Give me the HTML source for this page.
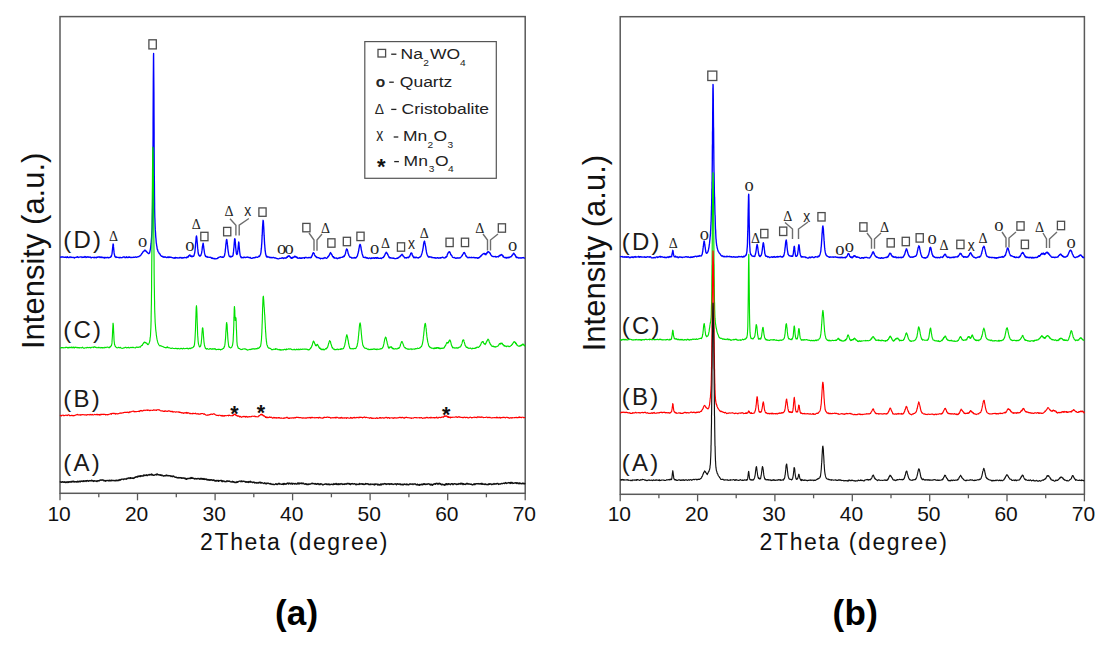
<!DOCTYPE html>
<html><head><meta charset="utf-8"><style>
html,body{margin:0;padding:0;background:#fff;}
body{width:1109px;height:649px;overflow:hidden;}
svg{display:block;}
text{font-family:"Liberation Sans",sans-serif;fill:#111;}
.tl{font-size:21px;}
.lg{font-size:15.5px;fill:#222;}
.sub{font-size:9px;fill:#222;}
.mk{font-family:"Liberation Serif",serif;fill:#262626;text-anchor:middle;}
.mks{font-family:"Liberation Sans",sans-serif;fill:#262626;text-anchor:middle;}
.cl{font-size:24px;fill:#1a1a1a;letter-spacing:2.2px;}
.ax{font-size:23px;fill:#111;letter-spacing:1.6px;}
.yl{font-size:31px;fill:#111;}
.pl{font-size:35px;font-weight:bold;fill:#000;letter-spacing:0.3px;}
</style></head><body>
<svg width="1109" height="649" viewBox="0 0 1109 649">
<rect x="60.0" y="16.6" width="465.2" height="476.7" fill="none" stroke="#595959" stroke-width="1.5"/><line x1="60.0" y1="493.3" x2="60.0" y2="500.3" stroke="#595959" stroke-width="1.3"/><line x1="98.8" y1="493.3" x2="98.8" y2="497.3" stroke="#595959" stroke-width="1.3"/><line x1="137.5" y1="493.3" x2="137.5" y2="500.3" stroke="#595959" stroke-width="1.3"/><line x1="176.3" y1="493.3" x2="176.3" y2="497.3" stroke="#595959" stroke-width="1.3"/><line x1="215.1" y1="493.3" x2="215.1" y2="500.3" stroke="#595959" stroke-width="1.3"/><line x1="253.8" y1="493.3" x2="253.8" y2="497.3" stroke="#595959" stroke-width="1.3"/><line x1="292.6" y1="493.3" x2="292.6" y2="500.3" stroke="#595959" stroke-width="1.3"/><line x1="331.4" y1="493.3" x2="331.4" y2="497.3" stroke="#595959" stroke-width="1.3"/><line x1="370.1" y1="493.3" x2="370.1" y2="500.3" stroke="#595959" stroke-width="1.3"/><line x1="408.9" y1="493.3" x2="408.9" y2="497.3" stroke="#595959" stroke-width="1.3"/><line x1="447.7" y1="493.3" x2="447.7" y2="500.3" stroke="#595959" stroke-width="1.3"/><line x1="486.4" y1="493.3" x2="486.4" y2="497.3" stroke="#595959" stroke-width="1.3"/><line x1="525.2" y1="493.3" x2="525.2" y2="500.3" stroke="#595959" stroke-width="1.3"/><rect x="620.2" y="16.7" width="464.2" height="477.6" fill="none" stroke="#595959" stroke-width="1.5"/><line x1="620.2" y1="494.3" x2="620.2" y2="501.3" stroke="#595959" stroke-width="1.3"/><line x1="658.9" y1="494.3" x2="658.9" y2="498.3" stroke="#595959" stroke-width="1.3"/><line x1="697.6" y1="494.3" x2="697.6" y2="501.3" stroke="#595959" stroke-width="1.3"/><line x1="736.2" y1="494.3" x2="736.2" y2="498.3" stroke="#595959" stroke-width="1.3"/><line x1="774.9" y1="494.3" x2="774.9" y2="501.3" stroke="#595959" stroke-width="1.3"/><line x1="813.6" y1="494.3" x2="813.6" y2="498.3" stroke="#595959" stroke-width="1.3"/><line x1="852.3" y1="494.3" x2="852.3" y2="501.3" stroke="#595959" stroke-width="1.3"/><line x1="891.0" y1="494.3" x2="891.0" y2="498.3" stroke="#595959" stroke-width="1.3"/><line x1="929.7" y1="494.3" x2="929.7" y2="501.3" stroke="#595959" stroke-width="1.3"/><line x1="968.4" y1="494.3" x2="968.4" y2="498.3" stroke="#595959" stroke-width="1.3"/><line x1="1007.0" y1="494.3" x2="1007.0" y2="501.3" stroke="#595959" stroke-width="1.3"/><line x1="1045.7" y1="494.3" x2="1045.7" y2="498.3" stroke="#595959" stroke-width="1.3"/><line x1="1084.4" y1="494.3" x2="1084.4" y2="501.3" stroke="#595959" stroke-width="1.3"/><text x="0" y="521.2" class="tl" text-anchor="middle" transform="translate(59.1,0) scale(1.0,1)">10</text><text x="0" y="521.2" class="tl" text-anchor="middle" transform="translate(136.6,0) scale(1.0,1)">20</text><text x="0" y="521.2" class="tl" text-anchor="middle" transform="translate(214.2,0) scale(1.0,1)">30</text><text x="0" y="521.2" class="tl" text-anchor="middle" transform="translate(291.7,0) scale(1.0,1)">40</text><text x="0" y="521.2" class="tl" text-anchor="middle" transform="translate(369.2,0) scale(1.0,1)">50</text><text x="0" y="521.2" class="tl" text-anchor="middle" transform="translate(446.8,0) scale(1.0,1)">60</text><text x="0" y="521.2" class="tl" text-anchor="middle" transform="translate(524.3,0) scale(1.0,1)">70</text><text x="0" y="521.2" class="tl" text-anchor="middle" transform="translate(619.3,0) scale(1.0,1)">10</text><text x="0" y="521.2" class="tl" text-anchor="middle" transform="translate(696.7,0) scale(1.0,1)">20</text><text x="0" y="521.2" class="tl" text-anchor="middle" transform="translate(774.0,0) scale(1.0,1)">30</text><text x="0" y="521.2" class="tl" text-anchor="middle" transform="translate(851.4,0) scale(1.0,1)">40</text><text x="0" y="521.2" class="tl" text-anchor="middle" transform="translate(928.8,0) scale(1.0,1)">50</text><text x="0" y="521.2" class="tl" text-anchor="middle" transform="translate(1006.1,0) scale(1.0,1)">60</text><text x="0" y="521.2" class="tl" text-anchor="middle" transform="translate(1083.5,0) scale(1.0,1)">70</text><polyline fill="none" stroke="#0000ff" stroke-width="1.35" stroke-linejoin="round" points="60.0,257.1 60.5,257.1 61.0,257.3 61.5,256.9 62.0,256.9 62.5,257.1 63.0,256.8 63.5,257.2 64.0,257.3 64.5,257.3 65.0,257.0 65.5,257.3 66.0,257.0 66.5,257.6 67.0,257.3 67.5,256.7 68.0,257.4 68.5,257.6 69.0,257.5 69.5,257.3 70.0,256.9 70.5,257.0 71.0,257.5 71.5,257.2 72.0,257.5 72.5,257.4 73.0,257.3 73.5,257.5 74.0,257.5 74.5,258.0 75.0,257.5 75.5,257.4 76.0,257.4 76.5,257.3 77.0,256.9 77.5,256.7 78.0,257.4 78.5,257.5 79.0,257.2 79.5,257.1 80.0,257.0 80.5,256.8 81.0,256.8 81.5,256.9 82.0,257.5 82.5,257.1 83.0,257.3 83.5,257.0 84.0,257.4 84.5,257.2 85.0,256.5 85.5,256.9 86.0,257.5 86.5,257.0 87.0,257.4 87.5,256.8 88.0,256.7 88.5,257.2 89.0,257.4 89.5,257.1 90.0,257.0 90.5,257.2 91.0,257.7 91.5,257.7 92.0,257.3 92.5,257.3 93.0,257.3 93.5,257.3 94.0,257.9 94.5,257.2 95.0,257.6 95.5,257.6 96.0,257.3 96.5,257.7 97.0,257.1 97.5,257.4 98.0,256.9 98.5,257.0 99.0,256.9 99.5,256.8 100.0,257.5 100.5,257.3 101.0,256.9 101.5,257.5 102.0,257.1 102.5,257.4 103.0,257.8 103.5,257.6 104.0,257.3 104.5,258.1 105.0,257.4 105.5,257.5 106.0,257.9 106.5,257.7 107.0,257.5 107.5,257.3 108.0,257.4 108.5,257.9 109.0,257.5 109.5,257.6 110.0,257.3 110.1,257.2 110.4,257.4 110.5,257.0 110.6,257.1 110.9,257.0 111.0,256.1 111.1,256.0 111.4,256.3 111.5,256.0 111.6,255.2 111.9,254.2 112.0,253.8 112.1,253.1 112.4,250.3 112.5,249.3 112.6,248.2 112.9,245.5 113.0,244.6 113.1,244.0 113.4,244.8 113.5,246.9 113.6,247.5 113.9,250.7 114.0,251.6 114.1,252.9 114.4,254.5 114.5,254.8 114.6,255.2 114.9,256.5 115.0,256.2 115.1,256.5 115.4,256.9 115.5,257.1 115.6,257.1 115.9,256.9 116.0,257.5 116.1,257.1 116.5,257.0 117.0,257.3 117.5,257.4 118.0,257.3 118.5,257.6 119.0,257.7 119.5,257.8 120.0,257.3 120.5,257.4 121.0,257.8 121.5,257.7 122.0,257.6 122.5,257.5 123.0,257.2 123.5,256.9 124.0,257.0 124.5,257.0 125.0,257.7 125.5,257.4 126.0,257.6 126.5,256.8 127.0,257.3 127.5,257.3 128.0,257.7 128.5,257.0 129.0,257.4 129.5,256.9 130.0,257.3 130.5,257.4 131.0,257.7 131.5,257.4 132.0,257.3 132.5,257.3 133.0,257.5 133.5,257.1 134.0,257.1 134.5,257.3 135.0,257.3 135.5,256.9 136.0,257.2 136.5,257.3 137.0,257.0 137.5,256.8 138.0,256.7 138.5,256.7 139.0,256.6 139.5,255.8 140.0,255.8 140.5,255.6 141.0,254.9 141.5,254.2 141.9,253.4 142.0,253.5 142.2,253.1 142.4,252.6 142.5,252.8 142.7,252.2 142.9,252.2 143.0,251.6 143.2,251.8 143.4,251.5 143.5,251.2 143.7,251.4 143.9,251.0 144.0,251.0 144.2,250.9 144.4,250.4 144.5,250.1 144.7,250.2 144.9,250.5 145.0,250.1 145.2,250.2 145.4,250.8 145.5,250.8 145.7,250.8 145.9,251.4 146.0,251.1 146.2,251.5 146.4,251.3 146.5,251.5 146.7,251.7 146.9,252.2 147.0,252.2 147.2,252.1 147.4,252.5 147.5,252.6 147.7,252.4 147.9,253.0 148.0,253.2 148.5,253.6 149.0,253.5 149.5,253.0 150.0,251.1 150.5,248.4 150.6,248.0 150.8,245.9 151.0,244.2 151.1,243.7 151.3,241.0 151.5,238.5 151.6,237.2 151.8,233.4 152.0,230.1 152.1,227.6 152.3,219.4 152.5,210.6 152.6,205.6 152.8,178.0 153.0,150.4 153.1,134.5 153.1,121.7 153.3,81.8 153.4,70.3 153.5,56.4 153.6,53.4 153.6,54.5 153.8,80.1 153.9,91.6 154.0,114.9 154.1,131.5 154.1,143.9 154.3,175.9 154.4,183.9 154.5,195.9 154.6,203.0 154.6,207.5 154.8,217.2 154.9,219.1 155.0,222.8 155.1,224.7 155.1,225.8 155.3,229.9 155.4,231.0 155.5,232.4 155.6,233.6 155.6,234.6 155.8,237.3 155.9,238.0 156.0,239.3 156.1,240.3 156.1,240.7 156.3,243.0 156.4,243.7 156.5,243.9 156.6,245.0 156.6,245.3 156.9,246.5 157.0,247.4 157.1,248.3 157.4,249.6 157.5,249.3 157.6,250.0 157.9,250.9 158.0,251.4 158.1,251.7 158.4,251.8 158.5,252.0 158.6,251.9 158.9,252.7 159.0,253.0 159.1,253.2 159.5,253.9 160.0,254.0 160.5,255.3 161.0,255.7 161.5,256.2 162.0,256.2 162.5,256.7 163.0,256.5 163.5,257.1 164.0,257.3 164.5,257.0 165.0,256.7 165.5,257.2 166.0,257.4 166.5,257.5 167.0,257.3 167.5,257.0 168.0,257.6 168.5,256.9 169.0,257.5 169.5,256.9 170.0,257.1 170.5,257.4 171.0,257.2 171.5,257.3 172.0,257.6 172.5,257.7 173.0,258.0 173.5,257.9 174.0,258.1 174.5,257.7 175.0,258.3 175.5,257.4 176.0,257.6 176.5,257.9 177.0,257.7 177.5,258.0 178.0,257.9 178.5,257.9 179.0,258.1 179.5,257.7 180.0,257.5 180.5,257.5 181.0,257.9 181.5,258.1 182.0,257.5 182.5,258.0 183.0,258.0 183.5,257.6 184.0,257.7 184.5,257.5 185.0,257.7 185.5,257.6 186.0,257.7 186.5,257.1 186.5,257.8 186.7,257.5 187.0,257.4 187.0,257.6 187.2,257.4 187.5,257.1 187.5,257.3 187.7,256.7 188.0,256.8 188.0,256.8 188.2,257.1 188.5,256.7 188.5,256.1 188.7,255.9 189.0,255.4 189.0,255.5 189.2,255.6 189.5,255.6 189.5,255.1 189.7,254.9 190.0,255.0 190.0,255.4 190.2,255.9 190.5,255.7 190.5,256.2 190.7,255.8 191.0,256.0 191.0,256.0 191.2,256.5 191.5,256.4 191.5,256.2 191.7,256.5 192.0,256.0 192.0,256.7 192.2,256.2 192.5,256.6 192.5,256.5 193.0,256.2 193.5,256.1 193.5,256.2 193.7,256.0 194.0,255.6 194.0,255.5 194.2,254.6 194.5,253.6 194.5,253.7 194.7,252.8 195.0,250.9 195.0,250.7 195.2,248.5 195.5,245.9 195.5,245.0 195.7,242.9 196.0,239.9 196.0,239.6 196.2,236.9 196.5,236.0 196.5,236.5 196.7,236.7 197.0,239.7 197.0,240.1 197.2,242.3 197.5,245.5 197.5,246.3 197.7,248.4 198.0,250.7 198.0,251.7 198.2,253.0 198.5,254.4 198.5,253.9 198.7,254.8 199.0,255.6 199.0,255.2 199.2,255.4 199.5,256.0 199.5,256.1 200.0,256.1 200.1,255.7 200.3,256.0 200.5,255.9 200.6,255.6 200.8,255.5 201.0,254.8 201.1,254.5 201.3,253.9 201.5,253.1 201.6,253.1 201.8,251.7 202.0,250.4 202.1,249.6 202.3,247.6 202.5,246.0 202.6,246.0 202.8,244.6 203.0,243.8 203.1,243.1 203.3,243.7 203.5,245.8 203.6,245.8 203.8,248.1 204.0,249.3 204.1,249.8 204.3,251.5 204.5,252.9 204.6,253.4 204.8,254.0 205.0,255.1 205.1,255.3 205.3,255.5 205.5,256.2 205.6,256.5 205.8,256.6 206.0,256.5 206.1,256.4 206.5,257.0 207.0,256.5 207.5,257.2 208.0,257.2 208.5,257.1 209.0,257.3 209.5,257.3 210.0,257.2 210.5,257.5 211.0,257.4 211.5,258.2 212.0,258.2 212.5,257.9 213.0,258.5 213.5,258.5 214.0,258.7 214.5,258.7 215.0,258.4 215.5,258.9 216.0,258.8 216.5,258.6 217.0,258.6 217.5,258.3 218.0,257.7 218.5,257.7 219.0,257.1 219.5,257.1 220.0,257.0 220.5,256.6 221.0,256.9 221.5,257.1 222.0,257.3 222.5,256.9 223.0,257.4 223.5,257.1 223.7,256.8 223.9,256.7 224.0,256.6 224.2,256.2 224.4,255.5 224.5,255.5 224.7,254.5 224.9,253.2 225.0,252.9 225.2,251.6 225.4,249.0 225.5,248.9 225.7,246.8 225.9,244.0 226.0,243.8 226.2,241.8 226.4,240.1 226.5,240.0 226.7,239.4 226.9,240.0 227.0,240.9 227.2,242.3 227.4,244.4 227.5,245.1 227.7,246.6 227.9,249.4 228.0,249.6 228.2,251.3 228.4,252.4 228.5,253.2 228.7,254.4 228.9,254.9 229.0,255.8 229.2,255.9 229.4,256.5 229.5,256.3 229.7,256.6 230.0,256.8 230.5,256.3 231.0,257.0 231.5,256.5 231.8,256.6 232.0,256.5 232.1,256.4 232.3,256.1 232.5,256.3 232.6,256.2 232.8,255.6 233.0,255.4 233.1,254.8 233.3,253.1 233.5,251.9 233.6,250.8 233.8,248.3 234.0,247.0 234.1,245.4 234.3,242.5 234.5,240.5 234.6,239.0 234.8,238.8 235.0,239.4 235.1,239.2 235.3,242.7 235.5,244.3 235.6,245.6 235.7,247.5 235.8,248.3 236.0,249.8 236.0,250.5 236.1,251.1 236.2,251.9 236.3,253.2 236.5,253.7 236.5,253.6 236.6,253.7 236.7,254.4 236.8,254.4 237.0,254.3 237.0,254.1 237.1,254.5 237.2,253.9 237.3,253.7 237.5,253.5 237.5,253.0 237.6,252.4 237.7,251.7 237.8,250.6 238.0,249.6 238.0,248.9 238.2,246.9 238.5,244.1 238.5,243.5 238.7,242.0 239.0,243.2 239.0,244.3 239.2,246.6 239.5,249.8 239.5,250.0 239.7,252.0 240.0,254.2 240.0,254.3 240.2,255.4 240.5,256.1 240.5,256.5 240.7,256.5 241.0,256.8 241.0,257.4 241.2,257.8 241.5,257.7 241.5,257.2 241.7,257.3 242.0,257.6 242.5,257.7 243.0,257.8 243.5,257.2 244.0,257.6 244.5,257.1 245.0,257.3 245.5,257.5 246.0,257.4 246.5,257.3 247.0,257.0 247.5,257.2 248.0,257.2 248.5,257.4 249.0,257.7 249.5,257.8 250.0,257.4 250.5,257.5 251.0,258.3 251.5,258.3 252.0,258.4 252.5,257.9 253.0,257.9 253.5,257.7 254.0,258.0 254.5,257.6 255.0,257.5 255.5,257.6 256.0,257.0 256.5,257.2 257.0,257.3 257.5,257.4 258.0,256.9 258.5,256.6 259.0,256.1 259.5,256.6 260.0,255.3 260.1,255.1 260.4,254.8 260.5,254.5 260.6,254.2 260.9,252.6 261.0,252.3 261.1,250.6 261.4,248.2 261.5,247.2 261.6,244.9 261.7,244.3 261.9,241.2 261.9,240.2 262.0,238.7 262.1,236.0 262.2,235.2 262.4,231.3 262.4,230.0 262.5,228.3 262.6,226.1 262.7,225.0 262.9,222.4 262.9,221.8 263.0,221.3 263.1,220.3 263.2,220.6 263.4,221.5 263.4,222.1 263.5,223.0 263.6,225.6 263.7,226.6 263.9,230.1 263.9,231.3 264.0,232.6 264.1,235.4 264.2,236.3 264.4,240.2 264.4,240.8 264.5,242.1 264.6,244.3 264.7,244.8 264.9,247.5 264.9,248.0 265.0,248.4 265.1,250.5 265.2,251.0 265.4,251.9 265.4,252.1 265.5,253.0 265.6,253.8 265.7,254.1 265.9,255.1 265.9,255.1 266.0,255.2 266.1,255.0 266.2,255.8 266.4,256.6 266.5,256.0 266.7,256.3 266.9,257.1 267.0,257.1 267.2,256.4 267.4,257.0 267.5,256.7 267.7,257.1 268.0,257.0 268.5,256.9 269.0,257.0 269.5,257.5 270.0,257.4 270.5,257.7 271.0,257.5 271.5,257.4 272.0,257.9 272.5,257.7 273.0,257.5 273.5,257.4 274.0,257.6 274.5,257.8 275.0,258.1 275.5,257.9 276.0,258.2 276.5,258.3 277.0,258.5 277.5,258.6 278.0,258.8 278.5,258.9 279.0,258.7 279.5,258.4 280.0,258.3 280.5,258.4 281.0,258.3 281.5,258.0 282.0,258.1 282.5,257.7 283.0,258.2 283.5,258.5 284.0,258.0 284.5,257.9 285.0,258.0 285.5,257.9 285.7,257.9 286.0,258.2 286.0,257.6 286.2,257.6 286.5,257.3 286.5,257.6 286.7,257.5 287.0,256.9 287.0,256.9 287.2,257.0 287.5,257.0 287.5,257.2 287.7,256.3 288.0,256.1 288.0,256.3 288.2,256.0 288.5,255.9 288.5,256.2 288.7,256.0 289.0,255.7 289.0,255.6 289.2,255.9 289.5,256.1 289.5,256.6 289.7,256.5 290.0,256.8 290.0,257.1 290.2,256.9 290.5,257.1 290.5,257.6 290.7,257.9 291.0,257.5 291.0,257.9 291.2,258.3 291.5,258.0 291.5,257.7 291.7,257.8 291.9,258.3 292.0,258.4 292.2,257.9 292.4,257.8 292.5,257.6 292.7,257.3 292.9,257.8 293.0,257.7 293.2,257.3 293.4,257.1 293.5,257.4 293.7,257.3 293.9,257.4 294.0,257.2 294.2,257.0 294.4,256.5 294.5,256.4 294.7,256.3 294.9,256.1 295.0,256.6 295.2,256.3 295.4,256.8 295.5,257.1 295.7,256.6 295.9,257.1 296.0,256.7 296.2,257.2 296.4,256.9 296.5,257.5 296.7,257.6 296.9,257.7 297.0,257.2 297.2,257.4 297.4,257.8 297.5,257.4 297.7,257.7 297.9,257.8 298.0,258.3 298.5,258.1 299.0,258.2 299.5,257.8 300.0,258.2 300.5,257.9 301.0,258.4 301.5,257.9 302.0,258.3 302.5,257.8 303.0,257.9 303.5,257.9 304.0,257.6 304.5,258.2 305.0,257.5 305.5,257.5 306.0,257.3 306.5,257.7 307.0,257.8 307.5,257.9 308.0,257.6 308.5,257.8 309.0,257.4 309.5,257.7 310.0,257.6 310.5,257.8 310.5,257.7 310.8,257.4 311.0,256.9 311.0,257.4 311.3,257.5 311.5,256.6 311.5,256.9 311.8,256.3 312.0,255.4 312.0,255.9 312.3,255.2 312.5,254.3 312.5,254.3 312.8,253.4 313.0,252.9 313.0,253.1 313.3,252.7 313.5,252.7 313.5,253.0 313.8,253.4 314.0,253.2 314.0,253.3 314.3,254.3 314.5,254.6 314.5,255.1 314.8,255.3 315.0,255.8 315.0,255.4 315.3,256.3 315.5,256.0 315.5,256.0 315.8,256.2 316.0,256.8 316.0,256.9 316.3,256.7 316.5,257.1 316.5,257.5 317.0,257.5 317.5,257.4 318.0,257.7 318.5,257.7 319.0,257.8 319.5,258.2 320.0,258.1 320.5,258.9 321.0,258.3 321.5,258.3 322.0,258.4 322.5,258.5 323.0,258.6 323.5,258.2 324.0,258.0 324.5,258.0 325.0,257.5 325.5,257.8 326.0,258.1 326.5,258.3 327.0,258.0 327.5,257.7 327.6,257.5 327.8,256.7 328.0,256.8 328.1,256.7 328.3,256.7 328.5,256.0 328.6,256.1 328.8,255.8 329.0,255.7 329.1,255.7 329.3,255.0 329.5,254.1 329.6,254.5 329.8,253.9 330.0,253.4 330.1,253.2 330.3,252.9 330.5,252.5 330.6,252.9 330.8,253.2 331.0,253.1 331.1,253.3 331.3,254.1 331.5,254.0 331.6,254.5 331.8,254.9 332.0,254.8 332.1,255.0 332.3,255.6 332.5,256.3 332.6,256.5 332.8,256.5 333.0,257.0 333.1,256.7 333.3,257.0 333.5,256.8 333.6,257.7 334.0,257.2 334.5,258.1 335.0,258.0 335.5,258.1 336.0,258.2 336.5,258.0 337.0,258.5 337.5,258.7 338.0,258.4 338.5,258.1 339.0,257.7 339.5,258.1 340.0,257.5 340.5,257.8 341.0,257.3 341.5,257.3 342.0,257.4 342.5,256.9 343.0,257.1 343.5,256.3 343.9,255.8 344.0,255.8 344.1,256.5 344.4,256.2 344.5,255.8 344.6,255.4 344.9,255.2 345.0,254.9 345.1,254.3 345.4,253.9 345.5,253.6 345.6,252.4 345.9,251.4 346.0,251.1 346.1,250.3 346.4,249.6 346.5,249.5 346.6,248.9 346.9,249.1 347.0,249.1 347.1,249.4 347.4,249.9 347.5,250.7 347.6,250.7 347.9,252.2 348.0,252.2 348.1,253.4 348.4,253.8 348.5,254.0 348.6,254.6 348.9,255.4 349.0,255.5 349.1,255.8 349.4,256.2 349.5,256.2 349.6,256.8 349.9,257.1 350.0,257.3 350.5,257.1 351.0,257.3 351.5,257.6 352.0,258.2 352.5,257.9 353.0,257.9 353.5,257.8 354.0,258.1 354.5,257.7 355.0,257.5 355.5,258.0 356.0,257.9 356.5,257.2 357.0,256.4 357.1,256.6 357.3,255.8 357.5,255.6 357.6,254.9 357.8,254.0 358.0,253.4 358.1,253.3 358.3,252.3 358.5,251.1 358.6,251.3 358.8,249.7 359.0,248.3 359.1,248.2 359.3,246.8 359.5,245.6 359.6,245.2 359.8,244.9 360.0,244.7 360.1,244.3 360.3,244.8 360.5,245.0 360.6,245.5 360.8,246.2 361.0,248.0 361.1,248.4 361.3,249.9 361.5,250.3 361.6,251.1 361.8,251.8 362.0,253.1 362.1,253.7 362.3,254.1 362.5,254.9 362.6,255.0 362.8,255.8 363.0,256.0 363.1,256.8 363.5,257.4 364.0,257.3 364.5,257.4 365.0,257.7 365.5,257.2 366.0,257.3 366.5,258.1 367.0,257.7 367.5,257.9 368.0,258.4 368.5,258.5 369.0,258.1 369.5,257.9 370.0,258.1 370.5,258.6 371.0,258.6 371.5,257.9 372.0,258.4 372.5,258.0 373.0,258.1 373.5,257.8 374.0,258.3 374.5,258.4 375.0,257.7 375.5,258.0 376.0,257.7 376.5,258.3 377.0,257.5 377.5,257.6 378.0,258.3 378.5,258.0 379.0,258.4 379.5,258.4 380.0,258.4 380.5,258.0 381.0,258.3 381.5,258.5 382.0,257.9 382.5,257.6 383.0,257.5 383.4,257.3 383.5,257.5 383.7,256.7 383.9,256.3 384.0,256.3 384.2,256.3 384.4,256.2 384.5,255.4 384.7,255.3 384.9,254.9 385.0,254.6 385.2,254.0 385.4,253.5 385.5,253.9 385.7,253.3 385.9,252.6 386.0,252.9 386.2,252.1 386.4,252.8 386.5,252.5 386.7,252.8 386.9,253.3 387.0,252.8 387.2,253.6 387.4,253.7 387.5,253.7 387.7,254.7 387.9,254.6 388.0,254.8 388.2,255.6 388.4,255.6 388.5,255.9 388.7,256.4 388.9,256.5 389.0,257.5 389.2,257.6 389.4,257.2 389.5,257.6 390.0,258.0 390.5,257.6 391.0,258.1 391.5,258.1 392.0,258.0 392.5,258.1 393.0,258.3 393.5,258.0 394.0,258.4 394.5,258.5 395.0,258.6 395.5,258.7 396.0,258.6 396.5,258.4 397.0,258.1 397.5,258.3 398.0,257.7 398.5,257.8 398.9,257.1 399.0,257.4 399.2,256.8 399.4,256.8 399.5,257.0 399.7,256.9 399.9,256.8 400.0,256.3 400.2,256.4 400.4,255.8 400.5,256.1 400.7,255.9 400.9,255.2 401.0,255.5 401.2,255.3 401.4,254.9 401.5,255.0 401.7,254.4 401.9,254.4 402.0,254.1 402.2,254.7 402.4,254.8 402.5,254.8 402.7,255.0 402.9,255.7 403.0,255.3 403.2,256.1 403.4,256.1 403.5,256.3 403.7,256.6 403.9,256.6 404.0,256.8 404.2,257.1 404.4,257.0 404.5,257.4 404.7,257.9 404.9,258.0 405.0,257.7 405.5,257.9 406.0,257.6 406.5,258.1 407.0,257.5 407.5,257.6 408.0,257.2 408.2,257.6 408.5,257.5 408.5,257.7 408.7,257.1 409.0,257.0 409.0,256.9 409.2,256.8 409.5,256.9 409.5,256.1 409.7,256.0 410.0,255.8 410.0,255.8 410.2,254.7 410.5,254.5 410.5,254.5 410.7,253.3 411.0,253.1 411.0,253.5 411.2,252.9 411.5,253.1 411.5,253.1 411.7,253.2 412.0,253.4 412.0,253.6 412.2,254.9 412.5,255.5 412.5,255.7 412.7,255.5 413.0,256.1 413.0,256.4 413.2,256.7 413.5,257.2 413.5,257.6 413.7,257.3 414.0,257.2 414.0,257.7 414.2,257.5 414.5,257.1 415.0,257.5 415.5,257.7 416.0,257.1 416.5,257.4 417.0,257.7 417.5,257.9 418.0,257.7 418.5,258.0 419.0,257.5 419.5,257.2 420.0,257.2 420.5,256.5 421.0,256.1 421.4,254.9 421.5,254.7 421.7,254.0 421.9,253.4 422.0,253.0 422.2,252.4 422.4,251.4 422.5,251.1 422.7,250.3 422.9,248.9 423.0,248.7 423.2,247.3 423.4,245.8 423.5,244.6 423.7,243.8 423.9,242.3 424.0,242.5 424.2,241.6 424.4,241.2 424.5,241.1 424.7,241.7 424.9,242.7 425.0,243.1 425.2,244.5 425.4,245.7 425.5,245.8 425.7,246.8 425.9,248.3 426.0,249.6 426.2,250.1 426.4,251.7 426.5,252.2 426.7,253.3 426.9,253.7 427.0,254.2 427.2,254.8 427.4,255.0 427.5,255.7 428.0,256.1 428.5,257.1 429.0,257.1 429.5,256.7 430.0,257.0 430.5,256.9 431.0,256.9 431.5,257.3 432.0,257.7 432.5,257.4 433.0,257.6 433.5,257.6 434.0,257.9 434.5,257.6 435.0,258.1 435.5,257.8 436.0,258.2 436.5,258.1 437.0,257.7 437.5,257.7 438.0,258.0 438.5,258.2 439.0,257.8 439.5,257.8 440.0,258.2 440.5,257.6 441.0,257.9 441.5,257.6 442.0,257.5 442.5,257.2 443.0,257.3 443.5,257.9 444.0,257.8 444.5,257.8 445.0,258.0 445.5,257.0 446.0,257.2 446.2,257.2 446.5,256.4 446.5,256.8 446.7,256.4 447.0,256.3 447.0,255.9 447.2,254.9 447.5,254.7 447.5,254.1 447.7,253.7 448.0,253.3 448.0,252.9 448.2,252.9 448.5,252.4 448.5,252.8 448.7,252.2 449.0,251.8 449.0,252.0 449.2,252.0 449.5,251.7 449.5,252.2 449.7,252.0 450.0,252.3 450.0,252.6 450.2,253.1 450.5,253.4 450.5,253.9 450.7,254.5 451.0,254.8 451.0,255.0 451.2,254.8 451.5,255.5 451.5,255.5 451.7,255.5 452.0,256.3 452.0,255.8 452.2,256.5 452.5,257.1 453.0,257.4 453.5,257.6 454.0,257.7 454.5,257.5 455.0,257.9 455.5,258.3 456.0,258.2 456.5,258.0 457.0,258.4 457.5,257.8 458.0,257.9 458.5,258.0 459.0,258.2 459.5,257.8 460.0,257.7 460.5,257.7 460.9,257.2 461.0,256.9 461.2,256.7 461.4,256.4 461.5,256.2 461.7,255.9 461.9,256.0 462.0,256.0 462.2,255.4 462.4,255.4 462.5,254.6 462.7,254.4 462.9,254.2 463.0,254.1 463.2,253.7 463.4,253.7 463.5,252.9 463.7,252.8 463.9,252.7 464.0,253.1 464.2,252.5 464.4,252.5 464.5,252.9 464.7,253.1 464.9,253.4 465.0,253.8 465.2,254.3 465.4,254.7 465.5,254.7 465.7,255.2 465.9,256.0 466.0,256.2 466.2,255.9 466.4,256.3 466.5,256.6 466.7,256.4 466.9,256.9 467.0,257.1 467.5,257.5 468.0,257.8 468.5,257.7 469.0,257.2 469.5,257.6 470.0,257.5 470.5,257.6 471.0,257.5 471.5,257.3 472.0,257.7 472.5,257.6 473.0,257.5 473.5,257.5 474.0,257.5 474.5,257.7 475.0,258.0 475.5,257.6 476.0,257.8 476.5,257.7 477.0,257.8 477.5,258.3 478.0,257.6 478.5,258.0 479.0,257.8 479.5,257.2 480.0,256.6 480.3,256.8 480.5,256.7 480.6,255.9 480.8,255.9 481.0,256.1 481.1,256.1 481.3,255.5 481.5,255.7 481.6,255.4 481.8,255.4 482.0,254.8 482.1,254.7 482.3,254.6 482.5,254.3 482.6,254.3 482.8,254.1 483.0,253.8 483.1,253.8 483.3,253.7 483.5,253.9 483.6,253.8 483.8,253.5 484.0,253.9 484.1,253.9 484.3,253.6 484.5,253.6 484.6,253.4 484.8,254.1 485.0,254.5 485.1,254.5 485.3,253.8 485.5,254.3 485.6,254.2 485.8,254.3 485.8,254.1 486.0,254.7 486.0,254.5 486.1,253.7 486.3,254.1 486.3,253.6 486.5,253.2 486.5,253.4 486.8,253.6 487.0,253.5 487.0,252.6 487.3,252.4 487.5,251.9 487.5,252.4 487.8,252.0 488.0,251.8 488.0,251.7 488.3,252.0 488.5,252.1 488.5,251.7 488.8,251.9 489.0,252.1 489.0,252.2 489.3,252.6 489.5,252.4 489.5,252.7 489.8,252.9 490.0,253.4 490.0,253.0 490.3,253.4 490.5,253.9 490.5,254.4 490.8,254.4 491.0,255.1 491.0,255.0 491.3,255.5 491.5,255.5 491.5,255.7 491.8,255.7 492.0,256.2 492.5,256.4 493.0,256.5 493.5,256.7 494.0,256.6 494.5,256.6 495.0,256.5 495.5,256.5 496.0,257.2 496.5,256.8 497.0,256.6 497.5,256.6 498.0,256.6 498.2,257.0 498.4,256.3 498.5,256.7 498.7,256.4 498.9,256.1 499.0,256.3 499.2,255.9 499.4,255.4 499.5,255.9 499.7,255.8 499.9,255.3 500.0,255.1 500.2,255.5 500.4,255.4 500.5,255.5 500.7,255.0 500.9,255.1 501.0,255.0 501.2,254.5 501.4,254.6 501.5,254.7 501.7,254.7 501.9,254.7 502.0,254.9 502.2,255.5 502.4,255.4 502.5,255.7 502.7,255.3 502.9,255.8 503.0,256.7 503.2,256.0 503.4,256.7 503.5,257.0 503.7,257.1 503.9,257.2 504.0,257.1 504.2,257.6 504.5,257.6 505.0,257.7 505.5,257.9 506.0,257.3 506.5,258.1 507.0,257.7 507.5,257.8 508.0,257.3 508.5,257.8 509.0,257.1 509.5,257.6 510.0,257.1 510.5,256.9 510.6,256.8 510.8,256.9 511.0,256.9 511.1,256.4 511.3,256.2 511.5,255.9 511.6,255.7 511.8,256.1 512.0,255.6 512.1,255.2 512.3,254.9 512.5,255.2 512.6,254.7 512.8,254.7 513.0,254.2 513.1,254.3 513.3,253.4 513.5,253.2 513.6,253.4 513.8,253.7 514.0,253.8 514.1,253.5 514.3,254.1 514.5,254.1 514.6,254.1 514.8,254.7 515.0,255.2 515.1,254.7 515.3,255.7 515.5,255.5 515.6,256.1 515.8,256.0 516.0,257.1 516.1,256.7 516.3,257.4 516.5,256.9 516.6,257.3 517.0,257.7 517.5,257.5 518.0,257.5 518.5,258.0 519.0,258.1 519.5,257.8 520.0,257.7 520.5,257.8 521.0,258.2 521.5,257.8 522.0,257.9 522.5,257.7 523.0,257.8 523.5,257.5 524.0,257.9 524.5,258.1 525.0,258.1"/><polyline fill="none" stroke="#00e000" stroke-width="1.15" stroke-linejoin="round" points="60.0,347.7 60.5,347.9 61.0,347.9 61.5,347.6 62.0,347.5 62.5,347.8 63.0,347.6 63.5,347.8 64.0,347.8 64.5,347.7 65.0,347.6 65.5,347.7 66.0,347.2 66.5,347.5 67.0,347.3 67.5,347.9 68.0,347.4 68.5,348.0 69.0,347.3 69.5,347.7 70.0,347.3 70.5,347.4 71.0,347.8 71.5,347.1 72.0,347.0 72.5,347.8 73.0,347.4 73.5,347.1 74.0,347.9 74.5,347.9 75.0,347.2 75.5,347.4 76.0,347.1 76.5,347.6 77.0,347.7 77.5,347.4 78.0,348.0 78.5,347.6 79.0,347.5 79.5,348.0 80.0,347.6 80.5,347.7 81.0,347.8 81.5,347.8 82.0,347.6 82.5,347.2 83.0,347.7 83.5,348.1 84.0,348.2 84.5,348.1 85.0,347.9 85.5,347.8 86.0,347.7 86.5,347.9 87.0,347.4 87.5,347.4 88.0,347.7 88.5,347.6 89.0,347.7 89.5,347.5 90.0,347.3 90.5,348.0 91.0,347.7 91.5,347.5 92.0,347.1 92.5,347.2 93.0,347.2 93.5,347.6 94.0,346.9 94.5,347.1 95.0,346.8 95.5,347.4 96.0,347.3 96.5,347.7 97.0,347.7 97.5,347.7 98.0,347.4 98.5,347.6 99.0,347.4 99.5,347.6 100.0,347.7 100.5,347.9 101.0,347.4 101.5,347.8 102.0,347.5 102.5,348.0 103.0,347.7 103.5,347.6 104.0,348.0 104.5,347.8 105.0,347.2 105.5,347.5 106.0,347.7 106.5,347.2 107.0,347.2 107.5,347.1 108.0,347.1 108.5,347.5 109.0,347.8 109.5,347.6 110.0,346.9 110.1,346.4 110.4,346.6 110.5,346.8 110.6,346.8 110.9,346.3 111.0,345.8 111.1,346.0 111.4,345.6 111.5,345.5 111.6,344.8 111.9,343.7 112.0,342.4 112.1,340.2 112.4,336.3 112.5,333.6 112.6,330.7 112.9,325.8 113.0,323.5 113.1,323.2 113.4,325.6 113.5,328.1 113.6,330.7 113.9,336.0 114.0,339.2 114.1,340.7 114.4,343.0 114.5,344.5 114.6,344.6 114.9,345.1 115.0,345.5 115.1,346.2 115.4,346.3 115.5,346.3 115.6,346.9 115.9,347.0 116.0,347.0 116.1,347.0 116.5,347.5 117.0,347.9 117.5,347.7 118.0,347.6 118.5,347.4 119.0,347.4 119.5,347.8 120.0,347.7 120.5,347.3 121.0,347.9 121.5,348.2 122.0,348.3 122.5,348.3 123.0,348.2 123.5,347.9 124.0,348.0 124.5,347.7 125.0,347.4 125.5,347.4 126.0,347.3 126.5,347.9 127.0,347.8 127.5,347.6 128.0,347.7 128.5,347.3 129.0,347.7 129.5,347.9 130.0,347.7 130.5,347.4 131.0,347.5 131.5,347.4 132.0,347.7 132.5,347.3 133.0,347.3 133.5,347.4 134.0,347.7 134.5,347.7 135.0,347.7 135.5,347.9 136.0,347.3 136.5,347.0 137.0,347.4 137.5,347.4 138.0,347.0 138.5,347.4 139.0,347.2 139.5,346.9 140.0,346.8 140.5,347.1 141.0,346.0 141.5,345.8 141.5,345.6 141.8,345.4 142.0,345.4 142.0,345.1 142.3,345.4 142.5,344.9 142.5,344.8 142.8,344.0 143.0,343.9 143.0,344.0 143.3,343.6 143.5,342.8 143.5,343.1 143.8,343.1 144.0,342.8 144.0,342.3 144.3,342.3 144.5,342.2 144.5,342.0 144.8,342.2 145.0,342.2 145.0,342.5 145.3,342.6 145.5,342.6 145.5,342.4 145.8,342.9 146.0,342.8 146.0,342.9 146.3,343.2 146.5,343.3 146.5,343.0 146.8,343.1 147.0,343.7 147.0,343.6 147.3,343.8 147.5,344.5 147.5,344.1 148.0,344.7 148.5,344.1 149.0,343.2 149.5,342.2 149.9,340.5 150.0,339.5 150.1,338.2 150.4,336.4 150.5,335.2 150.6,332.9 150.8,329.2 150.9,327.2 151.0,323.6 151.1,320.8 151.1,318.2 151.3,307.6 151.4,303.4 151.5,293.8 151.6,287.8 151.6,281.3 151.8,259.9 151.9,252.4 152.0,236.9 152.1,226.7 152.1,218.2 152.3,192.8 152.4,185.2 152.5,171.1 152.6,163.8 152.6,158.8 152.8,148.2 152.9,147.2 153.0,149.4 153.1,151.9 153.1,154.9 153.3,171.8 153.4,177.7 153.5,192.3 153.6,201.0 153.6,209.0 153.8,233.5 153.9,241.4 154.0,255.1 154.1,262.8 154.1,268.9 154.3,286.0 154.4,290.9 154.5,298.7 154.6,302.1 154.6,305.6 154.8,312.8 154.9,314.8 155.0,318.0 155.1,319.7 155.1,321.1 155.3,324.0 155.4,324.9 155.5,326.6 155.6,327.6 155.6,328.3 155.8,330.1 155.9,330.8 156.0,332.0 156.1,332.3 156.3,334.8 156.5,335.9 156.6,336.6 156.8,338.0 157.0,339.2 157.5,341.4 158.0,343.0 158.5,344.1 159.0,345.0 159.5,345.6 160.0,346.0 160.5,345.6 161.0,345.8 161.5,346.2 162.0,346.3 162.5,346.5 163.0,346.7 163.5,346.9 164.0,347.1 164.5,347.5 165.0,347.5 165.5,347.8 166.0,347.6 166.5,347.4 167.0,347.6 167.5,346.8 168.0,347.3 168.5,347.8 169.0,347.7 169.5,347.7 170.0,348.2 170.5,348.2 171.0,348.4 171.5,348.4 172.0,348.3 172.5,348.0 173.0,348.3 173.5,348.5 174.0,348.5 174.5,348.5 175.0,348.6 175.5,348.2 176.0,348.2 176.5,348.6 177.0,348.5 177.5,348.8 178.0,348.3 178.5,348.5 179.0,348.8 179.5,348.9 180.0,348.8 180.5,348.6 181.0,348.4 181.5,348.4 182.0,348.8 182.5,349.0 183.0,348.5 183.5,348.2 184.0,348.5 184.5,348.7 185.0,348.6 185.5,348.5 186.0,348.5 186.5,348.5 187.0,348.1 187.5,348.4 188.0,348.8 188.5,348.8 189.0,348.3 189.5,348.6 190.0,348.2 190.5,348.6 191.0,348.4 191.5,347.8 192.0,347.9 192.5,347.8 193.0,347.4 193.5,347.0 193.5,346.5 193.7,346.4 194.0,346.4 194.0,345.8 194.2,345.6 194.5,344.5 194.5,343.9 194.7,342.3 195.0,339.0 195.0,338.6 195.2,334.8 195.5,329.0 195.5,328.5 195.7,321.8 196.0,314.0 196.0,313.1 196.2,307.9 196.5,305.7 196.5,306.0 196.7,308.1 197.0,314.9 197.0,315.6 197.2,322.2 197.5,329.8 197.5,331.0 197.7,335.4 198.0,339.1 198.0,339.8 198.2,341.9 198.5,344.1 198.5,343.9 198.7,344.7 199.0,345.7 199.0,345.7 199.2,346.2 199.5,346.3 199.5,346.8 199.7,346.4 199.9,346.9 200.0,346.5 200.2,346.4 200.4,346.1 200.5,346.3 200.7,345.8 200.9,344.5 201.0,344.1 201.2,343.3 201.4,340.9 201.5,340.0 201.7,338.2 201.9,335.0 202.0,333.3 202.2,331.1 202.4,328.2 202.5,328.3 202.7,327.8 202.9,328.5 203.0,329.8 203.2,331.5 203.4,334.5 203.5,336.3 203.7,338.1 203.9,341.0 204.0,342.0 204.2,343.4 204.4,344.9 204.5,345.3 204.7,346.0 204.9,346.9 205.0,347.0 205.2,347.4 205.4,348.3 205.5,348.1 205.7,348.5 206.0,348.7 206.5,349.2 207.0,348.5 207.5,348.6 208.0,349.1 208.5,349.2 209.0,349.2 209.5,348.9 210.0,348.6 210.5,348.5 211.0,349.1 211.5,349.1 212.0,348.9 212.5,349.2 213.0,348.7 213.5,348.9 214.0,349.1 214.5,348.7 215.0,349.2 215.5,348.9 216.0,349.6 216.5,349.6 217.0,349.5 217.5,349.5 218.0,349.2 218.5,349.6 219.0,349.3 219.5,349.5 220.0,349.3 220.5,350.0 221.0,349.5 221.5,349.4 222.0,349.3 222.5,349.1 223.0,348.5 223.5,348.3 223.7,348.3 223.9,347.5 224.0,347.7 224.2,346.6 224.4,346.8 224.5,346.5 224.7,345.7 224.9,344.6 225.0,343.7 225.2,341.9 225.4,339.4 225.5,338.8 225.7,335.7 225.9,331.5 226.0,330.5 226.2,327.5 226.4,324.0 226.5,323.3 226.7,322.5 226.9,323.7 227.0,324.0 227.2,326.9 227.4,331.9 227.5,332.1 227.7,335.7 227.9,338.9 228.0,340.2 228.2,342.0 228.4,343.8 228.5,344.7 228.7,345.8 228.9,346.8 229.0,346.3 229.2,346.8 229.4,347.4 229.5,347.2 229.7,347.4 230.0,347.6 230.5,347.9 231.0,347.7 231.4,347.4 231.5,347.0 231.7,347.2 231.9,346.7 232.0,346.3 232.2,345.9 232.4,345.9 232.5,345.2 232.7,344.1 232.9,342.6 233.0,342.1 233.2,339.6 233.2,338.8 233.4,334.5 233.5,333.3 233.7,327.7 233.8,326.1 233.9,318.8 234.0,317.4 234.2,310.7 234.2,309.9 234.4,306.5 234.5,306.9 234.7,309.6 234.8,310.4 234.9,315.1 235.0,315.8 235.2,319.2 235.2,320.4 235.4,320.3 235.5,320.2 235.7,318.5 235.8,318.6 235.9,317.7 236.0,318.2 236.2,321.7 236.2,322.7 236.4,329.2 236.5,330.1 236.7,335.7 236.8,337.8 236.9,341.6 237.0,342.3 237.2,344.6 237.2,344.7 237.4,345.9 237.5,345.9 237.8,346.6 238.0,347.3 238.2,348.2 238.5,348.3 238.8,348.2 239.0,348.5 239.5,348.5 240.0,349.0 240.5,349.2 241.0,349.6 241.5,349.5 242.0,349.3 242.5,349.3 243.0,348.9 243.5,349.0 244.0,349.0 244.5,348.8 245.0,348.9 245.5,349.1 246.0,349.1 246.5,349.7 247.0,349.6 247.5,350.1 248.0,350.0 248.5,349.8 249.0,349.7 249.5,349.5 250.0,349.3 250.5,349.6 251.0,349.5 251.5,349.0 252.0,349.2 252.5,348.8 253.0,349.0 253.5,348.7 254.0,348.9 254.5,349.1 255.0,348.8 255.5,348.7 256.0,349.0 256.5,348.6 257.0,348.8 257.5,348.1 258.0,348.0 258.5,348.4 259.0,347.8 259.5,347.6 260.0,346.8 260.1,346.4 260.4,346.5 260.5,346.0 260.6,345.9 260.9,344.1 261.0,343.6 261.1,342.7 261.4,340.0 261.5,339.1 261.6,336.4 261.7,335.3 261.9,331.0 261.9,329.7 262.0,328.9 262.1,324.8 262.2,323.3 262.4,316.5 262.4,314.6 262.5,313.3 262.6,308.1 262.7,306.6 262.9,301.3 262.9,300.4 263.0,298.9 263.1,296.8 263.2,297.0 263.4,296.2 263.4,297.1 263.5,297.3 263.6,299.1 263.7,299.6 263.9,302.8 263.9,303.8 264.0,304.6 264.1,306.7 264.2,307.1 264.4,310.0 264.4,310.8 264.5,312.1 264.6,314.4 264.7,314.3 264.9,317.9 264.9,319.4 265.0,319.8 265.1,322.3 265.2,323.4 265.4,327.5 265.4,327.9 265.5,329.3 265.6,331.4 265.7,332.4 265.9,335.0 265.9,335.9 266.0,336.7 266.1,338.5 266.2,338.6 266.4,341.4 266.5,341.4 266.7,343.2 266.9,344.7 267.0,345.1 267.2,345.1 267.4,346.0 267.5,346.4 267.7,347.0 268.0,347.1 268.5,348.0 269.0,348.2 269.5,348.1 270.0,348.4 270.5,348.5 271.0,348.9 271.5,349.7 272.0,349.5 272.5,349.6 273.0,349.7 273.5,349.2 274.0,349.3 274.5,349.2 275.0,349.4 275.5,348.7 276.0,349.3 276.5,348.9 277.0,349.0 277.5,349.4 278.0,349.6 278.5,349.7 279.0,349.4 279.5,349.5 280.0,350.2 280.5,349.5 281.0,350.2 281.5,349.8 282.0,349.8 282.5,349.7 283.0,350.1 283.5,349.6 284.0,349.6 284.5,349.3 285.0,349.4 285.5,349.6 286.0,349.9 286.5,348.9 287.0,349.4 287.5,349.2 288.0,349.1 288.5,348.9 289.0,348.8 289.5,349.1 290.0,349.1 290.5,348.8 291.0,349.0 291.5,349.5 292.0,349.6 292.5,349.8 293.0,349.7 293.5,349.6 294.0,349.4 294.5,349.2 295.0,350.0 295.5,349.7 296.0,349.7 296.5,349.2 297.0,349.7 297.5,349.7 298.0,349.2 298.5,349.1 299.0,349.8 299.5,349.6 300.0,349.1 300.5,349.1 301.0,349.6 301.5,349.3 302.0,349.4 302.5,349.1 303.0,349.1 303.5,349.2 304.0,349.1 304.5,349.0 305.0,349.1 305.5,349.3 306.0,349.1 306.5,349.1 307.0,349.5 307.5,349.4 308.0,350.0 308.5,349.9 309.0,349.6 309.5,349.6 310.0,348.8 310.5,348.5 310.5,348.3 310.8,347.7 311.0,347.9 311.0,347.2 311.3,347.4 311.5,346.7 311.5,347.0 311.8,345.6 312.0,345.8 312.0,345.8 312.3,344.8 312.5,343.9 312.5,343.8 312.8,342.8 313.0,342.4 313.0,342.1 313.3,341.4 313.5,341.0 313.5,341.1 313.8,341.2 314.0,341.8 314.0,341.8 314.3,342.2 314.4,343.0 314.5,342.8 314.5,343.0 314.7,343.4 314.8,343.9 314.9,343.8 315.0,344.1 315.0,344.3 315.2,344.8 315.3,344.6 315.4,345.1 315.5,345.6 315.5,345.2 315.7,345.2 315.8,345.6 315.9,345.5 316.0,345.2 316.0,345.1 316.2,345.5 316.3,345.2 316.4,345.8 316.5,345.3 316.5,345.5 316.7,345.4 316.9,345.2 317.0,344.5 317.2,344.9 317.4,344.4 317.5,345.0 317.7,344.8 317.9,344.9 318.0,345.4 318.2,345.7 318.4,346.1 318.5,346.5 318.7,346.9 318.9,347.2 319.0,347.4 319.2,347.2 319.4,348.0 319.5,348.1 319.7,348.5 319.9,348.3 320.0,348.5 320.2,348.0 320.4,348.4 320.5,349.1 321.0,348.8 321.5,349.7 322.0,349.1 322.5,349.3 323.0,349.8 323.5,349.1 324.0,349.6 324.5,349.8 325.0,349.3 325.5,348.7 326.0,348.4 326.5,348.8 326.8,347.8 327.0,348.0 327.1,348.0 327.3,347.4 327.5,347.4 327.6,347.4 327.8,346.3 328.0,345.8 328.1,346.0 328.3,344.6 328.5,344.1 328.6,343.8 328.8,343.1 329.0,342.6 329.1,342.1 329.3,341.4 329.5,340.9 329.6,340.5 329.8,340.8 330.0,340.9 330.1,341.2 330.3,341.3 330.5,341.6 330.6,342.2 330.8,343.6 331.0,344.0 331.1,344.5 331.3,344.9 331.5,345.5 331.6,345.8 331.8,346.6 332.0,346.7 332.1,347.6 332.3,347.5 332.5,347.4 332.6,347.7 332.8,348.3 333.0,348.7 333.5,349.2 334.0,348.9 334.5,349.7 335.0,349.7 335.5,349.5 336.0,349.7 336.5,349.4 337.0,349.2 337.5,349.0 338.0,349.7 338.5,349.6 339.0,349.2 339.5,349.3 340.0,349.2 340.5,349.4 341.0,348.7 341.5,349.2 342.0,348.7 342.5,348.9 343.0,348.7 343.5,348.4 343.9,347.6 344.0,347.0 344.1,347.1 344.4,346.2 344.5,345.9 344.6,345.7 344.9,344.6 345.0,343.4 345.1,343.1 345.4,341.8 345.5,341.4 345.6,340.3 345.9,339.1 346.0,338.3 346.1,337.3 346.4,336.5 346.5,335.7 346.6,335.0 346.9,334.8 347.0,335.0 347.1,335.8 347.4,336.4 347.5,336.8 347.6,337.6 347.9,339.4 348.0,339.5 348.1,340.5 348.4,341.7 348.5,342.7 348.6,343.5 348.9,344.6 349.0,345.2 349.1,345.4 349.4,346.8 349.5,346.7 349.6,347.5 349.9,348.3 350.0,348.1 350.5,348.6 351.0,348.9 351.5,348.8 352.0,348.6 352.5,348.6 353.0,349.0 353.5,348.9 354.0,348.4 354.5,348.5 355.0,348.7 355.5,348.4 356.0,348.2 356.5,347.1 357.0,346.0 357.1,346.2 357.3,344.6 357.5,343.4 357.6,343.4 357.8,342.4 358.0,340.8 358.1,340.2 358.3,338.2 358.5,335.9 358.6,335.8 358.8,332.7 359.0,331.0 359.1,330.3 359.3,327.3 359.5,325.5 359.6,324.7 359.8,323.6 360.0,323.3 360.1,322.8 360.3,323.6 360.5,324.6 360.6,325.3 360.8,327.5 361.0,329.4 361.1,330.3 361.3,333.0 361.5,335.0 361.6,335.9 361.8,338.1 362.0,340.0 362.1,340.0 362.3,342.0 362.5,343.0 362.6,343.9 362.8,344.8 363.0,345.5 363.1,345.4 363.5,346.6 364.0,347.1 364.5,348.0 365.0,348.1 365.5,348.2 366.0,348.5 366.5,348.3 367.0,348.9 367.5,349.3 368.0,349.0 368.5,349.0 369.0,349.8 369.5,349.5 370.0,349.4 370.5,349.3 371.0,349.7 371.5,349.2 372.0,349.5 372.5,349.4 373.0,349.1 373.5,349.1 374.0,348.9 374.5,348.9 375.0,349.2 375.5,349.4 376.0,349.1 376.5,349.6 377.0,349.0 377.5,349.0 378.0,349.6 378.5,349.3 379.0,349.2 379.5,349.1 380.0,349.2 380.5,348.8 381.0,348.6 381.5,348.8 382.0,348.5 382.5,347.8 382.6,347.3 382.9,347.4 383.0,346.9 383.1,346.7 383.4,346.1 383.5,345.1 383.6,344.9 383.9,343.8 384.0,343.4 384.1,342.4 384.4,341.1 384.5,340.5 384.6,339.9 384.9,338.6 385.0,338.6 385.1,338.0 385.4,337.4 385.5,337.0 385.6,337.3 385.9,337.3 386.0,337.6 386.1,338.3 386.4,338.8 386.5,339.8 386.6,340.6 386.9,341.2 387.0,341.7 387.1,342.3 387.4,344.0 387.5,344.1 387.6,344.4 387.9,345.1 388.0,345.9 388.1,346.3 388.1,346.9 388.3,347.0 388.4,346.8 388.5,347.7 388.6,347.6 388.6,347.8 388.8,348.1 389.0,348.1 389.1,348.0 389.3,347.8 389.5,347.2 389.6,347.9 389.8,347.0 390.0,347.2 390.1,347.3 390.3,347.2 390.5,346.9 390.6,346.8 390.8,346.9 391.0,347.2 391.1,346.6 391.3,347.1 391.5,347.5 391.6,347.3 391.8,347.2 392.0,347.8 392.1,348.3 392.3,348.1 392.5,348.4 392.6,348.1 392.8,348.7 393.0,348.5 393.1,348.8 393.3,348.6 393.5,348.8 393.6,348.4 393.8,349.0 394.0,349.0 394.1,348.9 394.5,349.1 395.0,348.7 395.5,348.6 396.0,349.0 396.5,348.9 397.0,348.9 397.5,348.8 398.0,348.2 398.5,348.5 398.9,347.7 399.0,348.1 399.2,347.8 399.4,347.7 399.5,347.4 399.7,347.1 399.9,346.8 400.0,346.5 400.2,345.7 400.4,345.5 400.5,344.3 400.7,344.0 400.9,343.6 401.0,343.1 401.2,342.7 401.4,342.4 401.5,341.6 401.7,341.6 401.9,341.5 402.0,341.8 402.2,341.7 402.4,342.4 402.5,342.7 402.7,342.9 402.9,343.5 403.0,343.7 403.2,344.1 403.4,345.2 403.5,345.1 403.7,345.7 403.9,346.4 404.0,346.6 404.2,346.9 404.4,347.0 404.5,347.2 404.7,347.2 404.9,347.8 405.0,347.8 405.5,347.7 406.0,348.6 406.5,348.7 407.0,348.6 407.5,349.1 408.0,349.1 408.5,349.3 409.0,348.9 409.5,349.2 410.0,349.3 410.5,348.9 411.0,349.0 411.5,348.9 412.0,349.6 412.5,349.0 413.0,349.0 413.5,349.0 414.0,349.2 414.5,348.9 415.0,349.2 415.5,348.5 416.0,348.5 416.5,348.7 417.0,348.7 417.5,348.0 418.0,348.3 418.5,348.5 419.0,348.5 419.5,347.9 420.0,347.9 420.5,347.3 421.0,346.7 421.5,346.6 422.0,344.9 422.2,344.8 422.4,343.5 422.5,343.4 422.7,342.1 422.9,341.1 423.0,340.6 423.2,338.9 423.4,336.7 423.5,336.2 423.7,335.0 423.9,332.2 424.0,331.5 424.2,329.8 424.4,327.1 424.5,326.7 424.7,325.5 424.9,324.0 425.0,324.2 425.2,323.3 425.4,323.6 425.5,323.9 425.7,325.4 425.9,326.8 426.0,327.9 426.2,328.9 426.4,331.9 426.5,332.2 426.7,334.2 426.9,336.4 427.0,337.0 427.2,338.3 427.4,339.8 427.5,340.1 427.7,341.7 427.9,342.4 428.0,342.7 428.2,343.4 428.5,345.0 429.0,346.2 429.5,346.5 430.0,347.6 430.5,347.3 431.0,347.9 431.5,348.1 432.0,348.1 432.5,348.2 433.0,348.3 433.5,348.7 434.0,348.1 434.5,348.0 434.6,348.7 434.8,348.1 435.0,347.9 435.1,348.4 435.3,348.3 435.5,347.9 435.6,348.1 435.8,348.4 436.0,348.0 436.1,347.9 436.3,347.6 436.5,347.9 436.6,348.3 436.8,348.1 437.0,348.2 437.1,347.9 437.3,347.7 437.5,347.9 437.6,347.7 437.8,347.8 438.0,347.8 438.1,347.5 438.3,347.9 438.5,348.3 438.6,348.3 438.8,348.1 439.0,348.1 439.1,347.7 439.3,348.0 439.5,348.7 439.6,348.6 439.8,348.6 440.0,348.4 440.1,348.2 440.3,348.6 440.5,348.4 440.6,348.7 441.0,348.5 441.5,348.1 442.0,348.5 442.5,348.1 443.0,348.3 443.5,348.2 443.9,348.1 444.0,347.8 444.1,347.4 444.4,347.1 444.5,347.5 444.6,346.8 444.9,346.2 445.0,346.5 445.1,345.9 445.4,345.8 445.5,345.2 445.6,345.2 445.9,345.0 446.0,344.0 446.1,344.0 446.4,343.4 446.5,342.8 446.6,342.8 446.9,342.7 447.0,342.8 447.0,342.3 447.1,342.7 447.2,342.6 447.4,342.6 447.5,343.2 447.5,343.2 447.6,342.9 447.7,342.5 447.9,342.8 448.0,342.9 448.0,343.0 448.1,342.9 448.2,342.4 448.4,342.3 448.5,342.6 448.5,342.1 448.6,342.0 448.7,341.4 448.9,341.8 449.0,341.7 449.0,341.2 449.1,340.8 449.2,340.5 449.4,340.6 449.5,340.6 449.5,340.6 449.6,340.1 449.7,340.0 449.9,339.9 450.0,340.3 450.0,340.5 450.2,340.6 450.5,341.0 450.5,340.9 450.7,342.1 451.0,342.9 451.0,343.0 451.2,344.1 451.5,345.3 451.5,344.9 451.7,345.4 452.0,346.4 452.0,346.6 452.2,346.6 452.5,347.3 452.5,347.5 452.7,347.8 453.0,347.3 453.0,347.9 453.5,347.7 454.0,347.8 454.5,347.8 455.0,348.2 455.5,348.0 456.0,347.8 456.5,348.1 457.0,347.6 457.5,348.2 458.0,348.2 458.5,347.7 459.0,347.3 459.5,347.1 460.0,347.1 460.2,346.8 460.4,346.8 460.5,346.6 460.7,346.2 460.9,345.6 461.0,346.1 461.2,345.6 461.4,345.0 461.5,344.4 461.7,344.0 461.9,343.5 462.0,343.2 462.2,342.4 462.4,341.5 462.5,341.4 462.7,340.2 462.9,340.1 463.0,340.0 463.2,339.9 463.4,340.0 463.5,340.2 463.7,339.9 463.9,341.0 464.0,341.4 464.2,341.9 464.4,342.3 464.5,343.2 464.7,343.5 464.9,344.1 465.0,345.1 465.2,345.2 465.4,345.9 465.5,345.8 465.7,346.0 465.9,346.5 466.0,347.0 466.2,347.1 466.5,347.5 467.0,347.2 467.5,347.4 468.0,348.1 468.5,348.1 469.0,348.4 469.5,348.2 470.0,348.1 470.5,348.0 471.0,348.5 471.5,348.8 472.0,348.8 472.5,348.2 473.0,348.5 473.5,348.5 474.0,348.2 474.5,348.2 475.0,348.5 475.5,347.9 476.0,348.1 476.5,347.4 477.0,347.2 477.5,347.1 478.0,347.4 478.5,347.5 479.0,346.9 479.5,346.5 479.6,346.3 479.8,346.2 480.0,345.5 480.1,345.5 480.3,345.4 480.5,344.8 480.6,345.2 480.8,344.4 481.0,343.9 481.1,343.4 481.3,343.1 481.5,342.6 481.6,342.6 481.8,342.5 482.0,342.0 482.1,341.6 482.3,341.7 482.5,341.9 482.6,341.9 482.8,341.8 483.0,341.6 483.1,341.5 483.3,342.1 483.5,342.9 483.6,343.0 483.8,343.3 484.0,343.6 484.1,343.4 484.3,343.8 484.5,343.7 484.6,343.9 484.8,344.3 485.0,344.0 485.0,344.4 485.1,344.3 485.2,344.6 485.3,344.0 485.5,343.8 485.5,343.9 485.6,343.4 485.7,343.8 486.0,343.2 486.0,343.3 486.2,342.5 486.5,341.7 486.5,341.9 486.7,341.8 487.0,340.9 487.0,341.1 487.2,340.2 487.5,340.1 487.5,340.3 487.7,339.5 488.0,339.7 488.0,339.1 488.2,339.5 488.5,339.5 488.5,339.7 488.7,339.9 489.0,340.5 489.0,340.8 489.2,341.7 489.5,342.5 489.5,342.4 489.7,342.5 490.0,343.7 490.0,343.2 490.2,344.0 490.5,344.5 490.5,344.0 490.7,344.4 491.0,344.9 491.0,345.0 491.5,345.9 492.0,346.3 492.5,346.4 493.0,345.9 493.5,346.6 494.0,346.8 494.5,347.0 495.0,346.5 495.5,347.1 496.0,346.7 496.5,346.7 497.0,346.4 497.5,346.2 498.0,346.0 498.2,345.9 498.4,345.3 498.5,345.4 498.7,344.9 498.9,344.4 499.0,344.7 499.2,344.1 499.4,343.7 499.5,343.9 499.7,344.0 499.9,344.0 500.0,343.5 500.2,344.1 500.4,343.3 500.5,344.0 500.7,343.4 500.9,343.5 501.0,343.3 501.2,343.6 501.4,343.1 501.5,343.1 501.7,343.6 501.9,343.6 502.0,343.1 502.2,343.3 502.4,343.7 502.5,344.1 502.7,344.4 502.9,344.8 503.0,344.7 503.2,344.6 503.4,344.9 503.5,344.8 503.7,344.9 503.9,345.8 504.0,345.7 504.2,345.5 504.5,345.6 505.0,346.3 505.5,346.0 506.0,346.3 506.5,346.7 507.0,346.0 507.5,346.2 508.0,346.0 508.5,346.3 509.0,346.7 509.5,346.6 510.0,346.3 510.5,346.1 511.0,345.5 511.4,345.5 511.5,345.2 511.6,345.3 511.9,344.4 512.0,344.6 512.1,344.2 512.4,344.3 512.5,344.3 512.6,343.8 512.9,343.4 513.0,342.8 513.1,342.8 513.4,342.7 513.5,342.7 513.6,342.1 513.9,341.9 514.0,342.0 514.1,342.1 514.4,341.7 514.5,341.6 514.6,341.9 514.9,341.9 515.0,342.3 515.1,342.4 515.4,342.3 515.5,343.4 515.6,343.4 515.9,343.0 516.0,343.3 516.1,344.0 516.4,343.5 516.5,343.9 516.6,344.3 516.9,345.1 517.0,344.5 517.1,345.1 517.4,345.6 517.5,345.7 518.0,345.8 518.5,346.1 519.0,346.3 519.5,346.0 519.9,345.6 520.0,346.1 520.1,346.2 520.4,345.6 520.5,345.9 520.6,345.6 520.9,345.4 521.0,345.4 521.1,345.0 521.4,345.7 521.5,345.2 521.6,345.0 521.9,345.2 522.0,344.9 522.1,344.7 522.4,344.3 522.5,344.6 522.6,344.3 522.9,344.5 523.0,343.9 523.1,344.8 523.4,344.8 523.5,344.5 523.6,344.9 523.9,344.5 524.0,344.7 524.1,345.3 524.4,345.3 524.5,345.6 524.6,345.5 524.9,346.1 525.0,346.2 525.1,346.4"/><polyline fill="none" stroke="#ff0000" stroke-width="1.15" stroke-linejoin="round" points="60.0,415.1 60.5,415.6 61.0,415.6 61.5,415.9 62.0,415.2 62.5,415.2 63.0,415.1 63.5,415.3 64.0,415.8 64.5,415.5 65.0,415.4 65.5,415.2 66.0,415.1 66.5,415.3 67.0,415.6 67.5,415.5 68.0,414.8 68.5,414.9 69.0,414.8 69.5,415.6 70.0,415.6 70.5,415.6 71.0,415.5 71.5,415.3 72.0,415.7 72.5,415.7 73.0,415.3 73.5,415.8 74.0,415.5 74.5,415.6 75.0,415.3 75.5,415.1 76.0,415.1 76.5,414.8 77.0,414.6 77.5,414.4 78.0,414.9 78.5,414.8 79.0,415.0 79.5,414.8 80.0,414.9 80.5,415.2 81.0,414.6 81.5,414.9 82.0,414.7 82.5,414.6 83.0,414.6 83.5,414.8 84.0,414.7 84.5,414.9 85.0,414.9 85.5,414.9 86.0,414.9 86.5,415.1 87.0,414.9 87.5,414.6 88.0,414.7 88.5,414.7 89.0,414.4 89.5,414.9 90.0,415.0 90.5,414.4 91.0,414.8 91.5,415.0 92.0,414.4 92.5,414.5 93.0,415.0 93.5,415.0 94.0,414.8 94.5,414.4 95.0,414.5 95.5,414.7 96.0,414.6 96.5,414.6 97.0,414.1 97.5,414.8 98.0,414.5 98.5,414.8 99.0,414.4 99.5,415.1 100.0,414.7 100.5,414.9 101.0,414.2 101.5,414.6 102.0,414.4 102.5,414.5 103.0,414.2 103.5,414.6 104.0,414.3 104.5,414.3 105.0,414.4 105.5,415.0 106.0,414.6 106.5,414.7 107.0,414.5 107.5,414.9 108.0,414.6 108.5,414.6 109.0,414.2 109.5,414.2 110.0,414.1 110.5,413.7 111.0,413.5 111.5,414.3 112.0,413.3 112.5,413.5 113.0,413.4 113.5,413.6 114.0,413.2 114.5,413.7 115.0,413.6 115.5,414.1 116.0,413.4 116.5,413.8 117.0,413.7 117.5,414.0 118.0,413.7 118.5,413.6 119.0,413.6 119.5,413.3 120.0,412.9 120.5,413.1 121.0,413.3 121.5,413.2 122.0,412.8 122.5,413.0 123.0,413.0 123.5,412.5 124.0,412.5 124.5,412.3 125.0,412.4 125.5,412.4 126.0,412.4 126.5,412.5 127.0,412.2 127.5,412.4 128.0,412.0 128.5,412.7 129.0,412.6 129.5,411.8 130.0,412.2 130.5,411.8 131.0,411.8 131.5,411.7 132.0,411.4 132.5,411.2 133.0,411.2 133.5,411.0 134.0,411.8 134.5,411.3 135.0,411.9 135.5,411.5 136.0,411.6 136.5,411.7 137.0,411.5 137.5,411.5 138.0,411.4 138.5,411.2 139.0,411.5 139.5,411.6 140.0,410.6 140.5,410.9 141.0,410.4 141.5,411.0 142.0,410.7 142.5,411.1 143.0,410.7 143.5,410.4 144.0,410.1 144.5,410.2 145.0,410.6 145.5,410.2 146.0,410.3 146.5,410.1 147.0,410.0 147.5,410.5 148.0,409.8 148.5,410.3 149.0,410.4 149.5,410.7 150.0,410.2 150.5,410.6 151.0,410.3 151.5,410.2 152.0,410.2 152.5,410.4 153.0,410.5 153.5,409.8 154.0,409.8 154.5,410.2 155.0,410.3 155.5,410.0 156.0,410.0 156.5,410.5 157.0,409.9 157.5,409.7 158.0,409.8 158.5,409.7 159.0,410.1 159.5,409.8 160.0,410.4 160.5,410.7 161.0,410.9 161.5,411.0 162.0,410.7 162.5,410.8 163.0,411.3 163.5,411.4 164.0,411.0 164.5,411.5 165.0,410.9 165.5,410.9 166.0,411.5 166.5,411.2 167.0,411.1 167.5,411.4 168.0,411.2 168.5,410.8 169.0,410.7 169.5,411.1 170.0,411.2 170.5,411.6 171.0,411.1 171.5,411.6 172.0,411.6 172.5,411.3 173.0,412.1 173.5,411.9 174.0,411.8 174.5,411.7 175.0,411.9 175.5,412.2 176.0,412.0 176.5,411.8 177.0,411.9 177.5,412.0 178.0,412.0 178.5,412.2 179.0,411.8 179.5,412.5 180.0,412.2 180.5,412.3 181.0,412.7 181.5,412.6 182.0,413.1 182.5,412.7 183.0,412.8 183.5,413.3 184.0,412.8 184.5,413.1 185.0,412.8 185.5,412.7 186.0,413.1 186.5,412.4 187.0,413.3 187.5,412.6 188.0,413.1 188.5,412.8 189.0,413.0 189.5,413.5 190.0,413.8 190.5,413.3 191.0,413.6 191.5,413.7 192.0,413.5 192.5,413.8 193.0,413.2 193.5,413.4 194.0,413.7 194.5,413.5 195.0,413.4 195.5,413.2 196.0,413.8 196.5,413.8 197.0,414.0 197.5,414.0 198.0,413.5 198.5,414.1 199.0,414.1 199.5,414.0 200.0,414.1 200.5,413.9 201.0,413.6 201.5,413.6 202.0,413.6 202.5,413.5 203.0,413.5 203.5,414.1 204.0,414.1 204.5,413.8 205.0,414.5 205.5,414.9 206.0,415.0 206.5,415.2 207.0,415.3 207.5,414.9 208.0,415.2 208.5,414.9 209.0,415.0 209.5,414.6 210.0,414.7 210.5,414.2 211.0,414.4 211.5,414.0 212.0,414.2 212.5,414.4 213.0,414.1 213.5,413.8 214.0,413.7 214.5,414.3 215.0,414.4 215.5,415.0 216.0,415.0 216.5,415.3 217.0,415.3 217.5,415.4 218.0,415.5 218.5,415.7 219.0,415.1 219.5,415.2 220.0,415.2 220.5,415.7 221.0,415.6 221.5,415.9 222.0,415.3 222.5,416.1 223.0,415.6 223.5,415.7 224.0,416.3 224.5,415.6 225.0,415.5 225.5,415.6 226.0,415.7 226.5,415.7 227.0,415.5 227.5,415.5 228.0,415.4 228.5,415.9 229.0,415.1 229.5,415.2 230.0,415.5 230.5,415.7 231.0,415.6 231.5,415.7 232.0,415.7 232.2,415.7 232.5,415.8 232.5,415.3 232.7,415.2 233.0,415.6 233.0,415.4 233.2,415.3 233.5,415.3 233.5,414.7 233.7,414.9 234.0,414.4 234.0,414.6 234.2,414.4 234.5,414.3 234.5,414.4 234.7,414.4 235.0,414.7 235.0,414.3 235.2,414.7 235.5,414.3 235.5,414.8 235.7,414.4 236.0,415.2 236.0,415.5 236.2,415.0 236.5,415.6 236.5,415.2 236.7,415.5 237.0,415.7 237.0,415.8 237.2,415.7 237.5,416.2 237.5,416.1 237.7,416.1 238.0,416.2 238.0,415.8 238.2,416.1 238.5,416.1 239.0,415.9 239.5,416.9 240.0,416.5 240.5,416.4 241.0,417.0 241.5,417.3 242.0,417.0 242.5,416.7 243.0,416.4 243.5,416.4 244.0,416.7 244.5,416.4 245.0,416.5 245.5,417.1 246.0,416.3 246.5,416.5 247.0,417.0 247.5,417.2 248.0,416.6 248.5,417.0 249.0,416.8 249.5,416.6 250.0,416.9 250.5,416.8 251.0,416.6 251.5,416.6 252.0,416.1 252.5,416.2 253.0,416.3 253.5,416.3 254.0,416.2 254.5,416.0 255.0,416.7 255.5,416.4 256.0,416.6 256.5,416.8 257.0,416.7 257.5,416.7 258.0,416.9 258.5,416.3 258.6,416.1 258.8,415.9 259.0,415.7 259.1,415.8 259.3,415.8 259.5,415.6 259.6,415.5 259.8,415.5 260.0,415.2 260.1,415.1 260.3,414.7 260.5,414.6 260.6,414.6 260.8,414.4 261.0,414.7 261.1,414.1 261.3,414.3 261.5,414.6 261.6,414.5 261.8,415.0 262.0,414.3 262.1,415.0 262.3,414.7 262.5,415.0 262.6,414.7 262.8,415.2 263.0,415.6 263.1,415.7 263.3,415.6 263.5,415.5 263.6,415.4 263.8,416.1 264.0,415.7 264.1,415.9 264.3,415.8 264.5,415.9 264.6,416.4 265.0,416.3 265.5,417.5 266.0,416.8 266.5,417.6 267.0,417.4 267.5,417.2 268.0,417.8 268.5,417.4 269.0,417.4 269.5,416.9 270.0,417.4 270.5,417.4 271.0,417.1 271.5,417.3 272.0,417.7 272.5,418.1 273.0,418.2 273.5,417.7 274.0,417.3 274.5,418.0 275.0,417.5 275.5,417.9 276.0,417.7 276.5,418.2 277.0,417.6 277.5,418.0 278.0,418.0 278.5,417.5 279.0,417.9 279.5,417.6 280.0,418.1 280.5,418.2 281.0,417.9 281.5,418.0 282.0,418.2 282.5,418.2 283.0,418.3 283.5,418.0 284.0,418.5 284.5,417.8 285.0,418.0 285.5,417.9 286.0,418.0 286.5,417.3 287.0,417.2 287.5,417.8 288.0,417.8 288.5,418.4 289.0,418.1 289.5,418.5 290.0,417.7 290.5,418.0 291.0,418.2 291.5,417.9 292.0,417.9 292.5,418.0 293.0,417.7 293.5,418.1 294.0,417.9 294.5,417.9 295.0,417.4 295.5,417.9 296.0,417.6 296.5,417.2 297.0,417.5 297.5,417.4 298.0,417.4 298.5,417.4 299.0,417.8 299.5,417.5 300.0,417.7 300.5,417.5 301.0,417.8 301.5,418.0 302.0,417.6 302.5,418.1 303.0,418.1 303.5,417.9 304.0,417.8 304.5,418.0 305.0,418.2 305.5,418.2 306.0,417.6 306.5,418.2 307.0,418.0 307.5,417.7 308.0,417.4 308.5,417.7 309.0,417.9 309.5,417.5 310.0,417.4 310.5,418.1 311.0,417.6 311.5,417.3 312.0,418.0 312.5,417.3 313.0,417.5 313.5,417.7 314.0,417.7 314.5,417.9 315.0,417.4 315.5,417.7 316.0,417.9 316.5,417.5 317.0,417.6 317.5,417.5 318.0,417.7 318.5,418.1 319.0,417.4 319.5,417.6 320.0,417.4 320.5,417.9 321.0,417.9 321.5,418.0 322.0,418.1 322.5,418.0 323.0,418.2 323.5,417.4 324.0,417.7 324.5,417.2 325.0,417.5 325.5,417.5 326.0,417.3 326.5,417.5 327.0,417.1 327.5,417.0 328.0,417.1 328.5,417.5 329.0,417.3 329.5,417.3 330.0,417.5 330.5,418.1 331.0,417.7 331.5,417.9 332.0,417.7 332.5,417.6 333.0,418.0 333.5,417.7 334.0,417.4 334.5,417.8 335.0,417.7 335.5,417.3 336.0,418.1 336.5,417.2 337.0,417.3 337.5,417.4 338.0,417.7 338.5,417.9 339.0,418.1 339.5,417.8 340.0,418.2 340.5,417.5 341.0,418.2 341.5,417.3 342.0,417.5 342.5,418.2 343.0,418.1 343.5,418.0 344.0,417.7 344.5,418.1 345.0,417.9 345.5,417.8 346.0,417.8 346.5,418.5 347.0,417.6 347.5,417.8 348.0,417.7 348.5,418.0 349.0,418.2 349.5,418.2 350.0,417.9 350.5,417.4 351.0,418.2 351.5,417.6 352.0,418.2 352.5,418.3 353.0,417.5 353.5,417.8 354.0,417.4 354.5,417.3 355.0,418.1 355.5,417.7 356.0,417.5 356.5,417.7 357.0,417.3 357.5,417.5 358.0,417.7 358.5,417.8 359.0,417.2 359.5,417.7 360.0,417.1 360.5,417.4 361.0,417.4 361.5,417.4 362.0,417.4 362.5,417.9 363.0,417.6 363.5,417.3 364.0,417.4 364.5,416.9 365.0,417.2 365.5,417.7 366.0,417.4 366.5,417.3 367.0,417.5 367.5,417.7 368.0,417.8 368.5,417.7 369.0,417.9 369.5,418.3 370.0,418.1 370.5,417.5 371.0,417.7 371.5,418.3 372.0,417.8 372.5,418.4 373.0,418.3 373.5,418.3 374.0,418.1 374.5,418.2 375.0,418.3 375.5,418.4 376.0,418.4 376.5,417.7 377.0,417.7 377.5,418.3 378.0,418.3 378.5,418.2 379.0,418.2 379.5,417.5 380.0,418.0 380.5,417.5 381.0,418.2 381.5,417.9 382.0,417.8 382.5,417.8 383.0,417.6 383.5,418.1 384.0,418.2 384.5,417.8 385.0,417.8 385.5,417.7 386.0,417.3 386.5,417.4 387.0,417.9 387.5,418.1 388.0,417.6 388.5,417.5 389.0,417.6 389.5,418.3 390.0,417.8 390.5,418.0 391.0,418.0 391.5,417.8 392.0,417.7 392.5,417.8 393.0,418.3 393.5,418.3 394.0,417.5 394.5,417.7 395.0,418.1 395.5,417.8 396.0,417.8 396.5,418.1 397.0,418.0 397.5,417.8 398.0,418.0 398.5,417.6 399.0,417.6 399.5,417.4 400.0,417.3 400.5,417.3 401.0,418.0 401.5,417.4 402.0,417.7 402.5,417.3 403.0,417.5 403.5,417.9 404.0,418.1 404.5,418.1 405.0,417.4 405.5,417.6 406.0,417.5 406.5,417.2 407.0,417.6 407.5,417.7 408.0,417.6 408.5,417.8 409.0,417.7 409.5,417.7 410.0,418.2 410.5,418.0 411.0,417.9 411.5,418.5 412.0,418.1 412.5,418.0 413.0,418.0 413.5,418.1 414.0,417.8 414.5,417.5 415.0,417.5 415.5,417.6 416.0,417.7 416.5,417.6 417.0,417.9 417.5,417.7 418.0,417.7 418.5,417.7 419.0,417.8 419.5,417.5 420.0,418.1 420.5,417.8 421.0,417.6 421.5,417.6 422.0,417.9 422.5,418.4 423.0,418.3 423.5,418.1 424.0,417.8 424.5,417.9 425.0,418.2 425.5,417.7 426.0,417.9 426.5,417.4 427.0,417.4 427.5,417.6 428.0,417.9 428.5,417.9 429.0,417.9 429.5,417.5 430.0,417.9 430.5,417.9 431.0,417.2 431.5,417.7 432.0,417.9 432.5,417.8 433.0,417.6 433.5,417.8 434.0,417.5 434.5,418.0 435.0,417.5 435.5,417.8 436.0,417.9 436.5,417.1 437.0,417.3 437.5,418.0 438.0,418.1 438.5,417.7 439.0,417.3 439.5,417.3 440.0,417.5 440.5,417.6 441.0,417.4 441.5,417.4 442.0,416.8 442.5,417.0 443.0,417.3 443.1,417.3 443.4,417.0 443.5,417.2 443.6,417.1 443.9,416.7 444.0,416.3 444.1,416.1 444.4,416.4 444.5,416.0 444.6,416.1 444.9,415.7 445.0,416.4 445.1,415.9 445.4,416.3 445.5,416.2 445.6,416.1 445.9,416.0 446.0,416.2 446.1,416.1 446.4,415.8 446.5,416.1 446.6,416.0 446.9,416.5 447.0,416.1 447.1,416.8 447.4,416.8 447.5,417.2 447.6,416.8 447.9,416.8 448.0,416.5 448.1,417.0 448.4,417.3 448.5,417.3 448.6,417.4 448.9,416.7 449.0,417.3 449.1,417.3 449.5,417.6 450.0,417.2 450.5,417.8 451.0,417.1 451.5,417.5 452.0,417.3 452.5,417.3 453.0,417.1 453.5,417.2 454.0,417.2 454.5,417.2 455.0,417.1 455.5,417.0 456.0,416.7 456.5,416.9 457.0,417.5 457.5,417.4 458.0,416.8 458.5,417.1 459.0,416.7 459.5,416.9 460.0,417.5 460.5,417.3 461.0,417.1 461.5,417.5 462.0,417.5 462.5,417.4 463.0,417.9 463.5,417.3 464.0,417.3 464.5,417.1 465.0,417.5 465.5,417.7 466.0,417.3 466.5,417.5 467.0,417.3 467.5,417.6 468.0,418.0 468.5,417.8 469.0,417.8 469.5,417.4 470.0,417.3 470.5,417.1 471.0,417.5 471.5,417.9 472.0,417.6 472.5,417.5 473.0,417.6 473.5,417.3 474.0,417.2 474.5,417.1 475.0,417.6 475.5,417.3 476.0,417.2 476.5,417.6 477.0,417.6 477.5,416.9 478.0,416.8 478.5,417.1 479.0,417.4 479.5,416.9 480.0,417.3 480.5,417.4 481.0,416.9 481.5,417.3 482.0,416.9 482.5,417.3 483.0,417.4 483.5,417.6 484.0,417.5 484.5,417.5 485.0,417.5 485.5,417.5 486.0,417.2 486.5,417.1 487.0,417.0 487.5,417.6 488.0,417.5 488.5,417.4 489.0,417.6 489.5,417.4 490.0,417.4 490.5,417.6 491.0,417.7 491.5,417.9 492.0,418.0 492.5,417.7 493.0,417.5 493.5,417.7 494.0,417.7 494.5,417.5 495.0,417.6 495.5,417.8 496.0,417.7 496.5,417.2 497.0,418.0 497.5,417.3 498.0,417.7 498.5,417.7 499.0,418.0 499.5,417.3 500.0,417.4 500.5,418.1 501.0,417.6 501.5,417.6 502.0,417.6 502.5,417.6 503.0,417.2 503.5,417.6 504.0,417.3 504.5,417.4 505.0,417.8 505.5,417.9 506.0,417.3 506.5,417.3 507.0,417.2 507.5,417.6 508.0,417.5 508.5,417.6 509.0,418.2 509.5,418.0 510.0,418.2 510.5,417.7 511.0,417.6 511.5,417.9 512.0,418.1 512.5,417.5 513.0,417.7 513.5,417.7 514.0,417.7 514.5,417.5 515.0,417.8 515.5,417.5 516.0,417.4 516.5,417.3 517.0,417.9 517.5,417.5 518.0,417.7 518.5,417.2 519.0,417.7 519.5,416.9 520.0,417.5 520.5,417.3 521.0,417.6 521.5,417.7 522.0,417.1 522.5,417.2 523.0,417.3 523.5,417.3 524.0,417.9 524.5,417.5 525.0,417.8"/><polyline fill="none" stroke="#111111" stroke-width="1.45" stroke-linejoin="round" points="60.0,481.4 60.5,482.0 61.0,482.1 61.5,482.2 62.0,481.6 62.5,481.6 63.0,482.2 63.5,482.2 64.0,481.8 64.5,482.2 65.0,481.9 65.5,482.4 66.0,481.9 66.5,482.0 67.0,482.6 67.5,481.9 68.0,481.8 68.5,482.4 69.0,482.2 69.5,481.7 70.0,482.0 70.5,482.0 71.0,481.4 71.5,482.1 72.0,481.5 72.5,481.7 73.0,481.2 73.5,481.3 74.0,482.1 74.5,481.6 75.0,481.9 75.5,481.6 76.0,481.6 76.5,482.0 77.0,481.8 77.5,481.3 78.0,482.0 78.5,481.9 79.0,481.3 79.5,481.3 80.0,481.9 80.5,481.4 81.0,481.0 81.5,481.3 82.0,481.0 82.5,481.5 83.0,481.2 83.5,480.8 84.0,481.5 84.5,480.9 85.0,481.1 85.5,480.8 86.0,481.4 86.5,480.7 87.0,480.9 87.5,480.5 88.0,480.9 88.5,481.3 89.0,480.9 89.5,480.6 90.0,480.7 90.5,480.7 91.0,480.9 91.5,480.3 92.0,480.8 92.5,480.6 93.0,481.1 93.5,481.4 94.0,480.7 94.5,480.8 95.0,481.1 95.5,481.1 96.0,480.8 96.5,481.4 97.0,481.5 97.5,480.9 98.0,480.6 98.5,480.6 99.0,481.1 99.5,480.4 100.0,480.2 100.5,480.0 101.0,480.3 101.5,480.0 102.0,479.9 102.5,480.2 103.0,480.0 103.5,480.1 104.0,480.9 104.5,480.7 105.0,480.5 105.5,481.2 106.0,480.8 106.5,480.7 107.0,480.5 107.5,480.6 108.0,480.5 108.5,480.4 109.0,481.0 109.5,480.3 110.0,480.3 110.5,480.8 111.0,480.9 111.5,480.2 112.0,480.6 112.5,480.4 113.0,480.6 113.5,480.5 114.0,480.7 114.5,480.7 115.0,480.5 115.5,480.8 116.0,480.3 116.5,480.2 117.0,480.8 117.5,480.4 118.0,480.6 118.5,480.0 119.0,480.4 119.5,480.0 120.0,479.5 120.5,480.1 121.0,479.6 121.5,479.2 122.0,479.1 122.5,479.1 123.0,479.2 123.5,479.6 124.0,478.9 124.5,479.0 125.0,479.0 125.5,479.0 126.0,479.0 126.5,479.2 127.0,478.3 127.5,478.4 128.0,478.5 128.5,478.0 129.0,477.9 129.5,477.9 130.0,478.4 130.5,477.7 131.0,478.2 131.5,478.0 132.0,478.3 132.5,478.2 133.0,477.8 133.5,478.4 134.0,478.1 134.5,477.8 135.0,477.2 135.5,477.2 136.0,476.7 136.5,476.8 137.0,477.2 137.5,477.0 138.0,476.0 138.5,476.4 139.0,476.6 139.5,476.1 140.0,475.8 140.5,476.5 141.0,475.7 141.5,476.1 142.0,476.0 142.5,475.9 143.0,476.1 143.5,475.1 144.0,475.7 144.5,475.1 145.0,475.0 145.5,475.3 146.0,475.5 146.5,474.8 147.0,475.3 147.5,475.5 148.0,475.0 148.5,475.0 149.0,474.6 149.5,475.1 150.0,474.4 150.5,474.8 151.0,474.8 151.5,474.1 152.0,475.1 152.5,474.5 153.0,475.1 153.5,475.2 154.0,475.2 154.5,475.1 155.0,474.7 155.5,474.7 156.0,474.5 156.5,474.9 157.0,473.9 157.5,474.1 158.0,474.8 158.5,474.8 159.0,474.8 159.5,475.1 160.0,474.8 160.5,475.3 161.0,474.9 161.5,475.6 162.0,475.1 162.5,475.5 163.0,475.8 163.5,476.1 164.0,475.7 164.5,475.7 165.0,476.0 165.5,475.6 166.0,475.2 166.5,475.1 167.0,475.9 167.5,475.5 168.0,475.5 168.5,475.8 169.0,475.6 169.5,475.7 170.0,475.7 170.5,475.9 171.0,476.6 171.5,476.1 172.0,475.9 172.5,476.7 173.0,476.4 173.5,475.9 174.0,476.7 174.5,476.9 175.0,477.2 175.5,477.3 176.0,477.1 176.5,477.1 177.0,477.7 177.5,477.7 178.0,478.0 178.5,477.5 179.0,477.8 179.5,477.9 180.0,477.6 180.5,477.9 181.0,477.8 181.5,478.2 182.0,477.8 182.5,478.0 183.0,478.3 183.5,477.9 184.0,478.1 184.5,478.5 185.0,478.1 185.5,479.0 186.0,478.5 186.5,479.3 187.0,478.9 187.5,478.4 188.0,478.7 188.5,478.5 189.0,478.4 189.5,478.5 190.0,478.1 190.5,478.5 191.0,477.6 191.5,478.3 192.0,477.6 192.5,478.3 193.0,478.1 193.5,478.2 194.0,478.7 194.5,479.0 195.0,478.4 195.5,478.7 196.0,478.7 196.5,479.0 197.0,478.6 197.5,478.5 198.0,478.8 198.5,478.5 199.0,478.5 199.5,479.1 200.0,479.3 200.5,478.6 201.0,478.2 201.5,478.6 202.0,479.3 202.5,478.6 203.0,478.7 203.5,479.3 204.0,478.6 204.5,479.4 205.0,479.0 205.5,479.2 206.0,479.5 206.5,479.1 207.0,479.9 207.5,479.5 208.0,480.0 208.5,480.1 209.0,479.5 209.5,480.2 210.0,480.2 210.5,479.7 211.0,480.0 211.5,479.7 212.0,480.2 212.5,480.4 213.0,480.1 213.5,480.3 214.0,479.9 214.5,480.8 215.0,480.7 215.5,481.1 216.0,480.4 216.5,481.0 217.0,480.4 217.5,480.8 218.0,480.5 218.5,481.3 219.0,480.5 219.5,480.8 220.0,480.6 220.5,480.6 221.0,480.3 221.5,480.9 222.0,481.4 222.5,480.8 223.0,481.5 223.5,481.0 224.0,481.0 224.5,481.3 225.0,481.8 225.5,481.6 226.0,481.6 226.5,481.0 227.0,481.4 227.5,480.9 228.0,481.0 228.5,481.3 229.0,481.3 229.5,481.1 230.0,481.6 230.5,481.8 231.0,481.9 231.5,482.0 232.0,481.6 232.5,481.3 233.0,482.2 233.5,481.7 234.0,481.9 234.5,482.4 235.0,482.2 235.5,482.6 236.0,482.3 236.5,482.5 237.0,481.6 237.5,482.2 238.0,481.7 238.5,481.7 239.0,481.3 239.5,481.1 240.0,481.1 240.5,481.1 241.0,481.7 241.5,480.9 242.0,481.3 242.5,481.6 243.0,481.2 243.5,481.2 244.0,481.4 244.5,481.6 245.0,481.4 245.5,482.2 246.0,482.0 246.5,481.7 247.0,482.3 247.5,482.0 248.0,481.7 248.5,482.4 249.0,481.5 249.5,482.0 250.0,482.0 250.5,481.3 251.0,482.2 251.5,482.0 252.0,482.1 252.5,482.6 253.0,482.2 253.5,482.1 254.0,482.0 254.5,482.9 255.0,482.6 255.5,482.8 256.0,482.5 256.5,483.1 257.0,483.0 257.5,483.0 258.0,482.6 258.5,483.0 259.0,482.4 259.5,482.3 260.0,482.8 260.5,482.3 261.0,483.2 261.5,482.6 262.0,482.8 262.5,482.9 263.0,483.2 263.5,483.4 264.0,483.6 264.5,482.8 265.0,483.1 265.5,483.1 266.0,484.0 266.5,483.3 267.0,483.2 267.5,483.5 268.0,483.2 268.5,483.2 269.0,483.6 269.5,483.6 270.0,484.0 270.5,483.5 271.0,484.0 271.5,484.2 272.0,484.5 272.5,484.4 273.0,484.1 273.5,484.5 274.0,484.6 274.5,484.6 275.0,484.3 275.5,483.9 276.0,483.8 276.5,484.4 277.0,484.1 277.5,484.4 278.0,483.9 278.5,483.8 279.0,483.2 279.5,484.1 280.0,483.8 280.5,484.0 281.0,484.1 281.5,484.2 282.0,484.3 282.5,484.2 283.0,483.6 283.5,484.5 284.0,483.5 284.5,483.7 285.0,484.3 285.5,484.0 286.0,483.7 286.5,484.1 287.0,483.3 287.5,483.0 288.0,483.4 288.5,484.0 289.0,483.0 289.5,483.3 290.0,483.7 290.5,483.4 291.0,483.9 291.5,483.3 292.0,483.4 292.5,484.2 293.0,483.3 293.5,483.5 294.0,483.6 294.5,484.0 295.0,483.4 295.5,483.7 296.0,484.0 296.5,483.9 297.0,484.1 297.5,483.1 298.0,483.6 298.5,483.1 299.0,484.1 299.5,483.1 300.0,483.0 300.5,483.3 301.0,483.5 301.5,483.0 302.0,483.7 302.5,483.2 303.0,483.5 303.5,483.2 304.0,483.9 304.5,484.1 305.0,484.2 305.5,483.7 306.0,483.7 306.5,484.4 307.0,484.3 307.5,484.6 308.0,484.0 308.5,484.5 309.0,484.1 309.5,484.2 310.0,483.9 310.5,484.1 311.0,483.8 311.5,483.4 312.0,483.6 312.5,483.2 313.0,483.7 313.5,483.6 314.0,483.5 314.5,484.0 315.0,483.9 315.5,483.6 316.0,484.3 316.5,484.2 317.0,483.7 317.5,484.0 318.0,483.5 318.5,483.8 319.0,484.6 319.5,484.0 320.0,484.6 320.5,483.8 321.0,483.9 321.5,483.9 322.0,484.1 322.5,484.8 323.0,484.9 323.5,484.7 324.0,484.4 324.5,484.2 325.0,484.2 325.5,484.0 326.0,484.2 326.5,483.9 327.0,484.6 327.5,484.5 328.0,484.1 328.5,484.6 329.0,484.1 329.5,484.7 330.0,484.5 330.5,484.4 331.0,484.4 331.5,484.3 332.0,484.4 332.5,484.6 333.0,484.2 333.5,484.6 334.0,483.6 334.5,484.3 335.0,484.3 335.5,484.0 336.0,483.4 336.5,484.4 337.0,484.0 337.5,484.0 338.0,484.7 338.5,483.8 339.0,484.2 339.5,483.9 340.0,484.4 340.5,483.8 341.0,483.6 341.5,484.0 342.0,484.0 342.5,484.4 343.0,484.1 343.5,484.3 344.0,484.1 344.5,484.4 345.0,483.8 345.5,483.9 346.0,484.2 346.5,484.1 347.0,483.6 347.5,483.8 348.0,483.3 348.5,483.6 349.0,484.0 349.5,483.6 350.0,484.3 350.5,484.5 351.0,483.7 351.5,483.7 352.0,483.9 352.5,483.6 353.0,483.8 353.5,484.1 354.0,484.0 354.5,483.7 355.0,483.9 355.5,484.3 356.0,484.8 356.5,484.1 357.0,484.5 357.5,484.4 358.0,484.1 358.5,484.1 359.0,484.6 359.5,483.5 360.0,484.1 360.5,484.1 361.0,483.8 361.5,484.1 362.0,483.8 362.5,484.3 363.0,483.8 363.5,484.3 364.0,484.5 364.5,484.3 365.0,484.3 365.5,483.5 366.0,484.1 366.5,483.7 367.0,483.8 367.5,483.8 368.0,484.2 368.5,484.0 369.0,484.7 369.5,484.4 370.0,484.6 370.5,484.0 371.0,484.6 371.5,484.1 372.0,484.1 372.5,484.2 373.0,484.5 373.5,484.3 374.0,484.0 374.5,484.9 375.0,484.0 375.5,484.4 376.0,484.1 376.5,484.1 377.0,484.0 377.5,484.9 378.0,484.2 378.5,484.9 379.0,484.6 379.5,485.0 380.0,485.0 380.5,484.1 381.0,485.0 381.5,484.2 382.0,484.0 382.5,484.0 383.0,484.4 383.5,484.0 384.0,483.9 384.5,483.6 385.0,483.9 385.5,483.8 386.0,484.4 386.5,483.9 387.0,484.2 387.5,484.0 388.0,483.8 388.5,483.8 389.0,484.0 389.5,484.4 390.0,483.7 390.5,484.1 391.0,484.2 391.5,483.7 392.0,483.9 392.5,484.1 393.0,484.5 393.5,484.4 394.0,484.1 394.5,484.0 395.0,483.8 395.5,483.9 396.0,484.3 396.5,484.8 397.0,483.7 397.5,483.8 398.0,484.1 398.5,484.3 399.0,483.9 399.5,484.0 400.0,484.4 400.5,483.9 401.0,484.7 401.5,484.6 402.0,484.3 402.5,484.8 403.0,484.3 403.5,484.8 404.0,484.1 404.5,484.0 405.0,484.3 405.5,484.4 406.0,484.7 406.5,484.1 407.0,484.6 407.5,484.2 408.0,484.8 408.5,484.8 409.0,484.7 409.5,484.0 410.0,484.1 410.5,483.9 411.0,484.3 411.5,484.1 412.0,484.1 412.5,483.9 413.0,484.6 413.5,484.1 414.0,483.9 414.5,483.9 415.0,484.0 415.5,483.9 416.0,484.6 416.5,484.8 417.0,484.9 417.5,484.2 418.0,484.9 418.5,485.1 419.0,484.7 419.5,485.2 420.0,484.3 420.5,484.7 421.0,484.8 421.5,484.6 422.0,484.1 422.5,484.7 423.0,484.6 423.5,483.8 424.0,484.2 424.5,483.8 425.0,484.4 425.5,484.4 426.0,484.0 426.5,484.1 427.0,484.4 427.5,484.1 428.0,483.7 428.5,483.9 429.0,484.0 429.5,484.5 430.0,484.0 430.5,485.0 431.0,484.7 431.5,484.3 432.0,485.1 432.5,485.2 433.0,484.3 433.5,484.4 434.0,484.0 434.5,483.8 435.0,483.7 435.5,484.3 436.0,483.5 436.5,483.4 437.0,483.3 437.5,483.6 438.0,484.4 438.5,483.5 439.0,483.6 439.5,483.2 440.0,484.0 440.5,483.7 441.0,484.5 441.5,484.8 442.0,484.2 442.5,484.3 443.0,484.8 443.5,484.6 444.0,484.5 444.5,485.2 445.0,485.1 445.5,484.0 446.0,484.5 446.5,483.7 447.0,484.6 447.5,484.0 448.0,484.5 448.5,483.7 449.0,483.8 449.5,484.2 450.0,484.4 450.5,484.7 451.0,483.9 451.5,483.7 452.0,483.9 452.5,483.8 453.0,484.7 453.5,484.1 454.0,483.7 454.5,483.7 455.0,483.8 455.5,484.1 456.0,484.0 456.5,484.5 457.0,483.9 457.5,484.1 458.0,484.4 458.5,484.1 459.0,483.6 459.5,483.9 460.0,484.1 460.5,483.3 461.0,484.1 461.5,483.3 462.0,483.7 462.5,483.5 463.0,484.6 463.5,483.7 464.0,484.0 464.5,484.3 465.0,484.2 465.5,484.5 466.0,484.1 466.5,483.4 467.0,483.8 467.5,483.4 468.0,484.2 468.5,483.8 469.0,484.0 469.5,484.0 470.0,484.2 470.5,484.3 471.0,484.0 471.5,484.5 472.0,484.7 472.5,484.9 473.0,484.7 473.5,484.1 474.0,484.5 474.5,483.8 475.0,484.6 475.5,484.0 476.0,483.6 476.5,483.6 477.0,483.7 477.5,483.7 478.0,483.6 478.5,483.9 479.0,483.8 479.5,484.0 480.0,483.7 480.5,483.9 481.0,483.5 481.5,484.2 482.0,483.3 482.5,484.3 483.0,484.0 483.5,484.2 484.0,484.2 484.5,484.4 485.0,483.9 485.5,484.0 486.0,484.5 486.5,484.4 487.0,484.5 487.5,484.4 488.0,484.8 488.5,484.5 489.0,483.7 489.5,484.3 490.0,484.0 490.5,483.8 491.0,484.1 491.5,484.6 492.0,484.5 492.5,484.2 493.0,484.4 493.5,484.0 494.0,483.6 494.5,484.1 495.0,484.2 495.5,484.0 496.0,483.7 496.5,484.0 497.0,483.4 497.5,483.6 498.0,483.5 498.5,484.4 499.0,484.2 499.5,483.9 500.0,484.1 500.5,484.0 501.0,483.6 501.5,483.5 502.0,483.7 502.5,483.6 503.0,483.4 503.5,483.2 504.0,483.4 504.5,483.5 505.0,482.8 505.5,482.6 506.0,483.2 506.5,483.5 507.0,483.0 507.5,483.1 508.0,482.9 508.5,482.6 509.0,482.7 509.5,482.8 510.0,483.4 510.5,482.5 511.0,483.3 511.5,482.4 512.0,482.5 512.5,482.9 513.0,483.4 513.5,483.2 514.0,483.1 514.5,483.0 515.0,483.1 515.5,482.8 516.0,482.8 516.5,483.4 517.0,482.8 517.5,482.9 518.0,483.5 518.5,483.7 519.0,482.9 519.5,483.7 520.0,483.0 520.5,483.3 521.0,483.8 521.5,483.8 522.0,483.4 522.5,483.7 523.0,483.0 523.5,483.7 524.0,483.9 524.5,483.8 525.0,482.9"/><polyline fill="none" stroke="#0000ff" stroke-width="1.35" stroke-linejoin="round" points="620.2,256.4 620.7,256.8 621.2,256.7 621.7,256.6 622.2,256.4 622.7,257.0 623.2,257.0 623.7,256.9 624.2,257.2 624.7,256.9 625.2,256.7 625.7,257.1 626.2,257.3 626.7,256.8 627.2,257.3 627.7,256.8 628.2,256.8 628.7,256.7 629.2,257.7 629.7,257.4 630.2,257.7 630.7,257.4 631.2,256.9 631.7,257.1 632.2,257.3 632.7,256.9 633.2,257.6 633.7,257.0 634.2,256.8 634.7,257.1 635.2,256.5 635.7,257.2 636.2,256.9 636.7,257.1 637.2,256.9 637.7,256.9 638.2,256.7 638.7,256.4 639.2,257.3 639.7,256.7 640.2,257.1 640.7,256.6 641.2,257.0 641.7,257.0 642.2,257.0 642.7,257.1 643.2,257.1 643.7,257.1 644.2,256.7 644.7,257.1 645.2,257.4 645.7,257.0 646.2,257.4 646.7,257.2 647.2,256.8 647.7,256.7 648.2,256.8 648.7,256.9 649.2,257.3 649.7,256.9 650.2,256.6 650.7,256.8 651.2,257.6 651.7,257.9 652.2,257.8 652.7,257.9 653.2,257.7 653.7,257.8 654.2,257.4 654.7,257.8 655.2,257.8 655.7,257.7 656.2,257.0 656.7,256.9 657.2,256.9 657.7,257.5 658.2,257.0 658.7,257.1 659.2,256.8 659.7,256.5 660.2,256.3 660.7,257.2 661.2,257.0 661.7,256.7 662.2,256.9 662.7,257.0 663.2,257.3 663.7,257.3 664.2,257.0 664.7,257.6 665.2,257.5 665.7,257.3 666.2,257.7 666.7,257.4 667.2,257.2 667.7,257.0 668.2,257.5 668.7,256.8 669.2,256.5 669.7,257.2 669.8,257.0 670.1,256.8 670.2,257.0 670.3,256.5 670.6,256.8 670.7,256.8 670.8,256.9 671.1,256.8 671.2,256.5 671.3,256.8 671.6,256.6 671.7,256.4 671.8,255.7 672.1,254.2 672.2,253.3 672.3,253.2 672.6,251.4 672.7,251.1 672.8,250.3 673.1,251.2 673.2,252.3 673.3,253.0 673.6,254.6 673.7,255.2 673.8,255.5 674.1,256.2 674.2,256.7 674.3,256.3 674.6,256.6 674.7,256.4 674.8,256.9 675.1,256.3 675.2,256.5 675.3,256.9 675.6,256.1 675.7,256.8 675.8,257.0 676.2,257.0 676.7,257.0 677.2,256.8 677.7,257.1 678.2,257.7 678.7,257.5 679.2,257.0 679.7,257.0 680.2,257.0 680.7,257.2 681.2,257.4 681.7,257.1 682.2,257.6 682.7,257.3 683.2,257.1 683.7,257.2 684.2,257.1 684.7,257.2 685.2,256.8 685.7,256.7 686.2,256.7 686.7,256.9 687.2,257.2 687.7,257.0 688.2,256.8 688.7,257.2 689.2,257.4 689.7,257.4 690.2,257.6 690.7,257.0 691.2,257.3 691.7,256.9 692.2,257.4 692.7,256.9 693.2,257.1 693.7,256.6 694.2,256.9 694.7,256.5 695.2,256.2 695.7,256.4 696.2,256.4 696.7,256.8 697.2,256.1 697.7,256.3 698.2,256.1 698.7,256.4 699.2,255.5 699.7,256.0 700.2,255.8 700.7,255.9 701.1,256.0 701.2,255.6 701.4,255.7 701.6,255.4 701.7,255.3 701.9,254.6 702.1,254.5 702.2,254.3 702.4,253.1 702.6,251.7 702.7,251.9 702.9,249.9 703.1,247.8 703.2,247.4 703.4,246.2 703.6,244.1 703.7,243.3 703.9,242.0 704.1,241.0 704.2,241.4 704.4,241.7 704.6,243.4 704.7,243.7 704.9,245.2 705.1,247.1 705.2,247.3 705.4,249.1 705.6,250.4 705.7,251.3 705.9,252.2 706.1,252.9 706.2,252.7 706.4,252.9 706.6,253.0 706.7,253.4 706.9,253.3 707.0,253.3 707.1,252.4 707.2,252.8 707.5,252.5 707.7,252.1 708.0,251.7 708.2,250.8 708.5,249.7 708.7,248.5 709.0,247.1 709.2,245.4 709.5,243.4 709.7,241.3 710.0,238.7 710.0,238.2 710.2,236.4 710.2,236.4 710.3,235.8 710.4,234.0 710.5,234.0 710.5,232.0 710.7,229.8 710.7,229.8 710.8,228.2 710.8,227.5 710.9,225.0 711.0,224.1 711.0,222.3 711.1,222.2 711.2,218.4 711.2,217.9 711.3,214.9 711.3,215.0 711.4,210.4 711.5,209.7 711.5,206.6 711.6,206.1 711.7,200.9 711.7,200.3 711.8,196.9 711.8,195.5 711.9,188.5 712.0,188.6 712.0,182.3 712.1,181.2 712.2,170.6 712.2,170.2 712.3,161.3 712.3,159.4 712.4,145.6 712.5,143.8 712.5,132.8 712.6,130.4 712.7,113.5 712.7,112.4 712.8,101.4 712.8,99.2 712.9,87.8 713.0,87.9 713.0,84.5 713.1,85.0 713.2,90.1 713.2,90.5 713.3,97.6 713.3,100.1 713.4,114.3 713.5,126.5 713.6,128.9 713.7,142.6 713.7,143.3 713.8,152.4 713.8,154.1 713.9,164.9 714.0,171.7 714.1,173.5 714.2,180.8 714.2,181.1 714.3,186.4 714.3,187.4 714.4,193.0 714.5,196.5 714.6,197.3 714.7,202.7 714.7,203.0 714.8,206.1 714.8,207.1 714.9,211.6 715.0,215.0 715.1,215.4 715.2,219.0 715.2,220.0 715.3,222.3 715.3,223.6 715.4,226.8 715.5,229.4 715.6,229.4 715.7,232.1 715.7,233.1 715.8,234.8 715.8,235.2 715.9,237.1 716.0,239.1 716.1,239.0 716.2,240.6 716.2,241.0 716.3,242.1 716.6,244.7 716.7,245.7 716.8,245.7 717.2,247.8 717.7,249.7 718.2,251.3 718.7,252.0 719.2,252.8 719.7,253.5 720.2,254.0 720.7,255.0 721.2,255.5 721.7,256.0 722.2,255.8 722.7,256.0 723.2,256.7 723.7,256.4 724.2,256.3 724.7,256.8 725.2,256.8 725.7,256.7 726.2,256.3 726.7,256.9 727.2,256.5 727.7,256.3 728.2,256.5 728.7,256.6 729.2,256.7 729.7,256.3 730.2,256.8 730.7,256.8 731.2,256.6 731.7,257.1 732.2,256.9 732.7,257.1 733.2,257.0 733.7,256.6 734.2,257.1 734.7,257.1 735.2,256.9 735.7,257.3 736.2,257.2 736.7,256.9 737.2,257.2 737.7,257.0 738.2,256.9 738.7,256.4 739.2,256.7 739.7,256.7 740.2,256.6 740.7,256.8 741.2,256.7 741.7,256.4 742.2,257.1 742.7,256.9 743.2,257.0 743.7,256.2 744.2,256.7 744.7,256.1 745.2,256.0 745.5,255.7 745.7,255.5 745.7,255.2 745.8,254.9 746.0,254.9 746.0,254.7 746.2,254.8 746.2,255.1 746.3,254.7 746.5,253.8 746.5,253.4 746.7,252.8 746.7,252.9 746.8,252.0 747.0,250.9 747.0,249.9 747.2,247.6 747.2,247.9 747.3,246.6 747.5,242.7 747.5,240.7 747.7,234.8 747.7,234.0 747.8,231.9 748.0,223.8 748.0,220.8 748.2,211.7 748.2,210.5 748.3,207.1 748.5,198.3 748.5,196.2 748.7,194.1 748.7,194.1 748.8,195.3 749.0,204.5 749.0,208.3 749.2,220.9 749.2,222.1 749.3,226.4 749.5,236.7 749.5,239.2 749.7,245.0 749.7,245.2 749.8,246.5 750.0,249.4 750.0,250.8 750.2,252.2 750.2,252.3 750.3,253.0 750.5,253.3 750.5,253.5 750.7,254.1 750.7,254.4 750.8,254.4 751.0,254.2 751.0,254.6 751.2,255.1 751.2,254.9 751.3,255.1 751.5,255.3 751.5,255.6 751.7,255.5 751.8,255.6 752.2,256.1 752.7,256.2 753.2,256.2 753.7,256.2 754.1,256.5 754.2,256.6 754.4,256.6 754.6,256.0 754.7,256.4 754.9,256.2 755.1,255.0 755.2,254.8 755.4,254.5 755.6,253.1 755.7,253.3 755.9,251.9 756.1,250.6 756.2,249.9 756.4,248.3 756.6,246.5 756.7,246.5 756.9,245.5 757.1,244.4 757.2,244.8 757.4,245.2 757.6,246.9 757.7,247.1 757.9,248.5 758.1,250.4 758.2,250.7 758.4,252.5 758.6,253.7 758.7,253.9 758.9,255.2 759.1,255.7 759.2,255.2 759.4,256.1 759.6,256.3 759.7,256.3 759.9,256.3 760.1,256.6 760.2,255.9 760.3,256.1 760.6,255.9 760.7,255.6 760.8,255.6 761.1,255.5 761.2,255.0 761.3,254.8 761.6,254.1 761.7,253.5 761.8,253.2 762.1,251.1 762.2,250.9 762.3,249.5 762.6,247.2 762.7,246.5 762.8,245.5 763.1,243.4 763.2,243.2 763.3,242.7 763.6,243.9 763.7,244.1 763.8,245.0 764.1,247.0 764.2,247.9 764.3,249.1 764.6,251.0 764.7,252.4 764.8,253.5 765.1,254.2 765.2,254.6 765.3,255.3 765.6,255.5 765.7,256.0 765.8,256.2 766.1,256.1 766.2,256.4 766.3,256.4 766.7,256.1 767.2,256.5 767.7,257.0 768.2,256.6 768.7,256.8 769.2,257.3 769.7,257.5 770.2,257.3 770.7,257.2 771.2,256.8 771.7,257.0 772.2,256.9 772.7,257.4 773.2,256.8 773.7,257.1 774.2,256.5 774.7,256.9 775.2,257.4 775.7,257.2 776.2,257.0 776.7,256.6 777.2,257.1 777.7,256.4 778.2,257.0 778.7,256.7 779.2,256.7 779.7,256.6 780.2,256.2 780.7,256.5 781.2,256.9 781.7,257.0 782.2,256.7 782.7,257.1 783.1,256.3 783.2,256.4 783.4,255.9 783.6,256.0 783.7,256.1 783.9,255.5 784.1,254.2 784.2,254.2 784.4,253.2 784.6,251.8 784.7,251.4 784.9,249.6 785.1,247.4 785.2,247.4 785.4,245.0 785.6,242.8 785.7,242.3 785.9,240.6 786.1,240.2 786.2,239.9 786.4,240.4 786.6,242.5 786.7,242.8 786.9,244.9 787.1,247.3 787.2,248.3 787.4,249.8 787.6,251.5 787.7,251.7 787.9,253.1 788.1,254.4 788.2,253.9 788.4,254.7 788.6,254.8 788.7,255.2 788.9,255.3 789.1,255.8 789.2,255.7 789.7,255.7 790.2,255.9 790.7,256.1 791.2,256.3 791.3,256.4 791.5,256.1 791.7,255.9 791.8,256.3 792.0,256.3 792.2,255.8 792.3,256.2 792.5,256.4 792.7,255.9 792.8,256.1 793.0,255.2 793.2,253.9 793.3,254.0 793.5,251.6 793.7,250.0 793.8,249.8 794.0,247.0 794.2,246.5 794.3,246.3 794.5,247.0 794.7,248.4 794.8,249.9 795.0,251.9 795.2,253.3 795.3,253.9 795.5,255.3 795.7,255.9 795.8,256.0 795.9,256.4 796.0,256.0 796.2,256.0 796.2,256.0 796.3,256.3 796.4,256.2 796.5,256.0 796.7,256.2 796.7,256.0 796.8,255.8 796.9,255.8 797.0,255.7 797.2,255.4 797.2,255.4 797.3,255.3 797.4,255.2 797.7,253.6 797.7,253.7 797.9,251.9 798.2,250.2 798.2,249.7 798.4,247.6 798.7,245.7 798.7,245.3 798.9,244.6 799.2,245.7 799.2,245.5 799.4,247.5 799.7,250.2 799.7,250.5 799.9,252.6 800.2,253.8 800.2,254.1 800.4,254.9 800.7,255.9 800.7,256.1 800.9,255.8 801.2,256.3 801.2,257.0 801.4,256.6 801.7,256.8 801.7,257.1 801.9,256.6 802.2,257.1 802.7,256.6 803.2,257.0 803.7,256.9 804.2,256.9 804.7,257.0 805.2,257.0 805.7,257.6 806.2,257.4 806.7,257.7 807.2,257.8 807.7,258.1 808.2,258.1 808.7,257.8 809.2,257.2 809.7,257.5 810.2,257.1 810.7,257.8 811.2,257.3 811.7,257.0 812.2,256.8 812.7,257.2 813.2,257.5 813.7,257.6 814.2,257.5 814.7,257.4 815.2,256.7 815.7,256.7 816.2,256.8 816.7,256.8 817.2,257.0 817.7,257.1 818.2,256.0 818.7,256.6 819.2,256.2 819.7,255.2 819.9,254.9 820.1,254.1 820.2,253.6 820.4,253.2 820.6,252.0 820.7,251.8 820.9,250.3 821.1,247.3 821.2,247.2 821.4,244.7 821.6,241.6 821.7,240.1 821.9,237.3 822.1,233.0 822.2,232.7 822.4,229.8 822.6,226.7 822.7,226.7 822.9,225.9 823.1,227.2 823.2,227.8 823.4,229.3 823.6,233.6 823.7,234.3 823.9,237.2 824.1,240.9 824.2,241.4 824.4,244.5 824.6,247.4 824.7,247.7 824.9,249.9 825.1,251.2 825.2,251.5 825.4,252.9 825.6,253.4 825.7,253.5 825.9,254.8 826.2,254.9 826.7,255.9 827.2,256.0 827.7,256.4 828.2,256.6 828.7,257.0 829.2,256.9 829.7,257.4 830.2,256.8 830.7,256.8 831.2,257.0 831.7,257.1 832.2,257.1 832.7,256.9 833.2,257.3 833.7,257.1 834.2,256.9 834.7,257.1 835.2,257.1 835.7,256.8 836.2,257.1 836.7,257.3 837.2,257.1 837.7,257.5 838.2,257.4 838.7,257.6 839.2,257.2 839.7,257.6 840.2,257.8 840.7,257.3 841.2,257.6 841.7,257.2 842.2,257.8 842.7,257.4 843.2,257.7 843.7,257.6 844.2,257.6 844.7,257.4 845.2,257.4 845.4,257.9 845.7,257.6 845.7,257.5 845.9,257.0 846.2,256.9 846.2,257.4 846.4,256.7 846.7,256.8 846.7,256.8 846.9,256.3 847.2,255.9 847.2,256.1 847.4,255.5 847.7,254.6 847.7,254.6 847.9,254.0 848.2,253.6 848.2,253.8 848.4,253.5 848.7,253.9 848.7,253.7 848.9,253.7 849.2,254.3 849.2,254.6 849.4,254.9 849.7,256.1 849.7,256.2 849.9,256.4 850.2,256.6 850.2,256.8 850.4,256.8 850.7,257.3 850.7,257.4 850.9,256.9 851.2,257.1 851.2,257.3 851.4,257.6 851.6,257.6 851.7,257.2 851.9,257.8 852.1,257.8 852.2,257.1 852.4,257.1 852.6,257.2 852.7,257.5 852.9,256.8 853.1,257.0 853.2,256.4 853.4,256.5 853.6,256.5 853.7,256.5 853.9,255.8 854.1,256.2 854.2,256.0 854.4,255.7 854.6,256.1 854.7,256.0 854.9,255.8 855.1,256.2 855.2,256.6 855.4,256.4 855.6,256.3 855.7,256.7 855.9,256.8 856.1,257.1 856.2,257.1 856.4,257.0 856.6,257.0 856.7,257.4 856.9,256.9 857.1,257.1 857.2,256.8 857.4,256.9 857.6,256.9 857.7,257.1 858.2,257.4 858.7,257.3 859.2,257.5 859.7,258.0 860.2,258.1 860.7,258.3 861.2,258.1 861.7,257.6 862.2,258.0 862.7,257.6 863.2,257.9 863.7,258.3 864.2,257.6 864.7,257.4 865.2,257.4 865.7,257.5 866.2,257.4 866.7,257.3 867.2,257.7 867.7,257.9 868.2,257.9 868.7,257.9 869.2,258.0 869.7,257.9 870.2,257.3 870.2,257.4 870.4,256.8 870.7,256.8 870.7,256.7 870.9,256.1 871.2,255.8 871.2,255.3 871.4,255.2 871.7,254.5 871.7,254.8 871.9,254.4 872.2,253.8 872.2,253.4 872.4,252.6 872.7,252.5 872.7,252.7 872.9,251.8 873.2,251.7 873.2,252.1 873.4,252.3 873.7,252.2 873.7,252.5 873.9,253.6 874.2,253.5 874.2,253.5 874.4,254.4 874.7,255.1 874.7,255.1 874.9,255.2 875.2,255.8 875.2,255.9 875.4,255.8 875.7,256.2 875.7,256.2 875.9,256.8 876.2,256.5 876.2,256.8 876.7,257.4 877.2,257.1 877.7,257.5 878.2,257.6 878.7,258.0 879.2,257.9 879.7,258.0 880.2,258.2 880.7,258.2 881.2,257.6 881.7,258.1 882.2,257.9 882.7,258.3 883.2,258.3 883.7,257.9 884.2,257.8 884.7,257.7 885.2,257.6 885.7,257.4 886.2,257.4 886.7,257.6 887.2,256.8 887.2,257.2 887.5,256.9 887.7,256.9 887.7,256.9 888.0,257.0 888.2,256.2 888.2,256.0 888.5,256.0 888.7,255.1 888.7,255.7 889.0,255.0 889.2,254.3 889.2,254.5 889.5,253.6 889.7,253.3 889.7,253.3 890.0,253.1 890.2,253.1 890.2,253.3 890.5,253.8 890.7,253.5 890.7,253.7 891.0,253.9 891.2,255.0 891.2,254.7 891.5,255.2 891.7,255.4 891.7,255.6 892.0,256.0 892.2,256.5 892.2,256.3 892.5,256.4 892.7,256.8 892.7,256.1 893.0,256.9 893.2,256.6 893.2,257.0 893.7,256.6 894.2,257.3 894.7,257.1 895.2,256.8 895.7,257.2 896.2,257.7 896.7,257.2 897.2,257.5 897.7,257.7 898.2,257.8 898.7,257.1 899.2,257.4 899.7,257.6 900.2,257.6 900.7,257.2 901.2,257.4 901.7,257.7 902.2,257.1 902.7,257.3 903.2,257.0 903.5,256.9 903.7,255.9 903.7,256.3 904.0,255.7 904.2,255.0 904.2,255.2 904.5,254.8 904.7,254.2 904.7,254.4 905.0,253.0 905.2,252.6 905.2,252.4 905.5,251.3 905.7,251.1 905.7,250.5 906.0,249.7 906.2,249.0 906.2,249.4 906.5,249.2 906.7,249.0 906.7,249.6 907.0,249.9 907.2,250.2 907.2,250.8 907.5,251.9 907.7,252.3 907.7,252.9 908.0,253.1 908.2,254.0 908.2,254.0 908.5,255.2 908.7,255.1 908.7,255.2 909.0,255.3 909.2,256.4 909.2,255.9 909.5,256.7 909.7,256.6 910.2,257.1 910.7,257.3 911.2,257.0 911.7,257.2 912.2,257.4 912.7,257.0 913.2,256.8 913.7,257.0 914.2,256.6 914.7,256.3 915.2,256.2 915.7,256.2 915.8,256.0 916.1,255.9 916.2,255.4 916.3,255.6 916.6,254.8 916.7,254.5 916.8,254.3 917.1,253.1 917.2,252.5 917.3,252.0 917.6,250.4 917.7,250.5 917.8,249.5 918.1,247.8 918.2,247.7 918.3,247.5 918.6,246.5 918.7,246.1 918.8,245.8 919.1,246.6 919.2,246.2 919.3,246.4 919.6,247.6 919.7,248.2 919.8,249.2 920.1,250.1 920.2,250.8 920.3,251.8 920.6,252.7 920.7,253.0 920.8,253.9 921.1,254.5 921.2,255.0 921.3,255.2 921.6,256.0 921.7,256.1 921.8,256.9 922.2,257.0 922.7,257.4 923.2,257.6 923.7,257.8 924.2,257.7 924.7,257.6 925.2,258.3 925.7,257.9 926.2,257.5 926.7,257.7 927.2,257.0 927.4,257.1 927.7,256.4 927.7,256.8 927.9,255.6 928.2,255.2 928.2,255.5 928.4,255.2 928.7,254.1 928.7,254.4 928.9,253.2 929.2,252.3 929.2,252.2 929.4,251.1 929.7,249.4 929.7,249.8 929.9,248.1 930.2,247.5 930.2,247.4 930.4,247.6 930.7,247.4 930.7,248.0 930.9,248.2 931.2,249.4 931.2,249.8 931.4,251.1 931.7,251.7 931.7,252.3 931.9,253.1 932.2,254.4 932.2,253.8 932.4,254.4 932.7,255.1 932.7,255.9 932.9,256.1 933.2,256.3 933.2,255.7 933.4,256.4 933.7,256.8 934.2,256.6 934.7,257.3 935.2,257.4 935.7,257.7 936.2,257.5 936.7,257.7 937.2,257.5 937.7,257.8 938.2,257.4 938.7,257.6 939.2,257.5 939.7,257.8 940.2,257.6 940.7,257.0 941.2,257.1 941.7,257.1 942.1,257.2 942.2,257.5 942.4,257.0 942.6,257.2 942.7,257.0 942.9,256.6 943.1,256.7 943.2,256.4 943.4,256.7 943.6,255.6 943.7,256.0 943.9,255.6 944.1,255.0 944.2,254.9 944.4,255.0 944.6,254.7 944.7,254.3 944.9,254.4 945.1,254.4 945.2,254.1 945.4,254.8 945.6,254.6 945.7,254.7 945.9,255.4 946.1,255.9 946.2,256.1 946.4,255.9 946.6,256.6 946.7,256.1 946.9,256.6 947.1,256.9 947.2,257.2 947.4,257.2 947.6,257.5 947.7,257.5 947.9,257.2 948.1,257.4 948.2,257.0 948.7,257.4 949.2,257.3 949.7,257.8 950.2,257.4 950.7,257.8 951.2,257.6 951.7,257.5 952.2,257.2 952.7,257.5 953.2,257.5 953.7,257.0 954.2,257.6 954.7,257.0 955.2,257.1 955.7,256.8 956.2,256.9 956.7,256.8 957.2,257.0 957.6,256.2 957.7,256.5 957.9,256.7 958.1,256.3 958.2,256.1 958.4,256.3 958.6,255.7 958.7,255.6 958.9,255.4 959.1,255.2 959.2,254.8 959.4,254.5 959.6,254.3 959.7,254.0 959.9,253.8 960.1,253.1 960.2,253.4 960.4,253.5 960.6,253.7 960.7,254.0 960.9,253.9 961.1,254.4 961.2,253.7 961.4,254.7 961.6,254.8 961.7,254.8 961.9,255.1 962.1,255.9 962.2,256.0 962.4,256.1 962.6,256.1 962.7,256.1 962.9,256.3 963.1,256.9 963.2,256.9 963.4,256.5 963.6,256.7 963.7,257.3 964.2,256.9 964.7,256.7 965.2,257.1 965.7,256.8 966.2,257.3 966.7,257.1 967.2,257.0 967.7,257.0 967.7,256.5 967.9,256.4 968.2,256.8 968.2,256.4 968.4,255.9 968.7,255.6 968.7,255.8 968.9,255.7 969.2,255.1 969.2,255.0 969.4,254.7 969.7,253.6 969.7,253.5 969.9,253.8 970.2,252.9 970.2,253.0 970.4,252.8 970.7,253.2 970.7,252.9 970.9,252.9 971.2,253.2 971.2,254.0 971.4,254.3 971.7,254.3 971.7,255.0 971.9,254.8 972.2,255.5 972.2,255.6 972.4,256.0 972.7,256.1 972.7,255.7 972.9,256.3 973.2,256.7 973.2,256.4 973.4,257.1 973.7,257.2 973.7,257.1 974.2,257.2 974.7,257.5 975.2,257.6 975.7,258.0 976.2,257.8 976.7,257.8 977.2,257.4 977.7,257.2 978.2,257.2 978.7,257.1 979.2,256.5 979.7,257.2 980.2,256.3 980.7,256.0 980.8,255.9 981.1,254.8 981.2,254.5 981.3,254.1 981.6,253.4 981.7,253.4 981.8,252.1 982.1,251.1 982.2,251.1 982.3,250.4 982.6,249.5 982.7,249.1 982.8,248.1 983.1,247.3 983.2,247.6 983.3,247.4 983.6,246.7 983.7,246.5 983.8,246.1 984.1,246.6 984.2,246.5 984.3,247.1 984.6,247.7 984.7,248.3 984.8,248.9 985.1,249.9 985.2,250.4 985.3,251.1 985.6,252.1 985.7,252.6 985.8,253.7 986.1,253.8 986.2,254.8 986.3,254.9 986.6,255.7 986.7,255.5 986.8,256.0 987.2,256.5 987.7,256.6 988.2,256.8 988.7,257.4 989.2,257.0 989.7,257.5 990.2,257.3 990.7,257.4 991.2,257.5 991.7,257.7 992.2,257.4 992.7,257.5 993.2,257.6 993.7,257.7 994.2,257.5 994.7,258.0 995.2,257.7 995.7,258.1 996.2,257.7 996.7,258.2 997.2,257.6 997.7,257.9 998.2,257.5 998.7,257.7 999.2,257.1 999.7,257.4 1000.2,257.3 1000.7,257.3 1001.2,256.8 1001.7,257.0 1002.2,257.2 1002.7,256.5 1003.2,257.2 1003.7,257.1 1004.2,256.4 1004.7,255.5 1004.8,255.9 1005.1,255.8 1005.2,254.9 1005.3,255.4 1005.6,254.9 1005.7,253.9 1005.8,253.9 1006.1,252.7 1006.2,252.3 1006.3,252.2 1006.6,251.1 1006.7,250.9 1006.8,250.3 1007.1,249.0 1007.2,249.3 1007.3,248.3 1007.6,248.6 1007.7,247.9 1007.8,248.3 1008.1,248.4 1008.2,248.6 1008.3,248.8 1008.6,250.0 1008.7,250.4 1008.8,250.9 1009.1,251.5 1009.2,252.4 1009.3,252.8 1009.6,253.6 1009.7,253.6 1009.8,254.0 1010.1,254.5 1010.2,255.1 1010.3,255.1 1010.6,255.7 1010.7,255.8 1010.8,255.7 1011.2,255.6 1011.7,256.0 1012.2,256.2 1012.7,256.4 1013.2,256.6 1013.7,256.6 1014.2,257.2 1014.7,256.7 1015.2,257.5 1015.7,257.5 1016.2,257.5 1016.7,257.0 1017.2,257.3 1017.7,257.3 1018.2,257.5 1018.7,257.6 1019.2,256.7 1019.5,256.6 1019.7,257.1 1019.8,256.4 1020.0,256.7 1020.2,255.7 1020.3,256.3 1020.5,255.4 1020.7,255.1 1020.8,255.2 1021.0,254.7 1021.2,254.0 1021.3,253.9 1021.5,253.9 1021.7,253.3 1021.8,253.2 1022.0,253.3 1022.2,253.0 1022.3,253.1 1022.5,252.5 1022.7,252.6 1022.8,252.5 1023.0,253.2 1023.2,252.7 1023.3,253.0 1023.5,253.2 1023.7,254.0 1023.8,254.4 1024.0,254.2 1024.2,254.6 1024.3,254.6 1024.5,255.5 1024.7,255.5 1024.8,255.5 1025.0,256.5 1025.2,256.8 1025.3,256.1 1025.5,256.4 1025.7,256.9 1026.2,257.6 1026.7,257.0 1027.2,257.1 1027.7,257.5 1028.2,257.7 1028.7,257.4 1029.2,257.4 1029.7,257.8 1030.2,257.3 1030.7,257.5 1031.2,257.4 1031.7,258.1 1032.2,257.3 1032.7,257.6 1033.2,258.0 1033.7,257.4 1034.2,257.5 1034.7,257.8 1035.2,257.5 1035.7,257.3 1036.2,257.4 1036.7,257.6 1037.2,257.2 1037.7,257.3 1038.2,256.2 1038.7,255.8 1038.8,256.1 1039.1,255.6 1039.2,256.3 1039.3,255.8 1039.6,256.0 1039.7,256.3 1039.8,255.7 1040.1,255.7 1040.2,255.1 1040.3,255.3 1040.6,255.1 1040.7,254.8 1040.8,254.4 1041.1,254.5 1041.2,254.0 1041.3,254.2 1041.6,253.5 1041.7,254.0 1041.8,253.4 1042.1,253.8 1042.2,254.0 1042.3,253.5 1042.6,253.6 1042.7,254.0 1042.8,254.1 1043.1,254.1 1043.2,253.5 1043.3,253.2 1043.6,253.6 1043.7,253.2 1043.8,253.5 1044.1,253.9 1044.2,254.1 1044.3,253.6 1044.3,254.2 1044.5,254.3 1044.6,254.5 1044.7,253.9 1044.8,254.0 1044.8,254.5 1045.0,254.2 1045.2,253.6 1045.3,253.5 1045.5,253.7 1045.7,253.0 1045.8,253.0 1046.0,252.7 1046.2,252.8 1046.3,252.6 1046.5,252.8 1046.7,252.2 1046.8,252.7 1047.0,252.7 1047.2,252.3 1047.3,252.4 1047.5,252.6 1047.7,252.4 1047.8,253.2 1048.0,253.2 1048.2,253.3 1048.3,253.7 1048.5,253.2 1048.7,253.7 1048.8,253.4 1049.0,254.4 1049.2,254.3 1049.3,254.6 1049.5,254.8 1049.7,255.3 1049.8,254.8 1050.0,255.3 1050.2,255.8 1050.3,255.7 1050.7,256.0 1051.2,256.7 1051.7,257.2 1052.2,257.1 1052.7,257.4 1053.2,257.2 1053.7,257.1 1054.2,257.5 1054.7,257.3 1055.2,257.6 1055.7,257.1 1056.2,257.1 1056.7,257.3 1057.2,257.1 1057.4,257.0 1057.7,256.8 1057.7,257.0 1057.9,256.4 1058.2,256.7 1058.2,256.8 1058.4,256.0 1058.7,255.8 1058.7,255.5 1058.9,255.4 1059.2,255.3 1059.2,255.6 1059.4,255.0 1059.7,255.0 1059.7,254.5 1059.9,254.5 1060.2,254.6 1060.2,254.2 1060.4,254.6 1060.7,254.6 1060.7,254.0 1060.9,254.2 1061.2,254.8 1061.2,254.3 1061.4,255.2 1061.7,255.1 1061.7,255.1 1061.9,255.6 1062.2,255.4 1062.2,256.0 1062.4,256.3 1062.7,256.2 1062.7,255.8 1062.9,256.0 1063.2,256.8 1063.2,256.2 1063.4,256.8 1063.7,256.6 1064.2,257.2 1064.7,257.0 1065.2,257.2 1065.7,257.1 1066.2,256.4 1066.7,256.6 1067.2,256.1 1067.5,256.1 1067.7,255.3 1067.7,255.1 1068.0,254.9 1068.2,254.4 1068.2,254.4 1068.5,253.8 1068.7,253.4 1068.7,253.1 1069.0,252.2 1069.2,252.3 1069.2,252.1 1069.5,251.1 1069.7,250.9 1069.7,251.2 1070.0,250.7 1070.2,250.2 1070.2,250.7 1070.5,250.6 1070.7,250.2 1070.7,250.4 1071.0,250.6 1071.2,250.8 1071.2,251.2 1071.5,251.3 1071.7,251.5 1071.7,252.0 1072.0,252.7 1072.2,253.5 1072.2,253.6 1072.5,254.3 1072.7,254.7 1072.7,254.6 1073.0,254.8 1073.2,255.2 1073.2,255.4 1073.5,256.5 1073.7,256.5 1074.2,257.1 1074.7,257.4 1075.2,257.6 1075.7,257.5 1076.2,257.0 1076.7,257.1 1077.2,257.0 1077.5,256.7 1077.7,256.8 1077.8,256.9 1078.0,256.7 1078.2,256.2 1078.3,256.2 1078.5,256.4 1078.7,256.4 1078.8,256.0 1079.0,256.1 1079.2,255.9 1079.3,256.0 1079.5,255.6 1079.7,255.4 1079.8,255.1 1080.0,255.0 1080.2,255.0 1080.3,255.1 1080.5,255.4 1080.7,255.3 1080.8,254.9 1081.0,255.0 1081.2,255.6 1081.3,255.8 1081.5,256.0 1081.7,255.8 1081.8,256.2 1082.0,256.4 1082.2,256.4 1082.3,256.6 1082.5,257.2 1082.7,257.1 1082.8,257.4 1083.0,256.8 1083.2,257.5 1083.3,257.4 1083.5,257.3 1083.7,257.6 1084.2,257.9"/><polyline fill="none" stroke="#00e000" stroke-width="1.15" stroke-linejoin="round" points="620.2,340.3 620.7,339.7 621.2,339.6 621.7,340.3 622.2,339.7 622.7,339.4 623.2,339.6 623.7,339.4 624.2,339.9 624.7,339.3 625.2,339.9 625.7,339.4 626.2,339.6 626.7,339.9 627.2,339.8 627.7,340.0 628.2,339.7 628.7,339.1 629.2,339.6 629.7,339.3 630.2,339.2 630.7,339.2 631.2,339.6 631.7,339.6 632.2,340.0 632.7,339.9 633.2,340.1 633.7,339.8 634.2,339.9 634.7,339.7 635.2,339.6 635.7,340.0 636.2,339.4 636.7,339.8 637.2,339.9 637.7,339.7 638.2,339.5 638.7,340.0 639.2,340.0 639.7,339.5 640.2,339.6 640.7,340.2 641.2,339.6 641.7,340.3 642.2,339.7 642.7,339.6 643.2,339.5 643.7,339.8 644.2,340.0 644.7,339.5 645.2,339.4 645.7,339.5 646.2,339.3 646.7,339.6 647.2,339.7 647.7,339.6 648.2,339.5 648.7,339.5 649.2,339.1 649.7,339.8 650.2,339.2 650.7,339.5 651.2,339.5 651.7,339.8 652.2,339.9 652.7,339.5 653.2,339.3 653.7,339.2 654.2,339.8 654.7,339.4 655.2,339.7 655.7,339.6 656.2,339.6 656.7,339.5 657.2,339.4 657.7,339.3 658.2,339.7 658.7,339.8 659.2,339.6 659.7,339.2 660.2,339.6 660.7,339.1 661.2,339.5 661.7,339.9 662.2,339.9 662.7,339.7 663.2,340.0 663.7,339.7 664.2,339.7 664.7,339.7 665.2,340.0 665.7,339.9 666.2,339.6 666.7,339.8 667.2,339.5 667.7,339.4 668.2,339.8 668.7,340.0 669.2,339.8 669.7,339.9 669.8,339.2 670.1,339.4 670.2,339.8 670.3,339.6 670.6,339.4 670.7,339.7 670.8,339.3 671.1,339.0 671.2,338.8 671.3,339.3 671.6,338.3 671.7,337.4 671.8,336.7 672.1,335.3 672.2,334.7 672.3,333.1 672.6,331.1 672.7,330.2 672.8,330.3 673.1,330.9 673.2,332.3 673.3,333.7 673.6,335.7 673.7,336.4 673.8,336.4 674.1,337.7 674.2,338.3 674.3,338.0 674.6,338.5 674.7,338.7 674.8,338.7 675.1,339.1 675.2,339.1 675.3,339.0 675.6,338.8 675.7,338.8 675.8,338.8 676.2,338.7 676.7,339.3 677.2,339.0 677.7,339.8 678.2,339.7 678.7,339.2 679.2,339.8 679.7,339.9 680.2,339.4 680.7,339.9 681.2,339.4 681.7,340.0 682.2,339.4 682.7,339.8 683.2,340.2 683.7,340.0 684.2,339.6 684.7,339.9 685.2,339.5 685.7,339.7 686.2,340.2 686.7,340.0 687.2,339.2 687.7,339.4 688.2,339.8 688.7,339.3 689.2,339.9 689.7,340.1 690.2,339.7 690.7,339.4 691.2,339.8 691.7,339.6 692.2,339.4 692.7,339.1 693.2,339.1 693.7,339.5 694.2,339.1 694.7,339.3 695.2,339.4 695.7,339.5 696.2,338.9 696.7,339.1 697.2,339.5 697.7,339.3 698.2,338.9 698.7,339.0 699.2,338.7 699.7,338.5 700.2,338.4 700.7,338.5 701.1,338.2 701.2,338.3 701.4,338.6 701.6,337.8 701.7,338.0 701.9,338.0 702.1,337.1 702.2,336.8 702.4,336.3 702.6,334.4 702.7,335.0 702.9,333.5 703.1,331.4 703.2,330.8 703.4,328.5 703.6,326.1 703.7,325.6 703.9,324.4 704.1,323.7 704.2,323.6 704.4,324.0 704.6,326.2 704.7,326.8 704.9,328.1 705.1,330.9 705.2,331.5 705.4,332.8 705.6,334.8 705.7,335.0 705.9,335.6 706.1,336.0 706.2,336.0 706.4,336.2 706.6,336.0 706.7,336.8 706.9,336.3 707.1,336.1 707.2,336.3 707.3,336.1 707.6,336.1 707.7,336.0 707.8,335.7 708.1,335.6 708.2,335.2 708.3,334.7 708.6,334.2 708.7,333.2 708.8,332.7 709.1,331.7 709.2,331.0 709.3,329.6 709.6,327.7 709.7,327.5 709.8,326.4 710.0,324.6 710.1,324.2 710.2,323.7 710.3,323.3 710.3,323.1 710.5,322.0 710.6,322.6 710.7,321.7 710.8,320.5 710.8,320.7 710.8,321.0 711.0,318.6 711.1,317.9 711.1,318.0 711.2,315.9 711.3,314.1 711.3,313.2 711.3,312.7 711.5,304.9 711.6,303.4 711.6,303.0 711.7,296.0 711.8,289.4 711.8,287.7 711.8,286.0 712.0,266.1 712.1,264.0 712.1,262.1 712.2,248.5 712.3,237.9 712.3,234.8 712.3,232.5 712.5,207.0 712.6,204.7 712.6,202.2 712.7,190.5 712.8,182.6 712.8,180.9 712.8,179.5 713.0,172.8 713.1,173.0 713.1,172.7 713.2,176.1 713.3,181.4 713.3,182.4 713.3,183.9 713.5,204.7 713.6,206.6 713.7,223.4 713.8,233.9 713.8,236.9 714.0,263.1 714.1,264.7 714.2,278.3 714.3,286.1 714.3,287.7 714.5,302.1 714.6,302.9 714.7,309.2 714.8,312.1 714.8,313.2 715.0,318.2 715.1,318.9 715.2,320.7 715.3,321.4 715.3,321.8 715.5,323.5 715.6,324.1 715.7,324.5 715.8,325.5 715.8,325.2 716.0,327.1 716.1,326.7 716.2,327.8 716.3,328.5 716.6,329.4 716.7,330.1 716.8,330.8 717.2,332.4 717.7,333.8 718.2,334.9 718.7,336.4 719.2,337.4 719.7,337.4 720.2,338.4 720.7,338.2 721.2,338.2 721.7,338.4 722.2,338.9 722.7,339.1 723.2,338.9 723.7,339.0 724.2,339.4 724.7,339.1 725.2,339.5 725.7,339.4 726.2,339.6 726.7,339.3 727.2,338.9 727.7,339.1 728.2,339.8 728.7,339.2 729.2,339.4 729.7,339.3 730.2,340.1 730.7,339.9 731.2,340.3 731.7,340.2 732.2,339.7 732.7,339.7 733.2,339.9 733.7,339.4 734.2,339.9 734.7,339.5 735.2,339.2 735.7,339.4 736.2,339.6 736.7,339.3 737.2,340.1 737.7,340.1 738.2,340.1 738.7,340.3 739.2,340.1 739.7,340.0 740.2,339.7 740.7,340.4 741.2,340.3 741.7,339.8 742.2,339.7 742.7,339.2 743.2,339.6 743.7,339.8 744.2,339.4 744.7,339.1 745.2,339.2 745.7,338.9 745.8,338.3 746.0,338.2 746.2,338.4 746.3,337.8 746.5,338.1 746.7,337.2 746.8,337.6 747.0,336.4 747.2,335.5 747.3,335.0 747.5,332.3 747.7,328.8 747.8,326.8 748.0,314.6 748.2,301.3 748.3,293.5 748.5,268.6 748.7,256.6 748.8,254.4 749.0,267.2 749.2,284.5 749.3,292.4 749.5,313.3 749.7,322.7 749.8,325.7 750.0,332.4 750.2,334.0 750.3,335.3 750.5,336.5 750.7,336.9 750.8,337.8 751.0,338.3 751.2,338.4 751.3,338.7 751.5,338.5 751.7,338.3 751.8,338.3 752.2,338.6 752.7,339.0 753.2,339.0 753.4,338.1 753.6,338.2 753.7,337.8 753.9,337.8 754.1,337.4 754.2,337.5 754.4,337.1 754.6,336.8 754.7,336.1 754.9,335.9 755.1,333.9 755.2,333.4 755.4,332.3 755.6,329.6 755.7,328.7 755.9,327.0 756.1,325.0 756.2,324.6 756.4,324.8 756.6,325.2 756.7,325.9 756.9,326.9 757.1,329.3 757.2,330.3 757.4,332.0 757.6,334.5 757.7,334.6 757.9,335.8 758.1,337.0 758.2,337.7 758.4,338.8 758.6,339.1 758.7,338.7 758.9,338.6 759.1,339.2 759.2,339.1 759.4,338.7 759.7,338.9 759.9,339.0 760.2,338.2 760.2,339.0 760.4,339.0 760.7,339.1 760.7,338.9 760.9,338.5 761.2,337.7 761.2,337.4 761.4,336.9 761.7,335.5 761.7,335.4 761.9,333.3 762.2,331.5 762.2,331.1 762.4,329.6 762.7,327.8 762.7,328.0 762.9,327.4 763.2,327.7 763.2,327.8 763.4,329.8 763.7,331.7 763.7,331.9 763.9,333.8 764.2,335.4 764.2,335.2 764.4,336.5 764.7,338.0 764.7,337.7 764.9,338.0 765.2,338.8 765.2,338.9 765.4,338.7 765.7,339.0 765.7,339.3 765.9,339.9 766.2,339.6 766.7,339.6 767.2,340.3 767.7,339.8 768.2,340.1 768.7,340.2 769.2,340.4 769.7,340.4 770.2,339.9 770.7,339.8 771.2,339.9 771.7,339.7 772.2,339.7 772.7,339.9 773.2,340.2 773.7,339.6 774.2,339.5 774.7,339.9 775.2,340.2 775.7,340.1 776.2,339.9 776.7,340.4 777.2,340.4 777.7,340.5 778.2,340.3 778.7,340.7 779.2,340.6 779.7,340.1 780.2,340.3 780.7,340.0 781.2,340.1 781.7,340.4 782.2,340.0 782.7,339.8 783.2,339.7 783.3,339.1 783.6,339.1 783.7,338.9 783.8,338.8 784.1,338.5 784.2,338.5 784.3,338.0 784.6,336.7 784.7,336.1 784.8,335.1 785.1,333.6 785.2,332.0 785.3,330.8 785.6,328.1 785.7,326.7 785.8,325.9 786.1,323.8 786.2,323.8 786.3,323.7 786.6,324.7 786.7,325.5 786.8,326.4 787.1,328.6 787.2,329.7 787.3,331.4 787.6,333.8 787.7,334.8 787.8,335.8 788.1,336.5 788.2,337.6 788.3,337.6 788.6,338.4 788.7,339.0 788.8,338.8 789.1,338.9 789.2,338.6 789.3,338.7 789.7,339.1 790.2,339.2 790.7,339.6 791.2,339.2 791.3,339.1 791.5,339.0 791.7,339.5 791.8,339.8 792.0,339.3 792.2,338.9 792.3,338.4 792.5,338.6 792.7,337.7 792.8,337.7 793.0,337.0 793.2,336.1 793.3,334.8 793.5,332.6 793.7,330.2 793.8,329.8 794.0,326.9 794.2,326.1 794.3,326.0 794.5,326.9 794.7,328.4 794.8,329.7 795.0,333.0 795.2,334.9 795.3,335.1 795.5,337.0 795.7,337.6 795.8,337.8 795.9,338.3 796.0,338.8 796.2,338.9 796.2,338.6 796.3,338.5 796.4,338.7 796.5,338.8 796.7,338.7 796.7,338.8 796.8,338.8 796.9,338.7 797.0,338.7 797.2,338.7 797.2,338.6 797.3,338.9 797.4,338.4 797.7,337.1 797.7,337.0 797.9,335.8 798.2,334.1 798.2,333.8 798.4,331.1 798.7,329.2 798.7,329.2 798.9,328.5 799.2,329.2 799.2,329.1 799.4,331.0 799.7,333.9 799.7,334.4 799.9,335.8 800.2,337.7 800.2,337.7 800.4,338.5 800.7,338.9 800.7,339.1 800.9,339.3 801.2,339.5 801.2,340.1 801.4,339.8 801.7,340.2 801.7,340.1 801.9,339.9 802.2,339.7 802.7,339.9 803.2,340.2 803.7,339.8 804.2,339.5 804.7,340.0 805.2,340.0 805.7,339.7 806.2,339.8 806.7,339.5 807.2,339.7 807.7,340.1 808.2,340.0 808.7,340.3 809.2,340.5 809.7,340.1 810.2,340.6 810.7,340.8 811.2,340.6 811.7,340.3 812.2,340.7 812.7,340.6 813.2,340.6 813.7,340.4 814.2,340.7 814.7,340.8 815.2,340.1 815.7,340.4 816.2,340.1 816.7,340.7 817.2,339.8 817.7,340.0 818.2,340.1 818.7,339.6 819.2,338.8 819.7,338.4 819.9,338.0 820.1,337.5 820.2,337.4 820.4,336.3 820.6,335.1 820.7,334.9 820.9,333.4 821.1,331.2 821.2,330.8 821.4,328.5 821.6,324.7 821.7,324.2 821.9,320.8 822.1,317.7 822.2,316.6 822.4,314.2 822.6,311.6 822.7,311.5 822.9,310.3 823.1,311.4 823.2,311.7 823.4,314.3 823.6,317.1 823.7,317.9 823.9,321.5 824.1,324.8 824.2,325.6 824.4,328.2 824.6,331.6 824.7,331.7 824.9,333.6 825.1,335.1 825.2,335.5 825.4,336.0 825.6,337.0 825.7,337.5 825.9,338.4 826.2,338.9 826.7,339.4 827.2,340.1 827.7,340.4 828.2,340.0 828.7,340.8 829.2,340.8 829.7,340.2 830.2,340.5 830.7,340.9 831.2,340.7 831.7,340.6 832.2,340.3 832.7,340.3 833.2,340.6 833.7,340.5 834.2,340.5 834.7,340.5 835.2,340.1 835.4,340.1 835.6,340.4 835.7,340.5 835.9,340.6 836.1,340.1 836.2,340.2 836.4,340.2 836.6,340.3 836.7,340.0 836.9,339.9 837.1,339.4 837.2,339.4 837.4,339.3 837.6,339.2 837.7,339.1 837.9,338.4 838.1,338.7 838.2,338.4 838.4,338.3 838.6,338.4 838.7,339.1 838.9,339.4 839.1,339.3 839.2,339.4 839.4,339.2 839.6,340.1 839.7,339.9 839.9,339.7 840.1,340.1 840.2,340.6 840.4,340.0 840.6,340.2 840.7,340.2 840.9,340.3 841.1,340.1 841.2,340.6 841.4,340.4 841.7,340.9 842.2,340.8 842.7,341.1 843.2,341.1 843.7,341.0 844.2,340.4 844.7,340.8 845.0,340.7 845.2,340.1 845.3,339.7 845.5,339.6 845.7,340.1 845.8,340.2 846.0,339.4 846.2,339.2 846.3,339.3 846.5,338.6 846.7,338.8 846.8,338.8 847.0,337.9 847.2,336.7 847.3,336.9 847.5,336.0 847.7,335.1 847.8,335.4 848.0,335.2 848.2,335.1 848.3,335.0 848.5,335.7 848.7,335.9 848.8,335.9 849.0,337.2 849.2,337.5 849.3,337.7 849.5,338.2 849.7,339.2 849.8,339.6 850.0,339.4 850.2,339.6 850.3,340.1 850.5,340.0 850.7,340.7 850.8,340.1 851.0,340.4 851.2,339.8 851.6,340.4 851.7,339.8 851.9,340.0 852.1,340.0 852.2,339.9 852.4,339.7 852.6,339.9 852.7,339.5 852.9,339.7 853.1,339.4 853.2,339.7 853.4,339.2 853.6,339.7 853.7,339.4 853.9,338.7 854.1,338.8 854.2,338.9 854.4,338.1 854.6,338.2 854.7,338.6 854.9,338.6 855.1,338.5 855.2,339.1 855.4,338.9 855.6,339.4 855.7,339.2 855.9,339.7 856.1,340.2 856.2,340.0 856.4,339.9 856.6,340.3 856.7,340.3 856.9,340.3 857.1,340.4 857.2,340.5 857.4,341.2 857.6,341.4 857.7,341.4 858.2,341.3 858.7,341.6 859.2,340.7 859.7,341.2 860.2,341.1 860.7,341.5 861.2,340.9 861.7,341.1 862.2,341.0 862.7,341.0 863.2,340.8 863.7,340.7 864.2,340.7 864.7,340.8 865.2,340.9 865.7,340.4 866.2,340.7 866.7,340.8 867.2,340.5 867.7,340.6 868.2,340.8 868.7,340.7 869.2,340.5 869.7,340.5 870.2,339.8 870.2,340.1 870.4,339.9 870.7,339.7 870.7,339.6 870.9,338.9 871.2,339.1 871.2,338.9 871.4,339.0 871.7,338.7 871.7,338.8 871.9,337.7 872.2,337.8 872.2,337.5 872.4,337.2 872.7,336.9 872.7,336.8 872.9,336.7 873.2,336.6 873.2,336.7 873.4,336.8 873.7,337.0 873.7,337.4 873.9,337.5 874.2,338.3 874.2,337.9 874.4,338.1 874.7,338.7 874.7,338.2 874.9,338.9 875.2,339.5 875.2,339.0 875.4,339.8 875.7,339.9 875.7,340.2 875.9,339.9 876.2,340.4 876.2,340.5 876.7,340.2 877.2,340.0 877.7,340.3 878.2,340.6 878.7,339.8 879.2,340.5 879.7,340.4 880.2,340.7 880.7,340.4 881.2,340.8 881.7,340.0 882.2,340.3 882.7,340.3 883.2,340.8 883.7,340.6 884.2,340.8 884.7,340.9 885.2,341.3 885.7,340.6 886.2,340.8 886.7,340.5 887.2,340.7 887.2,340.6 887.5,339.7 887.7,340.1 887.7,340.1 888.0,339.5 888.2,339.3 888.2,339.5 888.5,339.3 888.7,338.3 888.7,338.7 889.0,337.8 889.2,337.5 889.2,338.0 889.5,337.2 889.7,336.8 889.7,336.6 890.0,336.4 890.2,336.0 890.2,336.4 890.5,336.8 890.7,336.4 890.7,336.4 891.0,337.4 891.2,337.9 891.2,337.6 891.5,337.8 891.7,338.8 891.7,338.8 892.0,338.9 892.2,339.8 892.2,339.7 892.5,340.1 892.7,340.1 892.7,340.2 893.0,340.6 893.2,340.7 893.2,341.1 893.7,341.1 894.2,340.8 894.2,340.0 894.4,340.4 894.7,340.2 894.7,340.4 894.9,339.8 895.2,339.2 895.2,339.4 895.4,338.9 895.7,339.0 895.7,338.9 895.9,339.3 896.2,338.4 896.2,338.9 896.4,338.8 896.7,338.6 896.7,338.2 896.9,338.5 897.2,338.7 897.2,338.4 897.4,338.5 897.7,338.7 897.7,338.1 897.9,338.1 898.2,338.7 898.2,338.6 898.4,339.1 898.7,339.3 898.7,339.6 898.9,339.3 899.2,339.9 899.2,340.2 899.4,340.5 899.7,340.8 899.7,340.6 899.9,340.2 900.2,340.3 900.2,340.3 900.7,340.4 901.2,340.6 901.7,340.4 902.2,340.5 902.7,340.5 903.2,340.4 903.5,339.4 903.7,339.6 903.7,339.7 904.0,339.3 904.2,339.1 904.2,339.1 904.5,337.9 904.7,337.7 904.7,337.3 905.0,336.7 905.2,335.8 905.2,336.1 905.5,335.3 905.7,334.7 905.7,334.4 906.0,333.9 906.2,333.3 906.2,333.2 906.5,332.9 906.7,333.2 906.7,333.8 907.0,334.0 907.2,334.2 907.2,334.6 907.5,335.2 907.7,336.0 907.7,336.4 908.0,337.1 908.2,337.7 908.2,338.0 908.5,338.9 908.7,339.0 908.7,339.0 909.0,339.6 909.2,339.9 909.2,340.0 909.5,340.1 909.7,340.6 910.2,341.2 910.7,340.9 911.2,341.5 911.7,341.0 912.2,341.0 912.7,341.0 913.2,340.8 913.7,341.0 914.2,340.6 914.7,340.2 915.2,340.0 915.7,339.5 915.8,339.4 916.1,338.6 916.2,338.2 916.3,337.9 916.6,337.9 916.7,337.3 916.8,337.0 917.1,336.1 917.2,334.8 917.3,334.3 917.6,332.9 917.7,332.0 917.8,331.2 918.1,330.0 918.2,329.2 918.3,328.1 918.6,326.9 918.7,326.9 918.8,326.9 919.1,327.6 919.2,327.8 919.3,328.3 919.6,329.8 919.7,330.0 919.8,331.1 920.1,332.4 920.2,333.4 920.3,333.9 920.6,335.5 920.7,335.5 920.8,336.1 921.1,337.5 921.2,337.7 921.3,337.9 921.6,339.0 921.7,339.0 921.8,339.3 922.2,339.1 922.7,340.2 923.2,339.7 923.7,339.7 924.2,340.2 924.7,340.2 925.2,340.2 925.7,340.2 926.2,340.1 926.7,340.2 927.2,340.4 927.4,340.1 927.7,340.1 927.7,339.6 927.9,339.1 928.2,339.3 928.2,339.7 928.4,338.3 928.7,337.9 928.7,337.5 928.9,337.2 929.2,335.0 929.2,335.3 929.4,333.6 929.7,331.6 929.7,331.9 929.9,329.8 930.2,328.8 930.2,329.3 930.4,328.1 930.7,328.1 930.7,328.5 930.9,329.6 931.2,331.8 931.2,331.8 931.4,333.5 931.7,334.6 931.7,334.6 931.9,336.3 932.2,337.3 932.2,337.6 932.4,338.2 932.7,338.8 932.7,338.8 932.9,339.4 933.2,340.0 933.2,339.7 933.4,340.0 933.7,340.0 934.2,340.4 934.7,340.6 935.2,340.8 935.7,340.8 936.2,340.7 936.7,340.9 937.2,341.1 937.7,341.2 938.2,340.6 938.7,341.4 939.2,341.1 939.7,341.6 940.2,341.5 940.7,341.1 941.2,340.6 941.7,340.4 942.1,340.7 942.2,339.8 942.4,339.7 942.6,339.8 942.7,339.5 942.9,339.3 943.1,338.4 943.2,339.1 943.4,338.8 943.6,337.7 943.7,338.2 943.9,337.7 944.1,337.1 944.2,337.4 944.4,337.5 944.6,336.5 944.7,337.1 944.9,336.8 945.1,336.0 945.2,336.7 945.4,336.1 945.6,336.7 945.7,336.6 945.9,336.9 946.1,337.5 946.2,337.8 946.4,338.2 946.6,339.2 946.7,339.1 946.9,338.9 947.1,339.2 947.2,339.3 947.4,339.9 947.6,340.1 947.7,340.1 947.9,340.2 948.1,340.2 948.2,340.1 948.7,340.4 949.2,340.6 949.7,340.6 950.2,340.8 950.7,340.5 951.2,340.2 951.7,340.8 952.2,340.8 952.7,340.9 953.2,341.1 953.7,341.1 954.2,341.3 954.7,340.9 955.2,341.4 955.7,341.2 956.2,341.2 956.7,341.1 957.2,341.1 957.6,340.7 957.7,340.9 957.9,340.3 958.1,340.3 958.2,340.5 958.4,340.4 958.6,339.7 958.7,339.6 958.9,339.2 959.1,338.9 959.2,339.0 959.4,338.1 959.6,337.8 959.7,337.4 959.9,337.8 960.1,337.5 960.2,336.6 960.4,337.2 960.6,336.7 960.7,336.7 960.9,336.9 961.1,337.3 961.2,337.7 961.4,337.8 961.6,338.6 961.7,338.4 961.9,339.1 962.1,339.8 962.2,339.6 962.4,339.5 962.6,339.8 962.7,339.7 962.9,340.0 963.1,340.3 963.2,340.2 963.4,340.4 963.6,340.5 963.7,340.5 964.2,340.2 964.7,340.0 965.2,339.8 965.4,340.0 965.6,340.2 965.7,340.2 965.9,339.9 966.1,339.4 966.2,339.5 966.4,339.5 966.6,339.4 966.7,339.8 966.9,338.8 967.1,339.0 967.2,338.5 967.4,337.9 967.6,337.8 967.7,337.2 967.9,337.3 968.1,337.3 968.2,336.5 968.4,337.2 968.6,336.6 968.7,336.6 968.9,337.2 969.1,336.8 969.2,336.6 969.2,337.1 969.4,337.2 969.5,337.2 969.6,337.0 969.7,337.2 969.7,337.5 969.9,337.6 970.0,338.1 970.1,338.5 970.2,338.2 970.2,338.0 970.4,338.2 970.5,338.5 970.6,337.8 970.7,337.9 970.7,337.2 970.9,337.9 971.0,337.7 971.1,337.5 971.2,337.4 971.2,336.8 971.4,336.9 971.5,336.5 971.7,336.0 971.7,335.6 972.0,335.5 972.2,335.6 972.2,334.9 972.5,335.4 972.7,335.4 972.7,336.1 973.0,336.6 973.2,337.3 973.2,337.1 973.5,337.8 973.7,338.4 973.7,338.2 974.0,338.9 974.2,339.1 974.2,339.2 974.5,339.0 974.7,339.7 974.7,339.4 975.0,339.4 975.2,339.6 975.2,340.1 975.7,340.5 976.2,339.9 976.7,340.7 977.2,340.4 977.7,340.5 978.2,340.0 978.7,340.8 979.2,340.1 979.7,339.7 980.2,339.7 980.7,338.8 980.8,339.0 981.1,338.7 981.2,338.0 981.3,337.7 981.6,336.8 981.7,336.3 981.8,336.5 982.1,335.5 982.2,334.9 982.3,334.5 982.6,333.4 982.7,332.5 982.8,331.6 983.1,331.0 983.2,329.8 983.3,329.8 983.6,328.6 983.7,328.5 983.8,328.1 984.1,328.8 984.2,328.9 984.3,329.5 984.6,330.0 984.7,331.1 984.8,331.5 985.1,332.6 985.2,333.3 985.3,334.5 985.6,335.1 985.7,335.7 985.8,336.8 986.1,337.5 986.2,337.7 986.3,337.8 986.6,338.6 986.7,338.6 986.8,338.8 987.2,339.1 987.7,339.3 988.2,339.8 988.7,339.8 989.2,340.1 989.7,340.0 990.2,340.1 990.7,340.6 991.2,340.1 991.7,340.1 992.2,340.9 992.7,340.9 993.2,341.0 993.7,340.9 994.2,340.6 994.7,340.9 995.2,340.8 995.7,340.5 996.2,340.7 996.7,341.0 997.2,340.9 997.7,341.0 998.2,341.3 998.7,340.3 999.2,340.4 999.7,341.2 1000.2,340.5 1000.7,340.6 1001.2,340.8 1001.7,340.3 1002.2,340.3 1002.7,339.8 1003.2,339.9 1003.7,338.9 1004.0,338.8 1004.2,338.1 1004.3,338.2 1004.5,337.2 1004.7,337.4 1004.8,336.3 1005.0,336.1 1005.2,334.7 1005.3,334.5 1005.5,333.2 1005.7,332.6 1005.8,331.7 1006.0,330.9 1006.2,329.6 1006.3,329.1 1006.5,328.6 1006.7,328.1 1006.8,328.0 1007.0,328.1 1007.2,328.2 1007.3,327.9 1007.5,329.1 1007.7,329.8 1007.8,329.5 1008.0,331.1 1008.2,332.3 1008.3,332.4 1008.5,333.6 1008.7,334.3 1008.8,334.9 1009.0,335.3 1009.2,336.5 1009.3,336.9 1009.5,337.7 1009.7,337.9 1009.8,337.7 1010.0,338.6 1010.2,339.1 1010.7,339.4 1011.2,340.2 1011.7,340.1 1012.2,340.4 1012.7,340.6 1013.2,340.5 1013.7,340.3 1014.2,340.3 1014.7,340.2 1015.2,340.5 1015.7,340.5 1016.2,341.0 1016.7,340.3 1017.2,340.4 1017.7,340.6 1018.2,340.7 1018.7,340.3 1019.2,339.8 1019.5,340.1 1019.7,339.5 1019.8,339.8 1020.0,339.5 1020.2,339.3 1020.3,339.4 1020.5,339.0 1020.7,338.8 1020.8,338.5 1021.0,338.4 1021.2,338.2 1021.3,337.5 1021.5,337.3 1021.7,337.3 1021.8,336.9 1022.0,336.5 1022.2,335.9 1022.3,335.6 1022.5,335.7 1022.7,335.4 1022.8,335.5 1023.0,336.1 1023.2,336.5 1023.3,336.8 1023.5,337.2 1023.7,337.8 1023.8,337.9 1024.0,338.6 1024.2,338.3 1024.3,338.9 1024.5,339.5 1024.7,339.4 1024.8,339.6 1025.0,340.2 1025.2,339.6 1025.3,339.8 1025.5,340.3 1025.7,340.1 1026.2,340.4 1026.7,340.4 1027.2,340.5 1027.7,341.0 1028.2,340.9 1028.7,340.9 1029.2,341.3 1029.7,341.1 1030.2,341.3 1030.7,341.1 1031.2,340.7 1031.7,340.8 1032.2,340.7 1032.7,340.9 1033.2,341.3 1033.7,340.5 1034.2,341.1 1034.7,340.2 1035.2,340.5 1035.7,340.2 1036.2,339.9 1036.7,340.3 1037.2,339.8 1037.7,339.8 1038.2,339.8 1038.7,339.0 1038.8,338.9 1039.1,338.6 1039.2,338.4 1039.3,338.9 1039.6,338.2 1039.7,338.0 1039.8,338.2 1040.1,337.8 1040.2,337.6 1040.3,338.0 1040.6,337.1 1040.7,337.0 1040.8,337.3 1041.1,336.5 1041.2,336.4 1041.3,336.6 1041.6,336.3 1041.7,335.8 1041.8,335.6 1042.1,335.8 1042.2,336.1 1042.3,336.6 1042.6,336.4 1042.7,336.7 1042.8,336.6 1043.1,336.7 1043.2,337.7 1043.3,337.6 1043.6,337.8 1043.7,337.6 1043.8,337.2 1044.1,338.1 1044.2,338.2 1044.3,337.7 1044.6,338.2 1044.7,338.3 1044.8,337.7 1045.0,338.1 1045.2,337.4 1045.3,338.0 1045.5,338.1 1045.7,337.1 1045.8,337.2 1046.0,336.7 1046.2,336.8 1046.3,336.2 1046.5,336.5 1046.7,336.0 1046.8,336.0 1047.0,335.9 1047.2,335.6 1047.3,335.6 1047.5,335.5 1047.7,335.5 1047.8,335.8 1048.0,335.8 1048.2,336.0 1048.3,336.2 1048.5,336.0 1048.7,336.6 1048.8,336.2 1049.0,336.5 1049.2,337.3 1049.3,337.4 1049.5,337.4 1049.7,338.2 1049.8,337.3 1050.0,338.4 1050.2,338.3 1050.3,338.5 1050.5,338.7 1050.7,338.4 1050.8,338.7 1051.0,339.0 1051.2,339.1 1051.7,339.6 1052.2,339.4 1052.7,339.9 1053.2,339.6 1053.7,340.0 1054.2,340.0 1054.7,340.4 1055.2,339.9 1055.7,339.8 1056.2,340.4 1056.7,340.7 1057.2,340.2 1057.7,340.6 1058.2,340.1 1058.2,340.6 1058.4,340.2 1058.7,339.7 1058.7,339.9 1058.9,340.1 1059.2,339.8 1059.2,338.9 1059.4,339.1 1059.7,338.5 1059.7,339.2 1059.9,339.2 1060.2,338.6 1060.2,338.8 1060.4,338.3 1060.7,338.5 1060.7,338.1 1060.9,338.2 1061.2,338.4 1061.2,338.6 1061.4,338.5 1061.7,338.4 1061.7,338.3 1061.9,338.6 1062.2,338.9 1062.2,339.1 1062.4,338.9 1062.7,339.6 1062.7,339.5 1062.9,339.4 1063.2,339.8 1063.2,340.1 1063.4,339.8 1063.7,340.3 1063.7,340.1 1063.9,340.2 1064.2,340.2 1064.2,339.6 1064.7,340.5 1065.2,340.0 1065.7,340.4 1066.2,339.9 1066.7,340.5 1067.2,340.7 1067.7,340.5 1068.2,340.0 1068.2,339.9 1068.5,339.1 1068.7,339.2 1068.8,338.6 1069.0,337.8 1069.2,337.3 1069.2,337.2 1069.5,336.8 1069.7,336.0 1069.8,335.6 1070.0,335.0 1070.2,334.2 1070.2,333.7 1070.5,333.0 1070.7,332.0 1070.8,331.8 1071.0,330.9 1071.2,330.9 1071.2,330.5 1071.5,331.0 1071.7,331.7 1071.8,331.2 1072.0,332.1 1072.2,333.5 1072.2,333.3 1072.5,334.2 1072.7,334.7 1072.8,334.9 1073.0,336.4 1073.2,336.8 1073.2,337.1 1073.5,337.6 1073.7,338.0 1073.8,338.3 1074.0,338.3 1074.2,339.0 1074.2,339.2 1074.7,339.2 1075.2,340.4 1075.7,340.7 1076.2,340.1 1076.7,340.0 1077.2,340.1 1077.5,340.3 1077.7,340.4 1077.8,340.6 1078.0,340.0 1078.2,339.9 1078.3,340.0 1078.5,340.1 1078.7,339.5 1078.8,339.9 1079.0,339.6 1079.2,339.1 1079.3,339.1 1079.5,338.5 1079.7,338.6 1079.8,338.3 1080.0,338.6 1080.2,338.1 1080.3,337.8 1080.5,337.8 1080.7,338.0 1080.8,337.8 1081.0,338.2 1081.2,338.1 1081.3,338.3 1081.5,338.0 1081.7,338.3 1081.8,338.9 1082.0,339.0 1082.2,339.0 1082.3,339.5 1082.5,339.2 1082.7,339.9 1082.8,339.7 1083.0,339.9 1083.2,339.9 1083.3,340.2 1083.5,339.9 1083.7,340.1 1084.2,340.7"/><polyline fill="none" stroke="#ff0000" stroke-width="1.15" stroke-linejoin="round" points="620.2,412.8 620.7,412.9 621.2,412.7 621.7,412.0 622.2,412.5 622.7,412.3 623.2,412.4 623.7,412.1 624.2,412.3 624.7,412.6 625.2,412.3 625.7,412.6 626.2,412.4 626.7,412.2 627.2,412.7 627.7,412.6 628.2,412.9 628.7,413.0 629.2,412.8 629.7,412.7 630.2,413.4 630.7,413.2 631.2,413.4 631.7,413.4 632.2,413.4 632.7,412.7 633.2,413.1 633.7,412.8 634.2,412.9 634.7,413.0 635.2,412.6 635.7,412.3 636.2,412.7 636.7,412.9 637.2,412.8 637.7,412.7 638.2,412.8 638.7,412.5 639.2,412.6 639.7,412.8 640.2,413.2 640.7,412.7 641.2,412.6 641.7,412.5 642.2,412.4 642.7,412.6 643.2,412.6 643.7,412.8 644.2,412.4 644.7,412.4 645.2,412.3 645.7,412.4 646.2,413.1 646.7,413.0 647.2,412.9 647.7,412.7 648.2,413.3 648.7,413.4 649.2,413.5 649.7,413.2 650.2,413.3 650.7,413.3 651.2,412.9 651.7,413.2 652.2,412.8 652.7,413.5 653.2,412.7 653.7,412.9 654.2,412.4 654.7,413.2 655.2,413.2 655.7,413.3 656.2,413.0 656.7,413.1 657.2,412.7 657.7,413.0 658.2,413.0 658.7,412.7 659.2,413.0 659.7,412.5 660.2,412.4 660.7,412.4 661.2,412.5 661.7,412.2 662.2,412.8 662.7,412.7 663.2,412.2 663.7,412.2 664.2,412.6 664.7,412.2 665.2,412.6 665.7,412.9 666.2,412.5 666.7,412.6 667.2,413.0 667.7,412.7 668.2,412.5 668.7,412.9 669.2,413.1 669.7,413.1 669.8,412.8 670.1,412.5 670.2,412.7 670.3,412.9 670.6,412.6 670.7,412.3 670.8,412.2 671.1,412.0 671.2,412.1 671.3,411.8 671.6,411.6 671.7,411.4 671.8,410.2 672.1,409.2 672.2,407.9 672.3,407.2 672.6,405.0 672.7,403.6 672.8,403.9 673.1,404.3 673.2,406.0 673.3,407.1 673.6,409.0 673.7,410.1 673.8,410.5 674.1,411.3 674.2,411.9 674.3,411.5 674.6,412.0 674.7,412.3 674.8,411.9 675.1,412.7 675.2,412.3 675.3,412.9 675.6,412.7 675.7,412.9 675.8,412.9 676.2,412.6 676.7,413.3 677.2,413.2 677.7,413.2 678.2,413.0 678.7,412.9 679.2,413.0 679.7,412.8 680.2,413.5 680.7,412.9 681.2,413.5 681.7,413.4 682.2,413.2 682.7,413.4 683.2,413.1 683.7,412.9 684.2,412.6 684.7,412.4 685.2,412.5 685.7,412.4 686.2,413.1 686.7,412.6 687.2,412.7 687.7,412.6 688.2,412.9 688.7,412.7 689.2,412.9 689.7,412.7 690.2,412.5 690.7,412.1 691.2,412.0 691.7,412.1 692.2,412.7 692.7,412.5 693.2,412.2 693.7,412.4 694.2,412.0 694.7,412.6 695.2,412.5 695.7,412.8 696.2,412.2 696.7,412.6 697.2,412.0 697.7,412.5 698.2,412.3 698.7,411.9 699.2,412.5 699.7,412.0 700.2,411.8 700.7,411.4 701.2,411.5 701.5,410.6 701.7,410.9 701.8,410.4 702.0,410.0 702.2,409.4 702.3,409.3 702.5,409.5 702.7,409.0 702.8,408.5 703.0,408.7 703.2,408.2 703.3,407.5 703.5,406.8 703.7,406.8 703.8,406.1 704.0,406.1 704.2,405.6 704.3,405.7 704.5,405.4 704.7,405.5 704.8,405.7 705.0,405.9 705.2,406.0 705.3,406.1 705.5,406.4 705.7,406.5 705.8,407.4 706.0,407.3 706.2,407.7 706.3,407.5 706.5,407.9 706.7,408.0 706.8,408.2 707.0,408.1 707.2,408.3 707.3,408.4 707.5,408.7 707.7,408.8 707.7,408.6 708.0,408.9 708.2,408.8 708.2,408.9 708.5,407.9 708.7,407.7 708.7,408.0 709.0,407.2 709.2,405.8 709.2,406.0 709.5,405.1 709.7,403.6 709.7,403.2 710.0,401.1 710.0,400.6 710.2,398.8 710.2,398.9 710.3,398.2 710.5,396.4 710.5,395.4 710.7,393.3 710.7,392.9 710.8,391.7 710.8,391.7 711.0,388.4 711.0,386.7 711.1,386.6 711.2,382.3 711.2,382.1 711.3,379.2 711.3,378.5 711.5,370.8 711.5,367.1 711.6,366.2 711.7,356.6 711.7,355.0 711.8,349.2 711.8,347.1 712.0,333.3 712.0,326.1 712.1,324.2 712.2,309.6 712.2,307.5 712.3,300.5 712.3,298.9 712.4,293.7 712.5,282.8 712.5,276.4 712.6,274.3 712.6,270.0 712.7,263.6 712.7,261.8 712.8,258.1 712.8,257.3 712.9,255.0 713.0,251.7 713.0,250.8 713.1,251.3 713.1,251.5 713.2,254.1 713.2,254.6 713.3,258.1 713.3,259.2 713.4,262.2 713.5,270.1 713.5,276.0 713.6,277.9 713.6,283.1 713.7,291.4 713.7,293.4 713.8,300.8 713.8,302.9 713.9,308.1 714.0,326.2 714.1,328.7 714.1,332.9 714.2,341.8 714.3,349.4 714.3,351.6 714.4,354.9 714.5,368.2 714.6,369.9 714.6,372.8 714.7,377.2 714.8,381.9 714.8,383.0 714.9,384.2 715.0,390.4 715.1,390.6 715.1,392.0 715.2,394.5 715.3,396.0 715.3,396.5 715.4,397.1 715.5,399.2 715.6,399.4 715.6,400.4 715.7,401.4 715.8,401.5 715.8,401.9 715.9,401.6 716.0,403.2 716.1,403.4 716.1,403.1 716.2,404.1 716.3,403.8 716.4,403.9 716.6,404.6 716.6,405.1 716.7,405.0 716.8,405.9 716.9,405.1 717.1,406.5 717.2,406.7 717.4,407.0 717.6,407.4 717.7,407.9 717.9,408.2 718.1,408.3 718.2,408.9 718.4,408.9 718.7,409.3 719.2,409.9 719.7,410.9 720.2,410.9 720.7,411.6 721.2,411.1 721.7,411.5 722.2,412.0 722.7,411.9 723.2,412.4 723.7,412.2 724.2,412.6 724.7,412.9 725.2,412.4 725.7,412.5 726.2,413.2 726.7,413.6 727.2,413.4 727.7,413.2 728.2,413.0 728.7,413.4 729.2,413.0 729.7,412.9 730.2,413.0 730.7,413.1 731.2,413.0 731.7,413.0 732.2,412.6 732.7,413.0 733.2,413.0 733.7,413.2 734.2,413.5 734.7,413.6 735.2,413.0 735.7,413.4 736.2,413.3 736.7,413.2 737.2,413.4 737.7,413.8 738.2,413.6 738.7,413.0 739.2,413.0 739.7,413.0 740.2,413.4 740.7,413.0 741.2,412.8 741.7,413.1 742.2,412.9 742.7,412.7 743.2,413.0 743.7,413.6 744.2,413.5 744.7,413.5 745.2,413.1 745.6,413.4 745.7,413.4 745.9,413.5 746.1,413.1 746.2,412.8 746.4,413.5 746.6,413.0 746.7,413.4 746.9,413.1 747.1,413.2 747.2,413.0 747.4,412.7 747.6,412.7 747.7,412.8 747.9,412.8 748.1,411.8 748.2,411.9 748.4,411.4 748.6,411.4 748.7,410.8 748.9,411.4 749.1,412.1 749.2,411.4 749.4,412.4 749.6,412.7 749.7,412.7 749.9,412.4 750.1,413.1 750.2,413.1 750.4,413.1 750.6,413.4 750.7,413.4 750.9,413.1 751.1,413.3 751.2,412.5 751.4,412.8 751.6,413.0 751.7,413.2 752.2,413.5 752.7,413.4 753.2,413.2 753.7,413.0 754.1,413.2 754.2,412.9 754.4,412.8 754.6,412.5 754.7,412.2 754.9,411.8 755.1,410.8 755.2,410.7 755.4,410.4 755.6,409.0 755.7,408.4 755.9,407.4 756.1,405.1 756.2,405.0 756.4,402.7 756.6,400.2 756.7,399.7 756.9,397.5 757.1,396.6 757.2,397.0 757.4,397.4 757.6,400.2 757.7,400.5 757.9,403.2 758.1,405.2 758.2,405.6 758.4,407.7 758.6,409.5 758.7,409.5 758.9,411.1 759.1,411.8 759.2,411.5 759.4,412.0 759.6,412.3 759.7,411.6 759.9,411.9 760.1,412.1 760.2,412.1 760.3,411.8 760.6,411.9 760.7,412.2 760.8,412.3 761.1,411.5 761.2,411.7 761.3,411.5 761.6,411.2 761.7,410.2 761.8,409.7 762.1,408.6 762.2,407.7 762.3,407.2 762.6,405.8 762.7,404.4 762.8,403.4 763.1,402.4 763.2,401.8 763.3,402.0 763.6,402.9 763.7,403.4 763.8,404.5 764.1,406.3 764.2,407.4 764.3,408.3 764.6,410.1 764.7,410.5 764.8,410.5 765.1,411.4 765.2,411.9 765.3,412.2 765.6,412.5 765.7,413.0 765.8,412.8 766.1,412.8 766.2,413.1 766.3,412.5 766.7,413.0 767.2,413.4 767.7,413.6 768.2,413.7 768.7,413.3 769.2,413.3 769.7,414.0 770.2,413.7 770.7,413.4 771.2,413.2 771.7,413.9 772.2,413.7 772.7,413.1 773.2,413.9 773.7,413.7 774.2,413.5 774.7,413.7 775.2,413.6 775.7,413.9 776.2,413.4 776.7,413.8 777.2,413.8 777.7,413.9 778.2,413.2 778.7,413.4 779.2,413.5 779.7,412.8 780.2,413.0 780.7,413.4 781.2,413.2 781.7,412.5 782.2,413.1 782.7,412.6 783.2,412.5 783.5,412.7 783.7,412.2 783.8,412.1 784.0,411.8 784.2,411.5 784.3,411.4 784.5,411.3 784.7,410.1 784.8,410.3 785.0,408.9 785.2,408.4 785.3,407.3 785.5,405.6 785.7,404.8 785.8,403.5 786.0,401.5 786.2,400.5 786.3,399.9 786.5,399.2 786.7,399.1 786.8,400.3 787.0,401.5 787.2,403.0 787.3,403.3 787.5,405.4 787.7,406.5 787.8,407.1 788.0,408.9 788.2,409.6 788.3,409.8 788.5,411.2 788.7,411.4 788.8,411.5 789.0,411.9 789.2,412.2 789.3,411.6 789.5,411.7 789.7,412.3 790.2,411.7 790.7,412.4 791.2,412.4 791.3,412.6 791.5,411.9 791.7,412.4 791.8,412.4 792.0,412.5 792.2,412.0 792.3,412.4 792.5,412.0 792.7,411.2 792.8,411.0 793.0,409.7 793.2,408.2 793.3,407.2 793.5,404.3 793.7,401.7 793.8,401.4 794.0,398.8 794.2,397.7 794.3,397.4 794.5,399.0 794.7,400.6 794.8,401.3 795.0,404.6 795.2,406.1 795.3,406.9 795.5,409.5 795.7,410.0 795.8,410.9 795.9,411.1 796.0,411.5 796.2,411.8 796.2,412.0 796.3,411.6 796.4,411.7 796.5,412.0 796.7,411.5 796.7,411.7 796.8,411.5 796.9,411.7 797.0,412.2 797.2,411.8 797.2,411.9 797.3,411.8 797.4,411.6 797.7,411.7 797.7,411.6 797.9,410.0 798.2,409.2 798.2,408.4 798.4,407.4 798.7,405.2 798.7,405.7 798.9,405.3 799.2,405.5 799.2,405.6 799.4,407.3 799.7,409.5 799.7,409.7 799.9,410.5 800.2,412.1 800.2,412.0 800.4,412.8 800.7,413.3 800.7,412.7 800.9,413.2 801.2,412.8 801.2,412.8 801.4,413.3 801.7,413.3 801.7,413.2 801.9,413.3 802.2,413.3 802.7,413.8 803.2,413.5 803.7,413.5 804.2,413.9 804.7,413.3 805.2,413.8 805.7,413.9 806.2,413.9 806.7,413.7 807.2,413.8 807.7,413.6 808.2,413.9 808.7,413.8 809.2,414.1 809.7,414.0 810.2,413.6 810.7,414.1 811.2,414.2 811.7,414.2 812.2,413.9 812.7,413.7 813.2,414.3 813.7,413.7 814.2,414.3 814.7,414.2 815.2,414.4 815.7,413.9 816.2,413.5 816.7,413.4 817.2,413.1 817.7,413.4 818.2,413.2 818.7,412.4 819.2,411.8 819.7,411.3 819.9,410.9 820.1,410.5 820.2,410.1 820.4,409.4 820.6,408.3 820.7,407.6 820.9,406.2 821.1,404.4 821.2,404.2 821.4,401.0 821.6,397.7 821.7,397.1 821.9,393.9 822.1,390.0 822.2,389.3 822.4,385.8 822.6,383.2 822.7,382.7 822.9,382.2 823.1,383.2 823.2,383.6 823.4,385.8 823.6,389.9 823.7,390.7 823.9,394.5 824.1,398.5 824.2,399.1 824.4,402.4 824.6,404.8 824.7,405.2 824.9,407.1 825.1,409.4 825.2,409.1 825.4,410.4 825.6,410.6 825.7,410.9 825.9,411.6 826.2,411.6 826.7,412.4 827.2,413.2 827.7,413.1 828.2,412.9 828.7,413.6 829.2,413.4 829.7,413.6 830.2,413.4 830.7,413.4 831.2,413.7 831.7,413.6 832.2,413.6 832.7,413.4 833.2,413.5 833.7,413.5 834.2,413.3 834.7,413.1 835.2,413.6 835.7,413.3 836.2,413.5 836.7,413.3 837.2,413.8 837.7,413.9 838.2,413.5 838.7,414.3 839.2,414.3 839.7,414.2 840.2,414.0 840.7,414.0 841.2,413.6 841.7,413.8 842.2,413.9 842.7,413.7 843.2,414.1 843.7,414.1 844.2,413.9 844.7,414.4 845.2,413.9 845.7,413.9 846.2,413.5 846.7,413.4 847.2,413.9 847.7,413.5 848.2,413.7 848.7,413.7 849.2,413.5 849.7,413.4 850.2,413.8 850.7,413.3 851.2,413.7 851.7,414.2 852.2,414.2 852.7,414.1 853.2,414.7 853.7,414.7 854.2,414.7 854.7,414.3 855.2,414.6 855.7,414.6 856.2,414.7 856.7,414.5 857.2,414.7 857.7,414.3 858.2,414.0 858.7,414.2 859.2,413.9 859.7,414.4 860.2,414.1 860.7,414.7 861.2,414.3 861.7,414.5 862.2,414.7 862.7,414.3 863.2,414.5 863.7,414.3 864.2,414.2 864.7,414.1 865.2,414.2 865.7,414.0 866.2,413.7 866.7,414.1 867.2,413.8 867.7,413.9 868.2,413.7 868.7,414.0 869.2,413.8 869.7,413.8 870.2,413.5 870.2,413.5 870.4,413.2 870.7,413.3 870.7,412.9 870.9,412.4 871.2,412.2 871.2,412.1 871.4,411.7 871.7,411.4 871.7,411.4 871.9,411.0 872.2,410.1 872.2,410.1 872.4,409.9 872.7,409.2 872.7,409.3 872.9,409.2 873.2,409.3 873.2,408.8 873.4,408.9 873.7,409.6 873.7,410.3 873.9,410.6 874.2,410.9 874.2,411.3 874.4,411.5 874.7,412.0 874.7,412.1 874.9,412.0 875.2,412.6 875.2,413.0 875.4,412.8 875.7,413.4 875.7,412.7 875.9,413.7 876.2,413.7 876.2,413.5 876.7,413.8 877.2,413.6 877.7,413.7 878.2,413.6 878.7,414.2 879.2,413.7 879.7,413.9 880.2,413.8 880.7,413.7 881.2,414.0 881.7,413.8 882.2,414.1 882.7,414.0 883.2,413.7 883.7,414.0 884.2,413.8 884.7,413.6 885.2,413.9 885.7,414.0 886.2,413.6 886.7,414.1 887.2,413.8 887.2,413.3 887.5,413.4 887.7,413.2 887.7,412.9 888.0,413.0 888.2,412.2 888.2,412.2 888.5,411.8 888.7,410.9 888.7,411.0 889.0,411.2 889.2,410.4 889.2,409.9 889.5,409.5 889.7,408.6 889.7,408.9 890.0,408.1 890.2,408.5 890.2,408.2 890.5,408.6 890.7,408.4 890.7,408.7 891.0,409.3 891.2,410.1 891.2,410.3 891.5,410.5 891.7,411.3 891.7,411.1 892.0,411.6 892.2,412.1 892.2,412.0 892.5,412.7 892.7,413.3 892.7,413.7 893.0,413.8 893.2,414.1 893.2,413.9 893.7,413.8 894.2,414.1 894.7,414.2 895.2,413.9 895.7,413.9 896.2,414.3 896.7,413.8 897.2,414.0 897.7,413.6 898.2,414.1 898.7,413.4 899.2,413.7 899.7,413.9 900.2,413.7 900.7,413.7 901.2,414.1 901.7,413.4 902.2,414.2 902.7,414.0 903.2,413.8 903.5,413.7 903.7,413.1 903.7,413.1 904.0,412.6 904.2,412.1 904.2,411.9 904.5,411.9 904.7,410.9 904.7,411.1 905.0,410.0 905.2,409.1 905.2,409.9 905.5,408.7 905.7,408.0 905.7,408.3 906.0,407.0 906.2,406.4 906.2,406.7 906.5,406.5 906.7,406.9 906.7,406.7 907.0,407.2 907.2,408.4 907.2,408.4 907.5,409.4 907.7,410.0 907.7,410.1 908.0,410.4 908.2,411.7 908.2,411.3 908.5,411.5 908.7,412.2 908.7,412.7 909.0,413.0 909.2,413.5 909.2,413.2 909.5,413.6 909.7,413.5 910.2,414.3 910.7,414.4 911.2,414.3 911.7,414.8 912.2,414.4 912.7,413.8 913.2,414.1 913.7,413.5 914.2,413.4 914.7,413.4 915.2,412.9 915.7,412.5 915.8,412.3 916.1,411.9 916.2,411.8 916.3,411.6 916.6,410.6 916.7,410.5 916.8,409.9 917.1,408.8 917.2,408.6 917.3,408.3 917.6,406.4 917.7,406.6 917.8,405.4 918.1,404.6 918.2,404.1 918.3,403.5 918.6,402.7 918.7,401.9 918.8,402.2 919.1,402.5 919.2,403.0 919.3,403.7 919.6,404.7 919.7,404.7 919.8,405.5 920.1,407.0 920.2,407.4 920.3,408.0 920.6,409.1 920.7,409.6 920.8,410.0 921.1,411.3 921.2,411.1 921.3,411.6 921.6,412.1 921.7,412.2 921.8,412.4 922.2,413.2 922.7,413.0 923.2,413.6 923.7,414.0 924.2,414.1 924.7,413.8 925.2,414.2 925.7,414.4 926.2,414.4 926.7,414.5 927.2,414.6 927.7,414.2 928.2,414.3 928.7,414.1 929.2,414.2 929.7,414.5 930.2,414.4 930.7,414.3 931.2,414.2 931.7,414.0 932.2,414.2 932.7,414.0 933.2,414.5 933.7,414.7 934.2,414.4 934.7,414.7 935.2,414.2 935.7,414.0 936.2,414.6 936.7,414.4 937.2,414.1 937.7,414.2 938.2,414.3 938.7,414.2 939.2,413.7 939.7,413.8 940.2,413.8 940.7,413.9 941.2,414.1 941.7,413.4 942.1,413.2 942.2,413.7 942.4,412.9 942.6,412.7 942.7,413.1 942.9,412.6 943.1,412.0 943.2,411.9 943.4,411.2 943.6,411.1 943.7,410.7 943.9,410.3 944.1,410.1 944.2,409.7 944.4,409.3 944.6,408.8 944.7,408.7 944.9,408.8 945.1,408.8 945.2,408.3 945.4,408.3 945.6,408.9 945.7,408.9 945.9,409.6 946.1,409.8 946.2,410.1 946.4,410.5 946.6,411.6 946.7,411.2 946.9,411.6 947.1,412.3 947.2,412.5 947.4,412.4 947.6,412.8 947.7,413.2 947.9,413.3 948.1,413.0 948.2,413.7 948.7,413.3 949.2,413.5 949.7,413.9 950.2,413.6 950.7,413.9 951.2,413.7 951.7,414.1 952.2,413.8 952.7,413.7 953.2,414.0 953.7,414.1 954.2,413.5 954.7,414.0 955.2,414.1 955.7,414.3 956.2,413.9 956.7,414.6 957.2,414.0 957.7,414.6 958.2,414.4 958.4,414.0 958.6,413.9 958.7,413.3 958.9,413.7 959.1,413.4 959.2,413.5 959.4,413.0 959.6,412.8 959.7,412.7 959.9,411.8 960.1,411.1 960.2,411.0 960.4,411.0 960.6,410.3 960.7,410.2 960.9,409.9 961.1,409.1 961.2,410.0 961.4,409.8 961.6,409.9 961.7,409.7 961.9,410.3 962.1,410.5 962.2,410.7 962.4,411.0 962.6,410.9 962.7,411.3 962.9,411.5 963.1,411.7 963.2,411.8 963.4,412.2 963.6,412.3 963.7,412.0 963.9,412.9 964.1,413.2 964.2,413.4 964.4,413.3 964.7,413.1 965.2,413.7 965.7,413.4 966.2,413.2 966.7,413.4 967.2,413.5 967.7,412.9 967.7,412.9 967.9,413.3 968.2,412.8 968.2,413.2 968.4,413.0 968.7,413.4 968.7,413.2 968.9,412.7 969.2,412.6 969.2,412.9 969.4,412.3 969.7,411.6 969.7,412.4 969.9,411.6 970.2,411.4 970.2,411.3 970.4,410.7 970.7,410.5 970.7,410.5 970.9,411.2 971.2,411.3 971.2,410.9 971.4,411.4 971.7,412.1 971.7,411.6 971.9,411.8 972.2,412.3 972.2,412.1 972.4,412.6 972.7,412.3 972.7,412.6 972.9,412.4 973.2,412.6 973.2,413.3 973.4,413.2 973.7,413.1 973.7,413.5 974.2,414.0 974.7,413.9 975.2,413.9 975.7,414.3 976.2,414.6 976.7,414.3 977.2,414.0 977.7,414.0 978.2,413.7 978.7,414.0 979.2,413.2 979.7,412.7 980.2,412.7 980.7,412.3 980.8,412.0 981.1,411.5 981.2,410.5 981.3,410.7 981.6,410.3 981.7,409.2 981.8,408.9 982.1,407.7 982.2,407.0 982.3,406.6 982.6,405.4 982.7,404.9 982.8,404.0 983.1,402.7 983.2,402.0 983.3,401.6 983.6,401.0 983.7,400.6 983.8,400.2 984.1,400.2 984.2,400.8 984.3,401.1 984.6,402.9 984.7,403.6 984.8,403.8 985.1,405.5 985.2,406.1 985.3,406.8 985.6,408.4 985.7,408.3 985.8,409.2 986.1,409.9 986.2,410.8 986.3,410.8 986.6,411.6 986.7,411.8 986.8,412.2 987.2,412.7 987.7,413.0 988.2,413.2 988.7,413.6 989.2,413.8 989.7,413.8 990.2,413.8 990.7,414.0 991.2,414.0 991.7,413.9 992.2,413.9 992.7,413.6 993.2,413.6 993.7,413.5 994.2,413.4 994.7,413.5 995.2,413.7 995.7,413.3 996.2,413.9 996.7,413.6 997.2,413.9 997.7,413.6 998.2,413.8 998.7,413.8 999.2,413.2 999.7,413.2 1000.2,413.7 1000.7,413.1 1001.2,413.4 1001.7,413.5 1002.2,413.6 1002.7,413.2 1003.2,412.9 1003.7,413.0 1004.2,412.9 1004.7,412.3 1005.2,412.8 1005.6,412.0 1005.7,412.3 1005.8,412.6 1006.1,412.3 1006.2,412.2 1006.3,412.0 1006.6,411.4 1006.7,411.2 1006.8,410.9 1007.1,410.5 1007.2,409.9 1007.3,409.8 1007.6,409.7 1007.7,409.0 1007.8,409.4 1008.1,408.7 1008.2,409.2 1008.3,408.7 1008.6,408.7 1008.7,409.1 1008.8,409.4 1009.1,409.5 1009.2,409.3 1009.3,409.5 1009.6,409.6 1009.7,410.0 1009.8,410.0 1010.1,410.6 1010.2,410.7 1010.3,410.0 1010.6,410.9 1010.7,411.3 1010.8,411.6 1011.1,411.9 1011.2,411.3 1011.3,411.6 1011.6,411.8 1011.7,411.8 1012.2,412.8 1012.7,412.9 1013.2,413.3 1013.7,412.7 1014.2,413.2 1014.7,412.8 1015.2,413.1 1015.7,412.8 1016.2,412.8 1016.7,413.3 1017.2,412.4 1017.7,413.0 1018.2,412.9 1018.7,413.0 1019.2,412.5 1019.7,412.7 1020.2,412.4 1020.3,412.2 1020.5,411.9 1020.7,411.4 1020.8,411.6 1021.0,410.9 1021.2,410.7 1021.3,411.1 1021.5,410.3 1021.7,410.8 1021.8,410.4 1022.0,410.8 1022.2,410.1 1022.3,410.3 1022.5,409.5 1022.7,409.4 1022.8,408.9 1023.0,408.5 1023.2,408.3 1023.3,408.8 1023.5,408.7 1023.7,408.6 1023.8,409.2 1024.0,409.4 1024.2,409.1 1024.3,409.8 1024.5,410.0 1024.7,410.4 1024.8,410.6 1025.0,410.9 1025.2,411.2 1025.3,411.0 1025.5,411.5 1025.7,411.6 1025.8,411.6 1026.0,412.1 1026.2,411.7 1026.3,412.2 1026.7,411.7 1027.2,411.9 1027.7,412.2 1028.2,412.6 1028.7,412.4 1029.2,412.5 1029.7,412.9 1030.2,413.0 1030.7,412.7 1031.2,413.3 1031.7,413.1 1032.2,413.3 1032.7,413.0 1033.2,413.4 1033.7,413.4 1034.2,413.2 1034.7,412.8 1035.2,412.7 1035.7,412.8 1036.2,413.2 1036.7,413.2 1037.2,412.8 1037.7,412.6 1038.2,412.6 1038.7,413.4 1039.2,412.8 1039.7,413.3 1040.2,412.9 1040.7,413.2 1041.2,413.0 1041.7,413.5 1042.2,413.5 1042.7,413.1 1043.2,413.1 1043.7,412.7 1044.2,412.2 1044.7,411.9 1045.0,411.0 1045.2,411.2 1045.3,411.5 1045.5,410.9 1045.7,410.8 1045.8,410.7 1046.0,410.7 1046.2,410.0 1046.3,410.1 1046.5,409.7 1046.7,409.7 1046.8,409.3 1047.0,409.2 1047.2,408.9 1047.3,408.4 1047.5,408.2 1047.7,408.0 1047.8,407.6 1048.0,407.7 1048.2,407.7 1048.3,407.7 1048.5,407.7 1048.7,408.0 1048.8,408.5 1049.0,408.5 1049.2,408.9 1049.3,409.1 1049.5,409.3 1049.7,409.9 1049.8,409.9 1050.0,409.7 1050.2,410.3 1050.3,410.1 1050.5,410.2 1050.5,410.1 1050.7,410.5 1050.8,410.7 1051.0,411.0 1051.0,410.8 1051.2,411.2 1051.5,411.2 1051.7,411.2 1052.0,410.7 1052.2,411.3 1052.5,411.0 1052.7,410.5 1053.0,410.3 1053.2,410.7 1053.5,410.0 1053.7,410.4 1054.0,410.5 1054.2,410.6 1054.5,411.1 1054.7,410.6 1055.0,410.7 1055.2,410.7 1055.5,411.2 1055.7,411.0 1056.0,411.3 1056.2,412.1 1056.5,412.6 1056.7,412.0 1057.2,412.7 1057.7,413.2 1058.2,412.5 1058.7,412.4 1059.2,412.8 1059.7,412.3 1060.2,412.4 1060.7,412.6 1061.2,412.6 1061.7,411.8 1062.1,411.9 1062.2,412.0 1062.3,412.0 1062.6,411.8 1062.7,412.1 1062.8,411.8 1063.1,412.2 1063.2,411.8 1063.3,411.6 1063.6,412.3 1063.7,411.9 1063.8,412.0 1064.1,411.9 1064.2,411.9 1064.3,411.4 1064.6,412.1 1064.7,412.2 1064.8,411.8 1065.1,411.9 1065.2,411.7 1065.3,411.8 1065.6,411.7 1065.7,411.7 1065.8,411.9 1066.1,411.6 1066.2,411.8 1066.3,411.7 1066.6,411.8 1066.7,412.1 1066.8,412.5 1067.1,411.7 1067.2,412.1 1067.3,412.4 1067.6,412.0 1067.7,412.1 1067.8,412.0 1068.1,412.4 1068.2,412.3 1068.7,411.9 1069.2,412.0 1069.7,411.7 1070.2,411.5 1070.6,411.9 1070.7,412.0 1070.8,411.6 1071.1,411.4 1071.2,411.3 1071.3,411.9 1071.6,411.9 1071.7,411.1 1071.8,411.3 1072.1,411.1 1072.2,410.9 1072.3,411.0 1072.6,410.9 1072.7,410.3 1072.8,410.7 1073.1,410.3 1073.2,410.0 1073.3,410.3 1073.6,409.6 1073.7,409.7 1073.8,410.0 1074.1,410.0 1074.2,410.1 1074.3,410.2 1074.6,410.7 1074.7,410.2 1074.8,410.5 1075.1,410.9 1075.2,410.8 1075.3,411.0 1075.6,411.5 1075.7,411.5 1075.8,411.6 1076.1,412.0 1076.2,411.6 1076.3,412.0 1076.6,412.0 1076.7,411.8 1077.2,412.4 1077.7,412.5 1078.2,412.5 1078.3,412.3 1078.6,412.0 1078.7,412.2 1078.8,411.6 1079.1,411.7 1079.2,411.7 1079.3,411.5 1079.6,411.9 1079.7,411.7 1079.8,412.0 1080.1,411.5 1080.2,411.5 1080.3,411.7 1080.6,411.1 1080.7,411.4 1080.8,411.4 1081.1,411.5 1081.2,411.4 1081.3,411.6 1081.6,411.7 1081.7,411.1 1081.8,411.6 1082.1,411.6 1082.2,411.5 1082.3,411.1 1082.6,411.7 1082.7,411.2 1082.8,411.4 1083.1,411.5 1083.2,412.2 1083.3,411.8 1083.6,411.9 1083.7,412.1 1083.8,412.3 1084.1,412.9 1084.2,412.2 1084.3,412.4"/><polyline fill="none" stroke="#111111" stroke-width="1.15" stroke-linejoin="round" points="620.2,479.9 620.7,480.0 621.2,479.5 621.7,480.1 622.2,479.4 622.7,480.0 623.2,479.5 623.7,480.2 624.2,479.7 624.7,480.1 625.2,480.0 625.7,479.9 626.2,479.7 626.7,480.0 627.2,480.1 627.7,479.5 628.2,479.9 628.7,480.4 629.2,480.2 629.7,480.2 630.2,480.2 630.7,480.7 631.2,480.2 631.7,480.7 632.2,480.6 632.7,479.9 633.2,480.0 633.7,480.1 634.2,480.2 634.7,479.9 635.2,480.1 635.7,480.1 636.2,479.6 636.7,480.3 637.2,479.6 637.7,479.5 638.2,480.0 638.7,480.0 639.2,480.1 639.7,480.5 640.2,480.2 640.7,479.7 641.2,479.9 641.7,480.0 642.2,479.3 642.7,479.6 643.2,479.5 643.7,479.5 644.2,479.8 644.7,480.1 645.2,480.4 645.7,479.9 646.2,480.2 646.7,480.7 647.2,480.6 647.7,480.2 648.2,480.0 648.7,480.1 649.2,479.9 649.7,480.3 650.2,480.3 650.7,480.2 651.2,480.4 651.7,480.0 652.2,480.2 652.7,480.6 653.2,480.1 653.7,479.9 654.2,480.3 654.7,480.2 655.2,480.4 655.7,479.9 656.2,480.1 656.7,479.9 657.2,480.2 657.7,480.1 658.2,480.3 658.7,480.3 659.2,479.7 659.7,480.6 660.2,480.4 660.7,480.5 661.2,480.1 661.7,480.1 662.2,480.0 662.7,480.0 663.2,480.1 663.7,480.1 664.2,480.3 664.7,480.3 665.2,480.5 665.7,480.4 666.2,480.2 666.7,479.7 667.2,479.8 667.7,479.8 668.2,479.9 668.7,479.5 669.2,479.6 669.7,480.0 669.8,479.4 670.1,479.5 670.2,479.7 670.3,479.2 670.6,479.7 670.7,479.6 670.8,479.3 671.1,479.4 671.2,479.1 671.3,479.7 671.6,479.4 671.7,478.8 671.8,478.7 672.1,476.4 672.2,475.4 672.3,474.2 672.6,471.9 672.7,471.6 672.8,470.7 673.1,472.5 673.2,473.5 673.3,474.6 673.6,476.2 673.7,477.8 673.8,478.4 674.1,478.9 674.2,479.2 674.3,479.2 674.6,479.7 674.7,479.3 674.8,480.0 675.1,479.8 675.2,480.0 675.3,479.7 675.6,479.9 675.7,479.8 675.8,480.1 676.2,479.8 676.7,480.5 677.2,480.3 677.7,480.3 678.2,480.0 678.7,479.8 679.2,479.9 679.7,479.9 680.2,480.5 680.7,480.0 681.2,480.4 681.7,479.9 682.2,480.3 682.7,479.8 683.2,479.7 683.7,480.3 684.2,480.1 684.7,480.5 685.2,479.8 685.7,480.0 686.2,479.8 686.7,479.9 687.2,480.4 687.7,480.2 688.2,479.9 688.7,479.7 689.2,480.1 689.7,480.2 690.2,479.7 690.7,479.6 691.2,479.7 691.7,480.3 692.2,480.0 692.7,479.6 693.2,479.5 693.7,479.4 694.2,479.6 694.7,479.6 695.2,479.2 695.7,479.2 696.2,479.2 696.7,479.8 697.2,479.4 697.7,479.7 698.2,479.1 698.7,479.5 699.2,479.3 699.7,479.5 700.2,478.8 700.7,478.3 701.2,478.3 701.5,477.8 701.7,477.3 701.8,477.1 702.0,476.4 702.2,476.3 702.3,476.4 702.5,475.6 702.7,475.3 702.8,475.1 703.0,474.3 703.2,473.7 703.3,473.8 703.5,473.3 703.7,472.8 703.8,472.3 704.0,472.2 704.2,471.8 704.3,471.5 704.5,471.2 704.7,470.9 704.8,471.5 705.0,471.8 705.2,471.7 705.3,471.6 705.5,471.7 705.7,472.5 705.8,472.6 706.0,472.7 706.2,473.1 706.3,473.3 706.5,473.2 706.7,473.7 706.8,473.7 707.0,474.3 707.0,474.0 707.2,474.6 707.3,474.0 707.5,474.3 707.5,474.2 707.7,473.2 708.0,473.1 708.2,472.3 708.5,472.1 708.7,471.5 709.0,471.3 709.2,470.3 709.5,469.8 709.7,468.9 710.0,467.7 710.0,466.6 710.2,465.2 710.3,464.8 710.5,462.1 710.5,460.9 710.7,457.2 710.8,455.1 710.8,454.5 711.0,449.9 711.0,445.9 711.1,444.9 711.2,438.2 711.3,433.6 711.3,431.8 711.5,422.6 711.5,415.7 711.6,413.9 711.7,402.7 711.8,394.2 711.8,392.5 712.0,379.1 712.0,370.1 712.1,367.7 712.2,354.2 712.3,345.2 712.3,343.6 712.5,330.2 712.5,323.3 712.6,322.1 712.7,312.8 712.8,308.3 712.8,307.5 713.0,303.5 713.0,303.1 713.1,303.2 713.2,305.4 713.3,308.4 713.3,309.0 713.5,322.7 713.6,324.4 713.7,336.5 713.8,344.7 713.8,346.5 714.0,369.0 714.1,371.0 714.2,385.4 714.3,393.7 714.3,395.5 714.5,415.9 714.6,416.9 714.7,427.6 714.8,433.0 714.8,434.3 715.0,446.0 715.1,446.3 715.2,452.0 715.3,455.4 715.3,455.5 715.5,461.2 715.6,461.9 715.7,464.3 715.8,465.7 715.8,465.9 716.0,468.0 716.1,468.3 716.2,469.0 716.3,470.1 716.6,471.2 716.7,471.2 716.8,471.5 717.2,473.4 717.7,473.9 718.2,475.5 718.7,476.2 719.2,476.7 719.7,477.7 720.2,478.2 720.7,479.2 721.2,479.4 721.7,479.5 722.2,479.2 722.7,479.4 723.2,479.3 723.7,480.0 724.2,480.1 724.7,479.9 725.2,480.0 725.7,479.8 726.2,480.0 726.7,479.9 727.2,479.7 727.7,480.2 728.2,480.4 728.7,480.3 729.2,480.0 729.7,480.1 730.2,480.3 730.7,479.7 731.2,479.9 731.7,480.0 732.2,480.0 732.7,479.9 733.2,479.8 733.7,479.6 734.2,479.7 734.7,480.4 735.2,480.4 735.7,479.7 736.2,480.1 736.7,479.6 737.2,480.0 737.7,480.3 738.2,480.4 738.7,480.4 739.2,480.4 739.7,480.0 740.2,479.6 740.7,479.8 741.2,480.2 741.7,480.2 742.2,480.5 742.7,480.0 743.2,480.5 743.7,480.2 744.2,480.2 744.7,479.8 745.2,480.0 745.6,480.1 745.7,480.2 745.9,480.2 746.1,479.9 746.2,480.1 746.4,479.8 746.6,479.7 746.7,480.3 746.9,480.1 747.1,479.8 747.2,479.9 747.4,479.5 747.6,478.8 747.7,478.4 747.9,476.8 748.1,475.2 748.2,474.3 748.4,472.5 748.6,471.4 748.7,471.4 748.9,472.9 749.1,475.0 749.2,475.5 749.4,477.5 749.6,478.4 749.7,478.7 749.9,479.7 750.1,479.7 750.2,479.2 750.4,479.9 750.6,479.5 750.7,480.0 750.9,479.7 751.1,479.7 751.2,480.0 751.4,479.6 751.6,480.1 751.7,480.0 752.2,480.2 752.7,479.8 753.2,479.5 753.4,480.0 753.6,479.9 753.7,479.5 753.9,479.0 754.1,478.9 754.2,478.6 754.4,478.3 754.6,477.7 754.7,477.2 754.9,476.1 755.1,475.3 755.2,474.6 755.4,473.0 755.6,470.7 755.7,470.6 755.9,468.9 756.1,467.2 756.2,467.4 756.4,466.5 756.6,467.2 756.7,467.9 756.9,469.5 757.1,471.2 757.2,472.0 757.4,473.2 757.6,474.9 757.7,475.4 757.9,476.3 758.1,477.3 758.2,477.5 758.4,478.2 758.6,478.6 758.7,478.5 758.9,478.1 759.1,478.3 759.2,478.1 759.4,478.5 759.5,478.7 759.7,478.8 759.8,479.2 760.0,478.7 760.2,478.5 760.3,478.7 760.5,478.2 760.7,478.3 760.8,477.3 761.0,476.2 761.2,475.1 761.3,474.7 761.5,473.4 761.7,471.5 761.8,471.0 762.0,469.0 762.2,467.3 762.3,467.2 762.5,466.5 762.7,467.0 762.8,467.1 763.0,468.6 763.2,469.6 763.3,470.4 763.5,472.4 763.7,473.8 763.8,474.9 764.0,476.1 764.2,476.6 764.3,477.3 764.5,477.9 764.7,478.6 764.8,479.2 765.0,479.1 765.2,478.8 765.3,478.9 765.5,479.1 765.7,479.6 766.2,480.0 766.7,479.6 767.2,479.8 767.7,479.5 768.2,480.1 768.7,479.6 769.2,479.7 769.7,480.1 770.2,480.1 770.7,479.9 771.2,480.6 771.7,480.3 772.2,480.4 772.7,479.8 773.2,480.2 773.7,479.7 774.2,480.3 774.7,479.8 775.2,480.3 775.7,480.3 776.2,480.1 776.7,480.0 777.2,480.4 777.7,479.9 778.2,479.9 778.7,479.6 779.2,480.2 779.7,479.7 780.2,479.5 780.7,480.4 781.2,480.1 781.7,480.0 782.2,480.1 782.7,479.8 783.2,480.1 783.5,480.1 783.7,479.3 783.8,479.5 784.0,478.7 784.2,478.5 784.3,478.6 784.5,478.4 784.7,477.6 784.8,477.1 785.0,475.2 785.2,474.8 785.3,473.6 785.5,471.8 785.7,469.7 785.8,469.4 786.0,466.4 786.2,465.1 786.3,465.0 786.5,464.0 786.7,464.1 786.8,464.7 787.0,466.6 787.2,467.8 787.3,468.7 787.5,471.2 787.7,472.6 787.8,473.2 788.0,475.1 788.2,476.2 788.3,476.4 788.5,477.2 788.7,477.7 788.8,478.1 789.0,478.7 789.2,478.7 789.3,478.9 789.5,479.2 789.7,479.1 790.2,479.2 790.7,479.5 791.2,479.5 791.3,479.6 791.5,479.9 791.7,479.4 791.8,479.3 792.0,479.6 792.2,479.1 792.3,479.3 792.5,478.6 792.7,478.3 792.8,478.0 793.0,476.7 793.2,475.5 793.3,475.1 793.5,473.1 793.7,471.3 793.8,471.0 794.0,467.9 794.2,467.6 794.3,467.6 794.5,468.2 794.7,469.1 794.8,470.0 795.0,472.8 795.2,474.0 795.3,475.0 795.5,476.4 795.7,477.2 795.8,477.6 795.9,478.2 796.0,478.8 796.2,478.5 796.2,478.4 796.3,478.6 796.4,478.9 796.5,479.0 796.7,479.2 796.7,479.5 796.8,479.2 796.9,478.8 797.0,479.4 797.2,478.9 797.2,478.8 797.3,478.8 797.4,478.8 797.7,478.7 797.7,478.3 797.9,477.7 798.2,477.1 798.2,476.9 798.4,475.9 798.7,474.4 798.7,474.9 798.9,474.4 799.2,474.8 799.2,475.4 799.4,476.1 799.7,477.5 799.7,477.9 799.9,478.5 800.2,479.1 800.2,478.7 800.4,479.6 800.7,480.2 800.7,479.6 800.9,479.9 801.2,479.4 801.2,479.4 801.4,480.1 801.7,480.6 801.7,480.2 801.9,479.8 802.2,479.6 802.7,480.2 803.2,480.2 803.7,480.5 804.2,479.9 804.7,480.5 805.2,480.1 805.7,480.1 806.2,480.4 806.7,480.4 807.2,480.8 807.7,480.3 808.2,480.2 808.7,480.5 809.2,480.3 809.7,480.1 810.2,480.4 810.7,479.9 811.2,480.0 811.7,480.4 812.2,480.2 812.7,480.0 813.2,480.1 813.7,480.6 814.2,480.0 814.7,480.5 815.2,480.5 815.7,480.0 816.2,480.0 816.7,479.4 817.2,479.5 817.7,478.7 818.2,479.0 818.7,478.3 819.2,478.1 819.7,477.9 819.9,477.4 820.1,476.4 820.2,477.1 820.4,476.4 820.6,475.1 820.7,474.3 820.9,472.7 821.1,470.7 821.2,470.0 821.4,467.0 821.6,463.5 821.7,462.9 821.9,459.4 822.1,454.9 822.2,453.7 822.4,450.1 822.6,447.0 822.7,446.8 822.9,446.1 823.1,447.5 823.2,448.2 823.4,450.4 823.6,455.1 823.7,455.9 823.9,459.6 824.1,463.9 824.2,464.7 824.4,467.7 824.6,470.5 824.7,471.6 824.9,472.9 825.1,474.4 825.2,474.5 825.4,475.7 825.6,476.5 825.7,476.8 825.9,477.2 826.2,478.1 826.7,478.7 827.2,478.9 827.7,479.2 828.2,479.3 828.7,479.1 829.2,479.8 829.7,479.6 830.2,479.7 830.7,479.9 831.2,480.3 831.7,479.7 832.2,479.8 832.7,480.0 833.2,480.2 833.7,480.1 834.2,480.0 834.7,480.0 835.2,480.2 835.7,479.8 836.2,480.1 836.7,480.4 837.2,480.4 837.7,480.4 838.2,479.9 838.7,480.1 839.2,479.9 839.7,480.1 840.2,479.9 840.7,480.1 841.2,480.6 841.7,480.3 842.2,480.5 842.7,480.5 843.2,480.4 843.7,480.9 844.2,480.9 844.7,480.6 845.2,480.6 845.7,480.8 846.2,480.5 846.7,480.9 847.2,480.8 847.7,481.1 848.2,480.2 848.7,480.8 849.2,480.1 849.7,480.0 850.2,480.7 850.7,480.6 851.2,480.2 851.7,480.7 852.2,480.2 852.7,480.4 853.2,480.6 853.7,480.8 854.2,481.0 854.7,480.6 855.2,480.9 855.7,481.1 856.2,480.9 856.7,480.7 857.2,480.8 857.7,480.8 858.2,480.1 858.7,480.3 859.2,480.6 859.7,480.5 860.2,480.4 860.7,479.9 861.2,480.6 861.7,480.2 862.2,480.2 862.7,480.6 863.2,480.6 863.7,481.0 864.2,480.9 864.7,480.1 865.2,480.0 865.7,479.9 866.2,479.8 866.7,479.6 867.2,479.7 867.7,479.4 868.2,480.1 868.7,479.9 869.2,479.6 869.7,479.6 870.2,479.7 870.2,480.0 870.4,479.7 870.7,479.1 870.7,479.4 870.9,478.8 871.2,479.0 871.2,479.0 871.4,478.4 871.7,478.3 871.7,478.1 871.9,477.7 872.2,476.6 872.2,476.9 872.4,475.8 872.7,475.9 872.7,475.5 872.9,475.5 873.2,475.0 873.2,475.0 873.4,475.2 873.7,475.8 873.7,476.1 873.9,476.4 874.2,477.1 874.2,477.6 874.4,477.9 874.7,477.9 874.7,478.1 874.9,478.8 875.2,478.8 875.2,478.4 875.4,479.0 875.7,479.4 875.7,479.3 875.9,479.4 876.2,479.5 876.2,479.6 876.7,479.7 877.2,480.5 877.7,480.6 878.2,479.9 878.7,479.9 879.2,479.9 879.7,480.3 880.2,480.5 880.7,480.3 881.2,480.2 881.7,480.2 882.2,480.4 882.7,480.5 883.2,480.2 883.7,480.2 884.2,480.1 884.7,480.2 885.2,479.8 885.7,480.4 886.2,480.2 886.7,480.5 887.2,480.0 887.2,480.3 887.5,479.4 887.7,479.3 887.7,479.6 888.0,479.6 888.2,478.8 888.2,478.6 888.5,478.4 888.7,478.3 888.7,477.6 889.0,477.0 889.2,476.9 889.2,476.4 889.5,476.6 889.7,475.5 889.7,476.0 890.0,475.2 890.2,475.3 890.2,475.4 890.5,475.5 890.7,475.6 890.7,476.2 891.0,476.1 891.2,476.4 891.2,476.1 891.5,477.2 891.7,477.4 891.7,477.5 892.0,477.6 892.2,478.0 892.2,478.3 892.5,478.8 892.7,478.7 892.7,479.3 893.0,479.6 893.2,479.6 893.2,479.8 893.7,480.1 894.2,479.9 894.7,480.3 895.2,480.0 895.7,480.6 896.2,480.5 896.7,479.7 897.2,479.5 897.7,480.0 898.2,479.7 898.7,479.7 899.2,479.4 899.7,479.4 900.2,479.5 900.7,479.6 901.2,479.5 901.7,479.6 902.2,479.3 902.7,479.9 903.2,479.3 903.5,479.3 903.7,479.0 903.7,479.4 904.0,478.6 904.2,477.9 904.2,478.5 904.5,477.8 904.7,476.7 904.7,477.2 905.0,475.5 905.2,475.0 905.2,475.5 905.5,474.5 905.7,473.3 905.7,473.0 906.0,472.0 906.2,471.9 906.2,471.3 906.5,472.0 906.7,471.3 906.7,471.1 907.0,471.6 907.2,472.8 907.2,472.8 907.5,474.0 907.7,474.6 907.7,474.6 908.0,475.5 908.2,476.9 908.2,476.4 908.5,477.2 908.7,478.2 908.7,478.3 909.0,478.4 909.2,479.0 909.2,478.7 909.5,479.4 909.7,479.8 910.2,479.9 910.7,479.9 911.2,480.2 911.7,480.3 912.2,480.5 912.7,479.8 913.2,479.9 913.7,479.9 914.2,479.6 914.7,479.7 915.2,479.6 915.7,479.5 915.8,478.6 916.1,478.2 916.2,478.6 916.3,478.2 916.6,477.4 916.7,477.2 916.8,476.9 917.1,475.5 917.2,475.7 917.3,474.9 917.6,473.7 917.7,473.3 917.8,472.3 918.1,471.3 918.2,470.3 918.3,470.3 918.6,469.2 918.7,468.9 918.8,469.0 919.1,469.1 919.2,469.3 919.3,469.5 919.6,470.7 919.7,471.3 919.8,471.8 920.1,472.8 920.2,473.4 920.3,474.3 920.6,475.5 920.7,476.4 920.8,476.8 921.1,477.7 921.2,478.0 921.3,477.7 921.6,478.1 921.7,478.9 921.8,478.8 922.2,479.4 922.7,479.7 923.2,478.9 923.7,479.4 924.2,480.0 924.7,479.8 925.2,480.2 925.7,479.7 926.2,480.0 926.7,479.9 927.2,479.6 927.7,480.2 928.2,480.0 928.7,479.7 929.2,480.4 929.7,479.8 930.2,480.2 930.7,480.0 931.2,480.2 931.7,480.1 932.2,480.0 932.7,480.1 933.2,479.7 933.7,479.9 934.2,479.8 934.7,479.6 935.2,479.6 935.7,480.1 936.2,480.1 936.7,480.3 937.2,480.3 937.7,479.8 938.2,480.5 938.7,480.2 939.2,480.4 939.7,480.1 940.2,480.2 940.7,480.2 941.2,479.9 941.7,479.8 942.1,479.9 942.2,479.8 942.4,479.5 942.6,478.9 942.7,479.5 942.9,479.6 943.1,478.5 943.2,478.5 943.4,478.0 943.6,477.4 943.7,477.2 943.9,477.3 944.1,477.0 944.2,477.0 944.4,476.1 944.6,475.4 944.7,475.9 944.9,475.1 945.1,475.6 945.2,475.5 945.4,475.5 945.6,475.7 945.7,475.9 945.9,476.7 946.1,477.2 946.2,477.3 946.4,477.5 946.6,478.1 946.7,477.9 946.9,478.7 947.1,478.8 947.2,478.6 947.4,479.0 947.6,479.6 947.7,479.4 947.9,480.2 948.1,480.5 948.2,480.6 948.7,480.4 949.2,480.6 949.7,480.8 950.2,480.3 950.7,480.8 951.2,480.1 951.7,480.0 952.2,480.6 952.7,480.5 953.2,480.0 953.7,480.0 954.2,480.4 954.7,480.4 955.2,480.3 955.7,480.0 956.2,480.0 956.7,480.2 957.2,480.1 957.6,479.3 957.7,480.0 957.9,479.8 958.1,479.5 958.2,479.2 958.4,479.0 958.6,478.9 958.7,478.7 958.9,478.2 959.1,477.5 959.2,477.4 959.4,477.3 959.6,476.8 959.7,476.6 959.9,476.3 960.1,476.0 960.2,475.8 960.4,475.8 960.6,475.2 960.7,475.5 960.9,475.9 961.1,476.3 961.2,476.0 961.4,476.6 961.6,477.3 961.7,476.9 961.9,477.4 962.1,478.1 962.2,477.9 962.4,478.2 962.6,478.2 962.7,478.5 962.9,478.7 963.1,478.8 963.2,479.2 963.4,479.4 963.6,479.3 963.7,479.6 964.2,480.2 964.7,480.2 965.2,480.7 965.7,480.7 966.2,480.1 966.7,480.7 967.2,480.1 967.7,480.2 968.2,480.2 968.7,480.3 969.2,480.3 969.7,480.0 970.2,479.7 970.7,479.9 971.2,480.1 971.7,480.0 972.2,479.8 972.7,480.2 973.2,480.5 973.7,480.4 974.2,480.7 974.7,480.0 975.2,480.5 975.7,480.3 976.2,480.4 976.7,480.0 977.2,479.9 977.7,479.7 978.2,479.6 978.7,480.0 979.2,479.8 979.7,479.1 980.2,479.3 980.7,478.8 980.8,478.7 981.1,478.0 981.2,478.2 981.3,477.7 981.6,476.7 981.7,476.7 981.8,476.1 982.1,475.1 982.2,474.4 982.3,474.1 982.6,472.5 982.7,471.8 982.8,471.3 983.1,470.7 983.2,470.2 983.3,469.5 983.6,469.1 983.7,468.6 983.8,468.3 984.1,469.3 984.2,468.9 984.3,469.9 984.6,470.5 984.7,471.2 984.8,471.8 985.1,473.1 985.2,474.0 985.3,474.3 985.6,475.3 985.7,475.7 985.8,476.2 986.1,477.6 986.2,477.4 986.3,477.2 986.6,478.0 986.7,478.5 986.8,477.8 987.2,478.9 987.7,478.7 988.2,479.2 988.7,479.6 989.2,479.8 989.7,480.0 990.2,480.1 990.7,480.1 991.2,480.3 991.7,481.0 992.2,480.3 992.7,481.0 993.2,480.5 993.7,480.4 994.2,480.6 994.7,480.5 995.2,480.7 995.7,480.2 996.2,480.6 996.7,480.1 997.2,480.2 997.7,480.1 998.2,480.4 998.7,480.7 999.2,480.5 999.7,480.0 1000.2,480.4 1000.7,480.7 1001.2,480.2 1001.7,480.3 1002.2,480.8 1002.7,480.5 1003.2,480.1 1003.7,479.9 1004.0,479.8 1004.2,479.1 1004.3,478.8 1004.5,478.5 1004.7,478.1 1004.8,478.6 1005.0,478.0 1005.2,477.7 1005.3,477.5 1005.5,476.6 1005.7,476.7 1005.8,476.1 1006.0,475.8 1006.2,475.8 1006.3,475.8 1006.5,475.4 1006.7,475.3 1006.8,474.6 1007.0,474.8 1007.2,474.9 1007.3,474.9 1007.5,475.4 1007.7,475.3 1007.8,475.9 1008.0,476.1 1008.2,476.4 1008.3,476.5 1008.5,477.0 1008.7,477.7 1008.8,477.4 1009.0,477.7 1009.2,478.0 1009.3,478.0 1009.5,478.4 1009.7,478.6 1009.8,479.1 1010.0,478.9 1010.2,479.3 1010.7,479.2 1011.2,479.3 1011.7,480.2 1012.2,480.4 1012.7,480.4 1013.2,480.3 1013.7,480.0 1014.2,480.2 1014.7,480.6 1015.2,479.9 1015.7,480.0 1016.2,480.8 1016.7,480.2 1017.2,480.3 1017.7,480.1 1018.2,480.2 1018.7,480.0 1019.2,479.9 1019.5,479.7 1019.7,479.8 1019.8,479.6 1020.0,479.1 1020.2,478.3 1020.3,478.9 1020.5,478.4 1020.7,478.0 1020.8,477.5 1021.0,477.0 1021.2,477.3 1021.3,476.6 1021.5,476.5 1021.7,476.1 1021.8,476.6 1022.0,476.1 1022.2,475.2 1022.3,475.3 1022.5,475.4 1022.7,475.2 1022.8,475.4 1023.0,475.3 1023.2,475.8 1023.3,476.1 1023.5,476.6 1023.7,477.1 1023.8,477.4 1024.0,477.9 1024.2,478.4 1024.3,478.6 1024.5,479.0 1024.7,479.3 1024.8,479.0 1025.0,479.2 1025.2,479.3 1025.3,479.6 1025.5,480.0 1025.7,479.4 1026.2,479.9 1026.7,479.9 1027.2,480.3 1027.7,480.5 1028.2,480.4 1028.7,480.0 1029.2,480.6 1029.7,480.2 1030.2,479.9 1030.7,480.1 1031.2,480.6 1031.7,480.9 1032.2,480.5 1032.7,480.5 1033.2,480.0 1033.7,480.5 1034.2,481.0 1034.7,480.7 1035.2,480.7 1035.7,480.9 1036.2,480.4 1036.7,480.6 1037.2,480.8 1037.7,481.2 1038.2,481.1 1038.7,481.1 1039.2,480.5 1039.7,480.6 1040.2,481.1 1040.7,481.1 1041.2,480.7 1041.7,480.6 1042.2,480.1 1042.7,480.0 1043.2,480.3 1043.7,479.7 1044.2,479.6 1044.7,479.2 1045.0,479.2 1045.2,478.5 1045.3,478.8 1045.5,478.8 1045.7,478.8 1045.8,478.5 1046.0,477.8 1046.2,477.7 1046.3,477.4 1046.5,476.9 1046.7,476.9 1046.8,476.4 1047.0,475.8 1047.2,475.8 1047.3,476.1 1047.5,476.2 1047.7,475.6 1047.8,475.7 1048.0,476.1 1048.2,476.1 1048.3,475.7 1048.5,475.8 1048.7,476.4 1048.8,475.7 1049.0,476.4 1049.2,476.6 1049.3,476.8 1049.5,476.9 1049.7,477.4 1049.8,477.2 1050.0,477.5 1050.2,478.3 1050.3,478.3 1050.5,478.2 1050.7,479.0 1050.8,478.5 1051.0,479.7 1051.2,479.8 1051.7,479.8 1052.2,480.0 1052.7,480.5 1053.2,480.1 1053.7,480.5 1054.2,481.1 1054.7,481.2 1055.2,480.9 1055.7,480.2 1056.2,480.6 1056.7,480.1 1057.2,480.3 1057.7,480.3 1058.2,479.8 1058.2,479.4 1058.4,479.4 1058.7,479.2 1058.7,479.1 1058.9,479.1 1059.2,479.0 1059.2,478.9 1059.4,478.6 1059.7,477.9 1059.7,478.5 1059.9,477.7 1060.2,477.9 1060.2,477.2 1060.4,477.4 1060.7,477.5 1060.7,477.1 1060.9,477.1 1061.2,477.1 1061.2,477.1 1061.4,477.1 1061.7,477.3 1061.7,477.0 1061.9,477.5 1062.2,477.7 1062.2,477.3 1062.4,478.0 1062.7,477.9 1062.7,478.2 1062.9,478.0 1063.2,478.6 1063.2,479.0 1063.4,478.9 1063.7,479.4 1063.7,478.8 1063.9,479.7 1064.2,479.7 1064.2,479.2 1064.7,480.2 1065.2,480.2 1065.7,480.1 1066.2,480.6 1066.7,480.8 1067.2,480.4 1067.7,480.9 1068.2,481.0 1068.7,480.7 1069.2,480.5 1069.7,479.9 1069.8,479.5 1070.0,479.7 1070.2,479.4 1070.3,479.4 1070.5,479.1 1070.7,479.2 1070.8,479.2 1071.0,478.9 1071.2,478.6 1071.3,478.4 1071.5,478.3 1071.7,477.5 1071.8,476.9 1072.0,476.8 1072.2,475.9 1072.3,476.2 1072.5,475.5 1072.7,475.9 1072.8,475.8 1073.0,475.7 1073.2,475.9 1073.3,476.3 1073.5,476.4 1073.7,477.3 1073.8,477.3 1074.0,477.7 1074.2,478.1 1074.3,478.3 1074.5,478.9 1074.7,478.4 1074.8,478.7 1075.0,479.2 1075.2,479.2 1075.3,479.3 1075.5,480.2 1075.7,480.3 1075.8,479.9 1076.2,479.7 1076.7,479.9 1077.2,480.2 1077.7,480.3 1078.2,480.3 1078.7,480.5 1079.2,480.5 1079.7,480.0 1080.2,480.2 1080.7,480.5 1081.2,480.6 1081.7,479.9 1082.2,480.4 1082.7,480.4 1083.2,480.4 1083.7,480.8 1084.2,480.4"/><rect x="148.9" y="39.8" width="7.4" height="9.1" fill="none" stroke="#4d4d4d" stroke-width="1.3"/><text class="mk" x="113.4" y="240.6" style="font-size:14px">&#916;</text><text class="mk" x="142.7" y="247.0" style="font-size:18.5px">o</text><text class="mk" x="189.9" y="250.9" style="font-size:18.5px">o</text><text class="mk" x="196.3" y="228.6" style="font-size:14px">&#916;</text><rect x="200.8" y="232.3" width="7.2" height="8.4" fill="none" stroke="#4d4d4d" stroke-width="1.3"/><rect x="223.6" y="227.4" width="7.2" height="8.4" fill="none" stroke="#4d4d4d" stroke-width="1.3"/><text class="mk" x="228.9" y="215.9" style="font-size:14px">&#916;</text><text class="mks" x="0" y="0" style="font-size:17px" transform="translate(247.8,215.7) scale(0.82,1)">x</text><rect x="258.9" y="207.9" width="7.2" height="8.4" fill="none" stroke="#4d4d4d" stroke-width="1.3"/><path d="M230.0 218.7L235.9 225.2L235.9 235.4M248.9 218.5L239.2 225.2L239.2 235.4" stroke="#6e6e6e" stroke-width="1.4" fill="none"/><text class="mk" x="281.5" y="254.4" style="font-size:18.5px">o</text><text class="mk" x="289.0" y="254.4" style="font-size:18.5px">o</text><rect x="302.8" y="223.4" width="7.2" height="8.4" fill="none" stroke="#4d4d4d" stroke-width="1.3"/><text class="mk" x="325.4" y="233.3" style="font-size:14px">&#916;</text><path d="M309.0 233.0L314.0 240.0L314.0 250.7M322.0 234.0L317.0 240.0L317.0 250.7" stroke="#6e6e6e" stroke-width="1.4" fill="none"/><rect x="327.8" y="238.8" width="7.2" height="8.4" fill="none" stroke="#4d4d4d" stroke-width="1.3"/><rect x="343.3" y="237.3" width="7.2" height="8.4" fill="none" stroke="#4d4d4d" stroke-width="1.3"/><rect x="356.9" y="232.2" width="7.2" height="8.4" fill="none" stroke="#4d4d4d" stroke-width="1.3"/><text class="mk" x="374.5" y="254.4" style="font-size:18.5px">o</text><text class="mk" x="385.5" y="247.6" style="font-size:14px">&#916;</text><rect x="397.4" y="242.8" width="7.2" height="8.4" fill="none" stroke="#4d4d4d" stroke-width="1.3"/><text class="mks" x="0" y="0" style="font-size:17px" transform="translate(411.4,249.2) scale(0.82,1)">x</text><text class="mk" x="424.2" y="237.7" style="font-size:14px">&#916;</text><rect x="446.0" y="238.2" width="7.2" height="8.4" fill="none" stroke="#4d4d4d" stroke-width="1.3"/><rect x="461.4" y="238.2" width="7.2" height="8.4" fill="none" stroke="#4d4d4d" stroke-width="1.3"/><text class="mk" x="479.8" y="233.3" style="font-size:14px">&#916;</text><rect x="498.3" y="223.8" width="7.2" height="8.4" fill="none" stroke="#4d4d4d" stroke-width="1.3"/><path d="M483.0 234.0L487.5 240.0L487.5 250.5M498.0 234.0L490.5 240.0L490.5 250.5" stroke="#6e6e6e" stroke-width="1.4" fill="none"/><text class="mk" x="512.5" y="250.7" style="font-size:18.5px">o</text><text class="mks" x="234.5" y="420.9" style="font-size:21.5px;font-weight:bold;fill:#111">*</text><text class="mks" x="260.9" y="419.8" style="font-size:21.5px;font-weight:bold;fill:#111">*</text><text class="mks" x="446.2" y="421.8" style="font-size:21.5px;font-weight:bold;fill:#111">*</text><rect x="707.8" y="71.1" width="9.0" height="9.4" fill="none" stroke="#4d4d4d" stroke-width="1.3"/><text class="mk" x="704.3" y="240.0" style="font-size:18.5px">o</text><text class="mk" x="749.0" y="191.3" style="font-size:18.5px">o</text><text class="mk" x="755.6" y="242.8" style="font-size:14px">&#916;</text><rect x="760.7" y="229.4" width="7.2" height="8.4" fill="none" stroke="#4d4d4d" stroke-width="1.3"/><rect x="779.6" y="227.1" width="7.2" height="8.4" fill="none" stroke="#4d4d4d" stroke-width="1.3"/><text class="mk" x="787.8" y="220.6" style="font-size:14px">&#916;</text><text class="mks" x="0" y="0" style="font-size:17px" transform="translate(806.8,221.9) scale(0.82,1)">x</text><path d="M785.0 222.5L792.5 229.0L792.5 239.0M808.0 222.0L798.5 229.0L798.5 239.0" stroke="#6e6e6e" stroke-width="1.4" fill="none"/><rect x="817.9" y="212.6" width="7.2" height="8.4" fill="none" stroke="#4d4d4d" stroke-width="1.3"/><text class="mk" x="673.2" y="247.8" style="font-size:14px">&#916;</text><text class="mk" x="839.9" y="254.9" style="font-size:18.5px">o</text><text class="mk" x="849.4" y="251.8" style="font-size:18.5px">o</text><rect x="859.8" y="222.8" width="7.2" height="8.4" fill="none" stroke="#4d4d4d" stroke-width="1.3"/><text class="mk" x="884.6" y="232.3" style="font-size:14px">&#916;</text><path d="M867.0 233.0L871.5 239.0L871.5 248.7M881.0 233.0L874.5 239.0L874.5 248.7" stroke="#6e6e6e" stroke-width="1.4" fill="none"/><rect x="887.1" y="238.6" width="7.2" height="8.4" fill="none" stroke="#4d4d4d" stroke-width="1.3"/><rect x="902.2" y="237.3" width="7.2" height="8.4" fill="none" stroke="#4d4d4d" stroke-width="1.3"/><rect x="916.1" y="233.7" width="7.2" height="8.4" fill="none" stroke="#4d4d4d" stroke-width="1.3"/><text class="mk" x="932.2" y="244.0" style="font-size:18.5px">o</text><text class="mk" x="944.1" y="250.0" style="font-size:14px">&#916;</text><rect x="956.8" y="240.2" width="7.2" height="8.4" fill="none" stroke="#4d4d4d" stroke-width="1.3"/><text class="mks" x="0" y="0" style="font-size:17px" transform="translate(971.2,250.9) scale(0.82,1)">x</text><text class="mk" x="983.1" y="243.1" style="font-size:14px">&#916;</text><text class="mk" x="998.9" y="231.4" style="font-size:18.5px">o</text><rect x="1016.9" y="221.8" width="7.2" height="8.4" fill="none" stroke="#4d4d4d" stroke-width="1.3"/><path d="M1002.0 232.0L1006.0 238.0L1006.0 247.6M1016.0 232.0L1009.0 238.0L1009.0 247.6" stroke="#6e6e6e" stroke-width="1.4" fill="none"/><rect x="1021.3" y="240.2" width="7.2" height="8.4" fill="none" stroke="#4d4d4d" stroke-width="1.3"/><text class="mk" x="1039.4" y="232.3" style="font-size:14px">&#916;</text><rect x="1057.4" y="221.3" width="7.2" height="8.4" fill="none" stroke="#4d4d4d" stroke-width="1.3"/><path d="M1043.0 233.0L1046.5 239.0L1046.5 248.0M1057.0 232.0L1049.5 239.0L1049.5 248.0" stroke="#6e6e6e" stroke-width="1.4" fill="none"/><text class="mk" x="1071.2" y="248.3" style="font-size:18.5px">o</text><rect x="364.8" y="41.6" width="131.5" height="136.7" fill="none" stroke="#555" stroke-width="1.2"/><rect x="378.0" y="49.4" width="7.6" height="7.6" fill="none" stroke="#4d4d4d" stroke-width="1.3"/><line x1="391.2" y1="54.2" x2="396.4" y2="54.2" stroke="#222" stroke-width="1.3"/><text class="lg" transform="translate(400.6,58.8) scale(1.130,1)">Na</text><text class="sub" transform="translate(423.2,66.2) scale(1.130,1)">2</text><text class="lg" transform="translate(430.0,58.8) scale(1.130,1)">WO</text><text class="sub" transform="translate(459.9,66.2) scale(1.130,1)">4</text><text class="mks" x="380.5" y="86.7" style="font-size:15.5px;font-weight:bold">o</text><line x1="389.2" y1="82.2" x2="393.8" y2="82.2" stroke="#222" stroke-width="1.3"/><text class="lg" transform="translate(399.8,86.6) scale(1.130,1)">Quartz</text><text class="mks" x="379.3" y="113.8" style="font-size:13.8px">&#916;</text><line x1="391.2" y1="109.4" x2="396.4" y2="109.4" stroke="#222" stroke-width="1.3"/><text class="lg" transform="translate(401.6,113.8) scale(1.130,1)">Cristobalite</text><text class="mks" x="0" y="0" style="font-size:17.5px" transform="translate(379.8,141.4) scale(0.8,1)">x</text><line x1="393.7" y1="137.0" x2="398.3" y2="137.0" stroke="#222" stroke-width="1.3"/><text class="lg" transform="translate(403.0,141.4) scale(1.130,1)">M</text><text class="lg" transform="translate(417.6,141.4) scale(1.130,1)">n</text><text class="sub" transform="translate(427.6,148.3) scale(1.130,1)">2</text><text class="lg" transform="translate(433.6,141.4) scale(1.130,1)">O</text><text class="sub" transform="translate(447.6,148.3) scale(1.130,1)">3</text><text class="mks" x="381.2" y="174.0" style="font-size:22.0px;font-weight:bold;fill:#111">*</text><line x1="394.2" y1="161.6" x2="398.9" y2="161.6" stroke="#222" stroke-width="1.3"/><text class="lg" transform="translate(403.6,166.0) scale(1.130,1)">M</text><text class="lg" transform="translate(418.2,166.0) scale(1.130,1)">n</text><text class="sub" transform="translate(428.8,172.3) scale(1.130,1)">3</text><text class="lg" transform="translate(434.9,166.0) scale(1.130,1)">O</text><text class="sub" transform="translate(447.9,172.3) scale(1.130,1)">4</text><text class="cl" x="63.3" y="247.5">(D)</text><text class="cl" x="63.3" y="338.0">(C)</text><text class="cl" x="63.3" y="406.5">(B)</text><text class="cl" x="63.3" y="470.5">(A)</text><text class="cl" x="621.8" y="249.5">(D)</text><text class="cl" x="621.8" y="334.0">(C)</text><text class="cl" x="621.8" y="404.5">(B)</text><text class="cl" x="621.8" y="470.5">(A)</text><text class="ax" x="200.1" y="549.6" >2Theta (degree)</text><text class="ax" x="759.6" y="549.6" >2Theta (degree)</text><text class="yl" x="0" y="0" transform="translate(44.0,349.0) rotate(-90)">Intensity (a.u.)</text><text class="yl" x="0" y="0" transform="translate(605.0,351.3) rotate(-90)">Intensity (a.u.)</text><text class="pl" x="274.9" y="624.7">(a)</text><text class="pl" x="832.6" y="624.7">(b)</text></svg></body></html>
